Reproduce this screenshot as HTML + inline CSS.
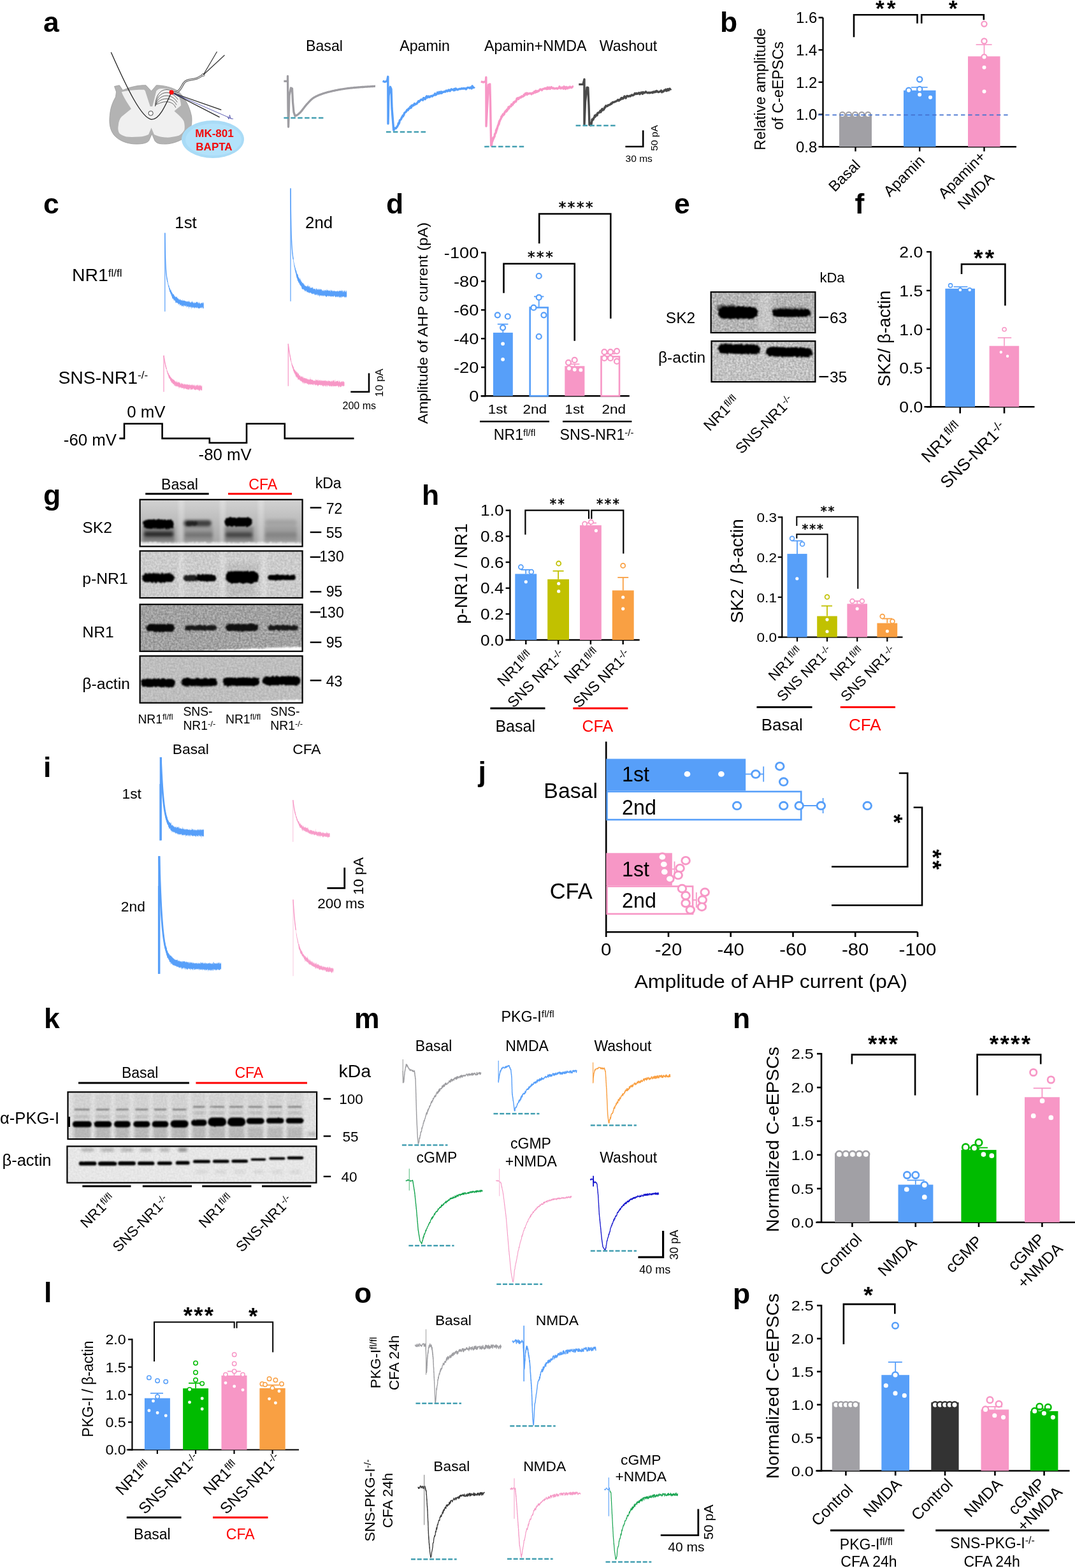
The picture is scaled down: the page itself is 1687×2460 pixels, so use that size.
<!DOCTYPE html>
<html><head><meta charset="utf-8"><title>Figure</title>
<style>html,body{margin:0;padding:0;background:#fff;}svg{display:block;}
text{font-family:"Liberation Sans", Arial, Helvetica, sans-serif;}</style></head>
<body><svg width="1687" height="2460" viewBox="0 0 1687 2460">
<rect width="1687" height="2460" fill="#fff"/>
<text x="68.0" y="50.0" font-size="44.5" font-weight="bold">a</text>
<path d="M179.5,135.5 L187.4,133.8 L192.7,141.5 C205,136 218,133.5 229,133.8 L237.5,143 L245.4,133.8 C258,134 270,137 279,142.6 C290,152 298,168 300.7,183 C302,195 299,205 293,213 C285,221 270,226 259.4,226 C250,226 246,225 243,221 L238.4,210 L233.5,221 C230,225 222,226 213.8,226 C200,226 187,221 179,212 C172,203 171,192 172.5,180 C173.5,168 177,160 181.5,152 L182.5,144 Z" fill="#b3b3b3" stroke="#9a9a9a" stroke-width="0.8"/>
<path d="M190.9,144.3 C205,141 216,140.5 226.1,140.8 L227.8,142.6 L235.7,167.1 L239.2,167.1 L245.4,142.6 C248,140 250,139 252.4,139 C258,139 262,139 266.5,139.9 C272,142 276,144 278.8,147.8 C282,154 284,160 284,165.4 L273.5,174.2 C280,180 286,185 288.4,190 C290,195 290,200 289.3,204 C287,208 284,211 280.5,212.8 C272,215 265,216 259.4,215.5 C252,215 246,213 241.9,211 L237.5,200.5 L233.1,211 C228,213 224,214.6 219,214.6 C210,215 203,215 198,214.6 C193,213 189,211 187.4,209.3 C185,205 185,201 185.7,197 C186,191 188,186 190.9,183 L205.9,170.7 L198,158.4 C195,153 192,148 190.9,144.3 Z" fill="#f0f0f0" stroke="none" stroke-width="0"/>
<path d="M243.5,167.0 C244.0,152.0 250.0,140.5 262.0,140.5 C270.0,141.0 276.0,146.0 280.5,152.0" fill="none" stroke="#555" stroke-width="0.9"/>
<path d="M244.1,166.0 C244.5,155.2 251.0,145.1 262.0,145.3 C270.0,145.8 275.5,150.6 279.3,156.2" fill="none" stroke="#555" stroke-width="0.9"/>
<path d="M244.7,165.0 C245.0,158.4 252.0,149.7 262.0,150.1 C270.0,150.6 275.0,155.2 278.1,160.4" fill="none" stroke="#555" stroke-width="0.9"/>
<path d="M245.3,164.0 C245.5,161.6 253.0,154.3 262.0,154.9 C270.0,155.4 274.5,159.8 276.9,164.6" fill="none" stroke="#555" stroke-width="0.9"/>
<path d="M245.9,163.0 C246.0,164.8 254.0,158.9 262.0,159.7 C270.0,160.2 274.0,164.4 275.7,168.8" fill="none" stroke="#555" stroke-width="0.9"/>
<circle cx="236.6" cy="177.7" r="3.6" fill="#fff" stroke="#444" stroke-width="1"/>
<path d="M174.3,82 C200,140 222,185 237.5,187.3 C250,188 260,165 269,145" fill="none" stroke="#222" stroke-width="1.3"/>
<path d="M269,145 C281,147 283,139 288,131 C292,124 300,126 309,123 C314,121 316,119 319,117" fill="none" stroke="#555" stroke-width="3.4"/>
<path d="M269,145 C281,147 283,139 288,131 C292,124 300,126 309,123 C314,121 316,119 319,117" fill="none" stroke="#e8e8e8" stroke-width="1.3"/>
<circle cx="319.0" cy="117.5" r="2.2" fill="#fff" stroke="#555" stroke-width="0.8"/>
<line x1="319.0" y1="117.5" x2="340.5" y2="81.0" stroke="#333" stroke-width="1.2"/>
<line x1="319.0" y1="117.5" x2="352.5" y2="86.5" stroke="#333" stroke-width="1.2"/>
<line x1="269.0" y1="145.0" x2="347.3" y2="172.4" stroke="#222" stroke-width="1.3"/>
<line x1="269.0" y1="145.0" x2="344.6" y2="183.8" stroke="#222" stroke-width="1.3"/>
<line x1="269.0" y1="145.0" x2="363.0" y2="186.0" stroke="#3a3aa0" stroke-width="0.8"/>
<path d="M357,183 L359,187 L360.5,180.5 L362,186 L366,186.5" fill="none" stroke="#3a3aa0" stroke-width="0.8"/>
<circle cx="269.1" cy="144.8" r="3.6" fill="#ff1010"/>
<ellipse cx="334" cy="218.5" rx="49" ry="29.5" fill="#a9dbf6"/>
<ellipse cx="335" cy="219" rx="44" ry="25" fill="#b3e2fb"/>
<text x="336.5" y="214.5" font-size="17" text-anchor="middle" font-weight="bold" fill="#f20a0a">MK-801</text>
<text x="336.0" y="235.5" font-size="17" text-anchor="middle" font-weight="bold" fill="#f20a0a">BAPTA</text>
<text x="509.0" y="80.0" font-size="23.2" text-anchor="middle">Basal</text>
<text x="666.5" y="80.0" font-size="23.2" text-anchor="middle">Apamin</text>
<text x="840.2" y="80.0" font-size="23.2" text-anchor="middle">Apamin+NMDA</text>
<text x="986.0" y="80.0" font-size="23.2" text-anchor="middle">Washout</text>
<polyline points="445.4,127.3 451.5,127.3 451.5,119.5 452.0,170.0 452.6,199.0 454.0,150.0 456.5,138.0 458.5,139.0 459.5,160.0 461.0,176.0 463.0,182.0 463.0,182.0 463.7,181.7 464.6,181.3 465.8,180.8 467.0,180.0 467.7,179.5 468.4,178.9 469.1,178.3 469.9,177.6 470.8,176.8 471.7,175.8 472.7,174.7 473.2,174.1 473.8,173.4 474.4,172.6 475.0,171.8 475.6,171.0 476.3,170.1 477.0,169.2 477.6,168.3 478.3,167.4 479.0,166.5 479.8,165.6 480.5,164.7 481.2,163.8 482.0,163.0 482.7,162.3 483.3,161.6 484.0,160.9 484.6,160.2 485.2,159.5 485.9,158.8 486.6,158.1 487.2,157.4 488.0,156.7 488.7,156.1 489.5,155.4 490.3,154.8 491.1,154.1 492.0,153.5 493.0,152.9 494.0,152.3 494.8,151.9 495.5,151.5 496.3,151.1 497.2,150.7 498.0,150.3 498.8,149.9 499.7,149.5 500.6,149.1 501.5,148.8 502.5,148.4 503.4,148.1 504.4,147.7 505.4,147.4 506.4,147.0 507.4,146.7 508.5,146.3 509.5,146.0 510.7,145.7 511.8,145.4 512.9,145.0 514.1,144.7 515.3,144.4 516.1,144.2 517.0,144.0 517.8,143.8 518.7,143.5 519.6,143.3 520.5,143.1 521.4,142.9 522.3,142.7 523.2,142.5 524.2,142.3 525.1,142.1 526.1,141.9 527.1,141.7 528.0,141.5 529.0,141.3 530.0,141.1 531.0,140.9 532.1,140.7 533.1,140.5 534.1,140.4 535.2,140.2 536.2,140.0 537.3,139.8 538.4,139.7 539.5,139.5 540.5,139.3 541.7,139.2 542.8,139.0 543.9,138.8 545.0,138.7 546.2,138.5 547.3,138.4 548.2,138.3 549.2,138.2 550.1,138.1 551.2,138.0 552.2,137.9 553.3,137.8 554.4,137.7 555.5,137.5 556.6,137.5 557.7,137.4 558.9,137.3 560.1,137.2 561.2,137.1 562.4,137.0 563.6,136.9 564.8,136.8 566.0,136.7 567.2,136.6 568.4,136.5 569.6,136.5 570.7,136.4 571.9,136.3 573.0,136.2 574.2,136.2 575.3,136.1 576.4,136.0 577.5,135.9 578.5,135.9 579.6,135.8 580.6,135.8 581.5,135.7 582.5,135.6 583.4,135.6 584.2,135.5 585.0,135.5 585.8,135.4 586.5,135.4 587.2,135.3 587.9,135.3 588.5,135.2 589.0,135.2" fill="none" stroke="#9e9da2" stroke-width="3.3" stroke-linejoin="round"/>
<line x1="445.4" y1="184.9" x2="510.6" y2="184.9" stroke="#45a0b2" stroke-width="2.5" stroke-dasharray="7.5 3.4"/>
<polyline points="600.6,127.2 604.0,128.5 607.5,127.0 608.8,120.3 609.0,170.0 609.0,194.0 610.0,150.0 612.5,136.3 614.0,140.0 615.0,170.0 617.7,204.0 617.7,203.8 618.1,204.0 618.6,202.9 619.2,202.2 619.9,201.0 620.7,200.9 621.5,201.3 622.3,199.7 623.2,199.1 624.0,197.2 624.4,196.7 624.8,195.8 625.3,193.3 625.7,194.7 626.2,193.5 626.6,192.6 627.1,189.7 627.5,188.7 628.0,188.5 628.5,187.9 629.0,187.6 629.5,186.3 630.0,185.9 630.5,183.9 631.0,183.8 631.5,183.0 632.1,181.2 632.6,182.5 633.2,180.6 633.8,180.3 634.4,177.9 635.0,177.0 635.6,176.5 636.2,176.0 636.8,175.9 637.5,174.9 638.2,173.5 638.9,172.3 639.6,172.0 640.4,172.8 641.3,170.2 642.3,170.4 643.3,169.7 643.9,167.4 644.6,168.3 645.3,168.9 646.0,165.4 646.7,166.4 647.4,166.0 648.2,164.8 649.0,165.4 649.7,164.3 650.5,162.5 651.4,164.0 652.2,163.3 653.0,163.0 653.9,162.8 654.8,161.3 655.7,160.5 656.6,158.7 657.6,159.8 658.5,158.2 659.5,157.8 660.5,156.5 661.5,156.2 662.5,156.1 663.5,157.2 664.6,153.7 665.4,153.8 666.2,155.0 667.1,155.7 667.9,154.5 668.8,151.9 669.7,150.9 670.6,153.1 671.6,151.8 672.5,151.0 673.5,152.5 674.5,152.3 675.5,151.0 676.4,150.7 677.4,150.5 678.4,151.2 679.5,149.9 680.5,149.5 681.5,149.1 682.5,146.9 683.5,149.1 684.5,148.4 685.5,147.7 686.5,145.1 687.5,146.0 688.5,147.0 689.4,144.3 690.4,145.4 691.3,146.2 692.3,143.8 693.2,146.2 694.1,145.0 694.9,144.1 695.8,144.2 696.6,144.3 697.8,143.5 698.9,144.1 700.1,142.2 701.2,142.1 702.2,143.2 703.3,142.0 704.3,141.0 705.3,142.5 706.3,142.8 707.3,140.9 708.3,139.9 709.2,140.8 710.2,140.7 711.2,140.4 712.1,141.8 713.1,139.5 714.0,141.4 715.0,139.0 716.0,139.3 717.0,140.5 718.0,140.8 719.0,140.4 720.0,139.8 721.0,139.5 722.1,139.4 723.2,139.6 724.3,138.8 725.5,139.0 726.6,139.2 727.8,138.5 729.0,139.1 730.2,138.8 731.4,139.9 732.6,138.3 733.8,137.5 734.9,137.4 736.0,137.6 737.1,138.4 738.2,137.1 739.2,137.7 740.2,138.9 741.1,134.9 741.9,136.1 742.7,137.2 743.4,137.3 744.0,137.1 744.6,136.4" fill="none" stroke="#579ff9" stroke-width="3.4" stroke-linejoin="round"/>
<line x1="606.0" y1="207.1" x2="671.0" y2="207.1" stroke="#45a0b2" stroke-width="2.5" stroke-dasharray="7.5 3.4"/>
<polyline points="754.7,128.2 759.0,129.0 762.3,127.5 762.8,121.3 763.0,170.0 763.0,198.0 764.5,170.0 766.5,133.0 768.8,132.0 769.5,160.0 770.7,228.0 770.7,228.6 770.9,227.7 771.1,226.2 771.4,227.9 771.8,225.0 772.1,223.1 772.5,222.3 772.9,221.1 773.3,220.1 773.6,216.6 774.0,217.6 774.4,217.9 774.7,215.1 775.0,215.3 775.3,215.5 775.7,214.6 776.1,214.2 776.5,210.3 777.1,210.1 777.7,208.5 777.9,208.7 778.2,208.4 778.5,204.2 778.7,206.8 779.0,203.7 779.2,204.7 779.5,201.9 779.8,202.4 780.1,202.4 780.4,200.2 780.7,199.5 781.0,199.0 781.3,197.4 781.7,196.2 782.0,196.6 782.4,195.1 782.8,192.9 783.1,194.6 783.5,190.1 784.0,190.9 784.4,188.9 784.8,188.2 785.3,187.8 785.8,186.4 786.3,185.9 786.8,183.1 787.3,182.3 787.8,183.3 788.4,181.1 788.9,180.2 789.5,179.0 790.1,180.6 790.7,179.3 791.3,179.1 792.0,176.1 792.6,176.1 793.3,174.3 793.9,175.1 794.6,175.1 795.3,172.0 796.0,173.4 796.6,172.1 797.3,170.3 798.0,167.9 798.7,170.2 799.4,168.1 800.0,166.9 800.7,167.1 801.4,166.4 802.0,166.7 802.7,163.7 803.3,165.0 804.1,164.5 804.9,163.7 805.6,161.5 806.4,160.2 807.2,161.1 808.0,159.5 808.8,158.8 809.6,159.3 810.4,157.1 811.2,154.6 812.0,155.6 812.8,153.7 813.6,155.5 814.3,154.4 815.1,153.0 815.9,153.0 816.7,153.2 817.4,152.0 818.2,152.6 818.9,150.9 819.7,151.5 820.4,151.4 821.4,151.0 822.4,148.5 823.4,149.5 824.4,146.7 825.3,147.1 826.2,146.1 827.1,148.6 828.0,146.3 829.0,147.3 829.9,146.9 830.9,146.9 831.9,146.2 833.0,146.7 834.1,147.8 835.3,145.9 836.1,146.1 836.9,146.3 837.7,144.9 838.5,143.7 839.3,144.0 840.1,145.2 840.9,142.4 841.7,143.0 842.5,144.2 843.4,143.7 844.3,142.6 845.2,143.0 846.1,142.1 847.1,140.6 848.1,139.9 849.2,140.5 850.3,141.6 851.4,140.0 852.7,139.4 853.9,139.3 855.3,138.3 856.7,139.4 857.5,138.3 858.3,139.6 859.2,137.1 860.1,139.4 861.1,138.4 862.0,137.1 863.1,139.4 864.1,138.5 865.2,136.6 866.3,137.7 867.4,138.7 868.6,137.9 869.7,139.0 870.9,138.9 872.1,138.7 873.3,138.3 874.5,139.2 875.7,138.5 876.9,138.2 878.1,135.9 879.3,138.5 880.5,138.8 881.7,137.3 882.9,137.1 884.1,139.2 885.2,135.8 886.4,137.8 887.5,139.5 888.6,136.4 889.6,137.8 890.6,138.8 891.6,137.0 892.6,137.6 893.5,137.8 894.4,136.1 895.3,136.8 896.1,137.1 896.8,137.6 897.5,136.8 898.2,136.6 898.8,135.8 899.3,136.4" fill="none" stroke="#f797c6" stroke-width="3.4" stroke-linejoin="round"/>
<line x1="760.2" y1="230.1" x2="825.0" y2="230.1" stroke="#45a0b2" stroke-width="2.5" stroke-dasharray="7.5 3.4"/>
<polyline points="908.3,132.4 915.0,132.4 917.0,124.5 917.0,170.0 917.0,196.0 918.5,160.0 921.0,137.3 922.8,137.5 924.0,165.0 925.0,196.0 927.0,196.0 927.0,196.8 927.2,195.5 927.4,193.9 927.7,193.0 928.0,195.2 928.3,192.7 928.7,191.1 929.2,187.1 929.7,188.8 930.3,187.5 931.0,187.5 931.5,185.7 932.1,184.5 932.7,184.3 933.4,181.3 934.1,183.2 934.8,181.8 935.6,180.1 936.3,181.1 937.1,180.8 937.9,177.1 938.7,177.0 939.6,177.1 940.4,176.3 941.2,175.1 942.0,173.8 942.8,176.0 943.5,174.3 944.3,171.7 945.1,170.9 945.9,173.0 946.7,171.7 947.5,171.9 948.3,170.3 949.1,168.2 949.9,168.6 950.7,165.9 951.6,166.6 952.4,166.6 953.3,166.6 954.1,164.9 955.0,164.9 955.8,164.9 956.6,164.3 957.4,164.1 958.1,163.3 958.9,162.4 959.6,163.0 960.4,161.9 961.2,160.7 962.0,160.4 962.8,160.6 963.8,160.1 964.8,159.8 965.8,159.2 967.0,158.9 968.3,158.1 969.7,156.5 970.4,157.7 971.1,158.0 971.9,157.1 972.7,156.2 973.5,156.4 974.4,154.8 975.3,153.6 976.2,155.0 977.1,153.7 978.0,154.8 979.0,152.8 980.0,151.0 981.0,152.0 982.0,154.0 983.0,151.8 984.0,150.5 985.0,150.7 986.0,151.4 987.1,151.0 988.1,150.3 989.2,151.1 990.2,150.1 991.2,149.0 992.2,149.2 993.2,149.8 994.2,148.9 995.2,148.6 996.2,146.4 997.2,147.0 998.1,147.5 999.0,146.3 1000.0,147.3 1000.8,146.6 1001.7,146.7 1002.8,145.5 1004.0,147.8 1005.1,146.4 1006.2,145.0 1007.2,145.1 1008.3,147.3 1009.3,144.6 1010.4,145.7 1011.4,145.7 1012.4,144.9 1013.4,143.8 1014.4,145.0 1015.4,145.2 1016.4,145.9 1017.4,145.7 1018.3,145.0 1019.3,145.8 1020.3,145.5 1021.3,145.2 1022.3,145.1 1023.3,144.8 1024.3,145.6 1025.3,144.0 1026.3,144.3 1027.3,144.8 1028.3,143.4 1029.4,144.2 1030.5,142.6 1031.7,143.6 1032.8,144.6 1034.0,144.4 1035.2,143.7 1036.4,143.3 1037.6,142.0 1038.8,144.7 1040.0,143.4 1041.1,143.7 1042.3,141.7 1043.4,142.1 1044.5,140.4 1045.6,142.6 1046.6,142.5 1047.6,139.8 1048.5,141.3 1049.4,141.7 1050.2,139.4 1051.0,139.2 1051.7,139.7 1052.3,140.0 1052.9,139.2" fill="none" stroke="#4a4a4a" stroke-width="3.4" stroke-linejoin="round"/>
<line x1="903.6" y1="197.0" x2="968.6" y2="197.0" stroke="#45a0b2" stroke-width="2.5" stroke-dasharray="7.5 3.4"/>
<path d="M981.4,230 L1009.2,230 L1009.2,204.5" fill="none" stroke="#000" stroke-width="2.6"/>
<text x="1031.5" y="216.5" font-size="15.5" text-anchor="middle" transform="rotate(-90 1031.5 216.5)">50 pA</text>
<text x="1002.7" y="253.6" font-size="15.5" text-anchor="middle">30 ms</text>
<text x="1130.0" y="50.0" font-size="44.5" font-weight="bold">b</text>
<line x1="1291.5" y1="27.6" x2="1291.5" y2="231.4" stroke="#000" stroke-width="2.4"/>
<line x1="1284.5" y1="27.6" x2="1291.5" y2="27.6" stroke="#000" stroke-width="2.4"/>
<text x="1282.3" y="36.2" font-size="24" text-anchor="end">1.6</text>
<line x1="1284.5" y1="78.3" x2="1291.5" y2="78.3" stroke="#000" stroke-width="2.4"/>
<text x="1282.3" y="86.9" font-size="24" text-anchor="end">1.4</text>
<line x1="1284.5" y1="128.9" x2="1291.5" y2="128.9" stroke="#000" stroke-width="2.4"/>
<text x="1282.3" y="137.5" font-size="24" text-anchor="end">1.2</text>
<line x1="1284.5" y1="179.6" x2="1291.5" y2="179.6" stroke="#000" stroke-width="2.4"/>
<text x="1282.3" y="188.2" font-size="24" text-anchor="end">1.0</text>
<line x1="1284.5" y1="230.2" x2="1291.5" y2="230.2" stroke="#000" stroke-width="2.4"/>
<text x="1282.3" y="238.8" font-size="24" text-anchor="end">0.8</text>
<line x1="1290.3" y1="230.2" x2="1595.0" y2="230.2" stroke="#000" stroke-width="2.4"/>
<line x1="1342.5" y1="230.2" x2="1342.5" y2="237.5" stroke="#000" stroke-width="2.4"/>
<line x1="1443.2" y1="230.2" x2="1443.2" y2="237.5" stroke="#000" stroke-width="2.4"/>
<line x1="1544.5" y1="230.2" x2="1544.5" y2="237.5" stroke="#000" stroke-width="2.4"/>
<rect x="1317.0" y="179.6" width="51.0" height="50.6" fill="#a1a0a5"/>
<rect x="1418.0" y="141.8" width="50.5" height="88.4" fill="#579ff9"/>
<rect x="1519.0" y="88.4" width="50.5" height="141.8" fill="#f797c6"/>
<line x1="1443.2" y1="141.8" x2="1443.2" y2="137.0" stroke="#579ff9" stroke-width="1.6"/>
<line x1="1430.0" y1="137.0" x2="1455.7" y2="137.0" stroke="#579ff9" stroke-width="1.6"/>
<line x1="1544.5" y1="88.4" x2="1544.5" y2="70.0" stroke="#f797c6" stroke-width="1.6"/>
<line x1="1531.6" y1="70.0" x2="1556.6" y2="70.0" stroke="#f797c6" stroke-width="1.6"/>
<circle cx="1322.0" cy="180.0" r="4.1" fill="#fff" stroke="#a1a0a5" stroke-width="2.1"/>
<circle cx="1332.0" cy="180.0" r="4.1" fill="#fff" stroke="#a1a0a5" stroke-width="2.1"/>
<circle cx="1342.0" cy="180.0" r="4.1" fill="#fff" stroke="#a1a0a5" stroke-width="2.1"/>
<circle cx="1352.3" cy="180.0" r="4.1" fill="#fff" stroke="#a1a0a5" stroke-width="2.1"/>
<circle cx="1362.2" cy="180.0" r="4.1" fill="#fff" stroke="#a1a0a5" stroke-width="2.1"/>
<circle cx="1443.2" cy="124.5" r="4.1" fill="#fff" stroke="#579ff9" stroke-width="2.2"/>
<circle cx="1426.0" cy="141.8" r="4.1" fill="#fff" stroke="#579ff9" stroke-width="2.2"/>
<circle cx="1443.2" cy="139.9" r="4.1" fill="#fff" stroke="#579ff9" stroke-width="2.2"/>
<circle cx="1443.2" cy="148.4" r="4.1" fill="#fff" stroke="#579ff9" stroke-width="2.2"/>
<circle cx="1460.0" cy="152.8" r="4.1" fill="#fff" stroke="#579ff9" stroke-width="2.2"/>
<circle cx="1544.5" cy="37.6" r="4.1" fill="#fff" stroke="#f797c6" stroke-width="2.2"/>
<circle cx="1544.5" cy="64.4" r="4.1" fill="#fff" stroke="#f797c6" stroke-width="2.2"/>
<circle cx="1544.5" cy="89.5" r="4.1" fill="#fff" stroke="#f797c6" stroke-width="2.2"/>
<circle cx="1544.5" cy="105.7" r="4.1" fill="#fff" stroke="#f797c6" stroke-width="2.2"/>
<circle cx="1544.5" cy="143.6" r="4.1" fill="#fff" stroke="#f797c6" stroke-width="2.2"/>
<line x1="1284.0" y1="180.4" x2="1582.0" y2="180.4" stroke="#4472d0" stroke-width="1.7" stroke-dasharray="6.4 4.8"/>
<path d="M1340.0,58.2 L1340.0,23.2 L1439.5,23.2 L1439.5,36.8" fill="none" stroke="#000" stroke-width="2.6"/>
<path d="M1446.2,36.8 L1446.2,23.2 L1543.8,23.2 L1543.8,31.3" fill="none" stroke="#000" stroke-width="2.6"/>
<text x="1373.9" y="25.4" font-size="35.6" font-weight="bold" style="font-family:'Liberation Sans', Arial, sans-serif" letter-spacing="4.06">**</text>
<text x="1488.7" y="25.4" font-size="35.6" font-weight="bold" style="font-family:'Liberation Sans', Arial, sans-serif">*</text>
<text x="1201.0" y="140.0" font-size="23.3" text-anchor="middle" transform="rotate(-90 1201.0 140.0)">Relative amplitude</text>
<text x="1229.0" y="134.4" font-size="23.3" text-anchor="middle" transform="rotate(-90 1229.0 134.4)">of C-eEPSCs</text>
<text x="1351.5" y="260.5" font-size="23.5" text-anchor="end" transform="rotate(-45 1351.5 260.5)">Basal</text>
<text x="1452.5" y="253.5" font-size="23.5" text-anchor="end" transform="rotate(-45 1452.5 253.5)">Apamin</text>
<text x="1548.0" y="247.0" font-size="23.5" text-anchor="end" transform="rotate(-45 1548.0 247.0)">Apamin+</text>
<text x="1561.5" y="281.0" font-size="23.5" text-anchor="end" transform="rotate(-45 1561.5 281.0)">NMDA</text>
<defs><filter id="bl2" x="-20%" y="-50%" width="140%" height="200%"><feGaussianBlur stdDeviation="2.2"/></filter><filter id="bl4" x="-20%" y="-50%" width="140%" height="200%"><feGaussianBlur stdDeviation="4"/></filter><filter id="bl1" x="-20%" y="-80%" width="140%" height="260%"><feTurbulence type="fractalNoise" baseFrequency="0.3" numOctaves="2" seed="5" result="t"/><feDisplacementMap in="SourceGraphic" in2="t" scale="4.5" xChannelSelector="R" yChannelSelector="G" result="d"/><feGaussianBlur in="d" stdDeviation="0.9"/></filter><filter id="bs" x="-20%" y="-80%" width="140%" height="260%"><feTurbulence type="fractalNoise" baseFrequency="0.2" numOctaves="1" seed="11" result="t"/><feDisplacementMap in="SourceGraphic" in2="t" scale="2" xChannelSelector="R" yChannelSelector="G" result="d"/><feGaussianBlur in="d" stdDeviation="0.8"/></filter><filter id="bl3" x="-20%" y="-80%" width="140%" height="260%"><feTurbulence type="fractalNoise" baseFrequency="0.25" numOctaves="2" seed="9" result="t"/><feDisplacementMap in="SourceGraphic" in2="t" scale="5" xChannelSelector="R" yChannelSelector="G" result="d"/><feGaussianBlur in="d" stdDeviation="1.8"/></filter><linearGradient id="gsk2" x1="0" y1="0" x2="0" y2="1"><stop offset="0" stop-color="#d2d2d2"/><stop offset="0.45" stop-color="#bcbcbc"/><stop offset="0.85" stop-color="#a9a9a9"/><stop offset="1" stop-color="#c4c4c4"/></linearGradient><filter id="noise" x="0" y="0" width="100%" height="100%" color-interpolation-filters="sRGB"><feTurbulence type="fractalNoise" baseFrequency="0.32" numOctaves="2" seed="3"/><feColorMatrix type="matrix" values="1.8 0 0 0 -0.4  1.8 0 0 0 -0.4  1.8 0 0 0 -0.4  0 0 0 0 1"/></filter></defs>
<text x="68.0" y="334.5" font-size="44.5" font-weight="bold">c</text>
<text transform="translate(291.5 357.6)" font-size="25.8" text-anchor="middle">1st</text>
<text transform="translate(500.6 357.6)" font-size="25.8" text-anchor="middle">2nd</text>
<text transform="translate(113.0 441.0)" font-size="28.4">NR1<tspan font-size="17" dy="-7.3">fl/fl</tspan></text>
<text transform="translate(91.4 601.6)" font-size="28.4">SNS-NR1<tspan font-size="17" dy="-7.3">-/-</tspan></text>
<polygon points="258.8,365.0 259.2,386.6 259.5,400.6 259.9,410.9 260.2,418.5 260.6,423.4 260.9,427.8 261.3,430.4 261.6,433.5 262.0,435.1 262.3,437.2 262.7,438.7 263.0,441.1 263.4,442.9 263.7,443.2 264.1,445.1 264.4,446.5 264.8,448.0 265.1,447.2 265.5,449.3 265.8,450.4 266.2,452.5 266.5,452.0 266.9,452.4 267.2,454.1 267.6,455.1 267.9,455.5 268.3,456.4 268.6,453.2 269.0,457.2 269.3,458.5 269.7,458.1 270.0,458.5 270.4,459.7 270.7,460.2 271.1,460.7 271.4,461.4 271.8,462.5 272.1,461.0 272.5,461.9 272.8,461.5 273.2,463.2 273.5,463.6 273.9,464.8 274.2,465.8 274.6,464.7 274.9,464.1 275.3,465.5 275.6,465.9 276.0,466.5 276.3,466.5 276.7,466.1 277.0,464.6 277.4,466.4 277.7,465.1 278.1,467.0 278.4,467.9 278.8,467.8 279.1,467.7 279.5,468.8 279.8,468.1 280.2,469.0 280.5,469.6 280.9,469.4 281.2,470.9 281.6,470.3 281.9,469.8 282.3,469.3 282.6,468.7 283.0,470.4 283.3,470.1 283.7,471.0 284.0,471.5 284.4,471.0 284.7,470.8 285.1,470.7 285.4,471.0 285.8,472.3 286.1,469.1 286.5,471.5 286.8,472.2 287.2,471.8 287.5,470.8 287.9,471.9 288.2,470.8 288.6,472.0 288.9,471.9 289.3,471.3 289.6,472.1 290.0,471.6 290.3,472.5 290.7,471.9 291.0,472.0 291.4,473.1 291.7,472.3 292.1,473.7 292.4,471.7 292.8,473.4 293.1,472.6 293.5,473.3 293.8,473.2 294.2,473.5 294.5,473.0 294.9,472.1 295.2,473.1 295.6,474.2 295.9,472.0 296.3,474.1 296.6,472.2 297.0,471.1 297.3,474.1 297.7,473.3 298.0,474.2 298.4,474.5 298.7,475.0 299.1,472.5 299.4,474.9 299.8,475.0 300.1,473.2 300.5,474.2 300.8,474.2 301.2,473.3 301.5,473.2 301.9,471.2 302.2,474.5 302.6,474.8 302.9,474.1 303.3,475.7 303.6,474.7 304.0,473.0 304.3,476.0 304.7,475.7 305.0,475.5 305.4,473.8 305.7,474.5 306.1,475.3 306.4,474.7 306.8,476.1 307.1,474.9 307.5,473.7 307.8,475.2 308.2,473.7 308.5,474.2 308.9,473.0 309.2,473.4 309.6,473.7 309.9,474.1 310.3,474.3 310.6,475.8 311.0,474.6 311.3,476.6 311.7,476.3 312.0,472.4 312.4,474.5 312.7,475.2 313.1,474.7 313.4,476.5 313.8,475.7 314.1,475.6 314.5,477.2 314.8,477.2 315.2,475.4 315.5,475.5 315.9,474.9 316.2,474.6 316.6,475.4 316.9,475.7 317.3,475.5 317.6,476.2 318.0,474.7 318.3,473.9 318.7,474.3 319.0,476.0 319.4,475.8 319.7,474.3 319.7,483.8 319.4,483.5 319.0,484.6 318.7,483.9 318.3,483.7 318.0,482.3 317.6,482.7 317.3,481.1 316.9,483.1 316.6,484.5 316.2,482.9 315.9,481.5 315.5,483.4 315.2,482.2 314.8,483.2 314.5,483.7 314.1,482.6 313.8,484.2 313.4,483.1 313.1,483.4 312.7,484.4 312.4,484.0 312.0,483.3 311.7,483.6 311.3,484.5 311.0,482.5 310.6,483.3 310.3,484.1 309.9,483.2 309.6,482.8 309.2,480.7 308.9,484.0 308.5,482.3 308.2,483.6 307.8,482.3 307.5,484.0 307.1,482.1 306.8,482.0 306.4,482.7 306.1,482.1 305.7,484.0 305.4,483.6 305.0,483.7 304.7,482.2 304.3,482.2 304.0,483.8 303.6,481.1 303.3,482.5 302.9,482.3 302.6,483.0 302.2,483.6 301.9,482.3 301.5,482.5 301.2,481.3 300.8,481.6 300.5,485.4 300.1,482.5 299.8,480.4 299.4,483.1 299.1,482.9 298.7,481.5 298.4,481.5 298.0,481.3 297.7,481.5 297.3,481.2 297.0,481.5 296.6,482.1 296.3,485.5 295.9,482.1 295.6,480.9 295.2,480.2 294.9,480.7 294.5,480.9 294.2,481.7 293.8,481.0 293.5,481.5 293.1,480.3 292.8,478.5 292.4,481.9 292.1,482.8 291.7,478.8 291.4,480.4 291.0,480.3 290.7,479.9 290.3,480.9 290.0,479.7 289.6,479.6 289.3,479.0 288.9,478.9 288.6,480.1 288.2,481.9 287.9,481.0 287.5,480.7 287.2,478.2 286.8,480.8 286.5,480.1 286.1,479.4 285.8,479.8 285.4,480.6 285.1,481.0 284.7,480.1 284.4,478.5 284.0,478.5 283.7,477.9 283.3,478.2 283.0,478.7 282.6,479.6 282.3,479.8 281.9,477.2 281.6,477.0 281.2,476.0 280.9,477.2 280.5,477.5 280.2,477.5 279.8,478.5 279.5,475.6 279.1,476.0 278.8,475.2 278.4,475.8 278.1,475.6 277.7,474.3 277.4,474.9 277.0,475.1 276.7,476.3 276.3,474.2 276.0,474.2 275.6,475.4 275.3,474.6 274.9,470.8 274.6,472.8 274.2,471.3 273.9,472.8 273.5,469.8 273.2,471.8 272.8,469.1 272.5,472.3 272.1,469.4 271.8,468.1 271.4,468.9 271.1,468.5 270.7,469.4 270.4,467.3 270.0,467.2 269.7,462.9 269.3,465.4 269.0,465.0 268.6,462.6 268.3,461.1 267.9,462.1 267.6,460.2 267.2,459.6 266.9,458.1 266.5,458.2 266.2,457.6 265.8,455.3 265.5,454.5 265.1,453.0 264.8,451.1 264.4,450.3 264.1,449.7 263.7,447.6 263.4,446.0 263.0,444.1 262.7,442.5 262.3,440.0 262.0,438.9 261.6,436.1 261.3,432.6 260.9,429.7 260.6,426.0 260.2,420.2 259.9,412.4 259.5,402.3 259.2,387.9 258.8,366.2" fill="#579ff9"/>
<line x1="258.8" y1="488.8" x2="258.8" y2="365.6" stroke="#579ff9" stroke-width="1.2"/>
<polyline points="258.8,365.6 259.0,378.8 259.2,389.4 259.4,398.0 259.6,404.9 259.8,410.5 260.0,415.2 260.2,419.1 260.4,422.3 260.6,425.1 260.8,427.5 261.0,429.6 261.2,431.5 261.4,433.1 261.6,434.6 261.8,436.0 262.0,437.3 262.2,438.5 262.4,439.6 262.6,440.6 262.8,441.6 263.0,442.6" fill="none" stroke="#579ff9" stroke-width="1.3" stroke-linejoin="round"/>
<polygon points="456.0,294.7 456.4,325.6 456.7,346.8 457.1,361.5 457.4,372.4 457.8,379.8 458.1,385.9 458.5,390.0 458.8,393.9 459.2,396.4 459.5,399.4 459.9,402.3 460.2,404.6 460.6,407.2 460.9,409.2 461.3,411.2 461.6,413.0 462.0,414.3 462.3,416.2 462.7,416.4 463.0,419.4 463.4,419.6 463.7,420.7 464.1,422.4 464.4,424.7 464.8,423.8 465.1,424.5 465.5,426.8 465.8,428.6 466.2,429.5 466.5,429.9 466.9,428.9 467.2,431.0 467.6,430.8 467.9,432.7 468.3,434.6 468.6,435.4 469.0,434.7 469.3,436.2 469.7,436.0 470.0,438.1 470.4,437.4 470.7,437.8 471.1,439.6 471.4,435.1 471.8,440.5 472.1,439.6 472.5,440.0 472.8,442.1 473.2,442.0 473.5,443.1 473.9,441.6 474.2,443.5 474.6,443.9 474.9,445.0 475.3,443.2 475.6,443.9 476.0,444.3 476.3,445.7 476.7,445.1 477.0,447.3 477.4,445.9 477.7,446.0 478.1,448.3 478.4,448.0 478.8,448.5 479.1,447.9 479.5,448.8 479.8,448.9 480.2,449.4 480.5,447.9 480.9,449.4 481.2,449.4 481.6,449.6 481.9,449.2 482.3,448.0 482.6,447.4 483.0,449.5 483.3,450.5 483.7,445.6 484.0,449.1 484.4,448.7 484.7,449.4 485.1,450.9 485.4,448.2 485.8,450.4 486.1,447.4 486.5,450.8 486.8,452.2 487.2,452.3 487.5,451.0 487.9,451.0 488.2,451.7 488.6,451.2 488.9,451.2 489.3,451.5 489.6,451.9 490.0,450.3 490.3,450.4 490.7,452.0 491.0,450.1 491.4,452.9 491.7,454.0 492.1,452.8 492.4,453.6 492.8,452.6 493.1,453.3 493.5,453.1 493.8,454.0 494.2,452.3 494.5,454.2 494.9,452.6 495.2,454.8 495.6,455.7 495.9,452.9 496.3,452.9 496.6,452.6 497.0,452.4 497.3,452.3 497.7,454.5 498.0,454.8 498.4,453.7 498.7,454.5 499.1,453.0 499.4,454.1 499.8,455.6 500.1,452.5 500.5,453.1 500.8,454.9 501.2,453.5 501.5,454.1 501.9,455.1 502.2,454.8 502.6,453.4 502.9,452.7 503.3,453.9 503.6,455.0 504.0,452.7 504.3,454.1 504.7,454.8 505.0,454.5 505.4,457.7 505.7,453.8 506.1,456.5 506.4,455.4 506.8,456.4 507.1,455.2 507.5,455.9 507.8,453.6 508.2,457.3 508.5,456.6 508.9,457.0 509.2,454.6 509.6,455.1 509.9,455.2 510.3,455.4 510.6,455.9 511.0,454.7 511.3,457.4 511.7,454.9 512.0,453.8 512.4,456.3 512.7,455.6 513.1,452.8 513.4,456.1 513.8,455.4 514.1,455.7 514.5,455.0 514.8,454.8 515.2,456.0 515.5,455.9 515.9,457.0 516.2,454.2 516.6,456.4 516.9,456.0 517.3,455.6 517.6,456.6 518.0,456.1 518.3,455.1 518.7,458.5 519.0,456.8 519.4,453.8 519.7,454.9 520.1,456.2 520.4,455.6 520.8,457.1 521.1,455.0 521.5,457.2 521.8,455.5 522.2,456.1 522.5,458.1 522.9,456.6 523.2,457.1 523.6,455.8 523.9,456.3 524.3,456.9 524.6,455.7 525.0,456.3 525.3,456.1 525.7,457.3 526.0,457.5 526.4,456.5 526.7,457.0 527.1,456.5 527.4,457.4 527.8,457.2 528.1,456.0 528.5,457.0 528.8,457.6 529.2,455.8 529.5,456.4 529.9,457.5 530.2,455.5 530.6,458.3 530.9,456.1 531.3,457.4 531.6,457.0 532.0,457.3 532.3,456.0 532.7,455.6 533.0,456.3 533.4,456.8 533.7,456.3 534.1,456.5 534.4,456.0 534.8,456.3 535.1,457.3 535.5,456.1 535.8,454.0 536.2,456.7 536.5,455.8 536.9,457.8 537.2,455.5 537.6,456.0 537.9,455.5 538.3,458.8 538.6,458.3 539.0,457.9 539.3,456.1 539.7,456.4 540.0,457.1 540.4,455.2 540.7,456.1 541.1,456.6 541.4,458.5 541.8,458.1 542.1,457.8 542.5,454.9 542.8,457.1 543.2,458.9 543.5,456.5 543.9,455.4 544.2,457.4 544.2,466.3 543.9,464.9 543.5,466.3 543.2,467.2 542.8,465.2 542.5,465.7 542.1,467.0 541.8,467.3 541.4,466.0 541.1,465.7 540.7,465.3 540.4,467.2 540.0,465.7 539.7,465.0 539.3,465.8 539.0,465.3 538.6,465.0 538.3,465.6 537.9,465.6 537.6,466.3 537.2,465.0 536.9,466.3 536.5,467.6 536.2,465.0 535.8,465.0 535.5,465.4 535.1,467.8 534.8,467.3 534.4,465.2 534.1,465.9 533.7,467.1 533.4,466.6 533.0,466.4 532.7,466.4 532.3,465.1 532.0,467.9 531.6,464.6 531.3,464.6 530.9,466.7 530.6,465.2 530.2,466.1 529.9,464.8 529.5,467.0 529.2,465.1 528.8,465.5 528.5,466.5 528.1,464.8 527.8,466.8 527.4,464.4 527.1,466.0 526.7,465.7 526.4,466.4 526.0,466.2 525.7,465.1 525.3,464.8 525.0,464.6 524.6,464.0 524.3,463.2 523.9,465.2 523.6,466.0 523.2,464.9 522.9,464.9 522.5,464.9 522.2,465.7 521.8,464.9 521.5,464.7 521.1,464.4 520.8,465.9 520.4,465.0 520.1,464.7 519.7,464.8 519.4,464.4 519.0,466.5 518.7,465.2 518.3,464.9 518.0,464.5 517.6,464.2 517.3,464.7 516.9,464.7 516.6,464.0 516.2,465.0 515.9,466.0 515.5,464.3 515.2,464.9 514.8,463.7 514.5,463.9 514.1,463.9 513.8,464.3 513.4,465.4 513.1,464.9 512.7,466.3 512.4,464.8 512.0,466.4 511.7,464.4 511.3,464.9 511.0,466.0 510.6,463.5 510.3,465.1 509.9,463.0 509.6,463.7 509.2,464.3 508.9,465.2 508.5,462.6 508.2,464.4 507.8,465.0 507.5,464.6 507.1,463.4 506.8,463.3 506.4,463.7 506.1,464.2 505.7,465.2 505.4,464.6 505.0,462.8 504.7,464.7 504.3,463.0 504.0,464.0 503.6,463.6 503.3,463.2 502.9,464.3 502.6,463.4 502.2,463.3 501.9,464.2 501.5,463.4 501.2,466.7 500.8,464.3 500.5,463.1 500.1,462.0 499.8,463.7 499.4,464.3 499.1,461.9 498.7,464.1 498.4,462.9 498.0,461.3 497.7,460.8 497.3,464.3 497.0,461.7 496.6,463.3 496.3,461.8 495.9,463.3 495.6,463.0 495.2,461.5 494.9,461.3 494.5,463.2 494.2,462.7 493.8,463.3 493.5,461.4 493.1,461.3 492.8,460.6 492.4,460.3 492.1,461.6 491.7,461.4 491.4,461.1 491.0,461.2 490.7,461.2 490.3,459.8 490.0,461.7 489.6,461.1 489.3,461.5 488.9,460.3 488.6,459.7 488.2,460.5 487.9,459.3 487.5,458.9 487.2,459.3 486.8,459.3 486.5,461.0 486.1,458.4 485.8,460.2 485.4,459.2 485.1,458.4 484.7,459.6 484.4,458.7 484.0,460.3 483.7,458.8 483.3,458.1 483.0,458.1 482.6,459.3 482.3,457.5 481.9,457.7 481.6,458.4 481.2,458.2 480.9,456.5 480.5,456.0 480.2,455.8 479.8,455.8 479.5,458.0 479.1,456.7 478.8,455.5 478.4,458.0 478.1,456.0 477.7,454.4 477.4,455.9 477.0,454.6 476.7,454.8 476.3,453.3 476.0,453.8 475.6,454.4 475.3,453.2 474.9,453.8 474.6,453.9 474.2,453.4 473.9,452.2 473.5,453.2 473.2,450.2 472.8,450.1 472.5,448.5 472.1,448.8 471.8,446.7 471.4,448.5 471.1,449.0 470.7,446.6 470.4,446.1 470.0,446.5 469.7,444.6 469.3,443.3 469.0,444.3 468.6,442.7 468.3,443.5 467.9,440.7 467.6,441.6 467.2,440.0 466.9,440.5 466.5,437.3 466.2,437.3 465.8,436.1 465.5,435.6 465.1,433.5 464.8,432.4 464.4,429.5 464.1,428.5 463.7,427.9 463.4,426.1 463.0,424.6 462.7,423.8 462.3,420.3 462.0,419.2 461.6,418.4 461.3,415.1 460.9,413.0 460.6,411.2 460.2,408.5 459.9,406.2 459.5,403.8 459.2,400.8 458.8,396.5 458.5,392.9 458.1,388.3 457.8,381.5 457.4,374.0 457.1,363.2 456.7,348.3 456.4,327.1 456.0,295.9" fill="#579ff9"/>
<line x1="456.0" y1="472.8" x2="456.0" y2="295.5" stroke="#579ff9" stroke-width="1.2"/>
<polyline points="456.0,295.5 456.2,314.6 456.4,330.0 456.6,342.3 456.8,352.3 457.0,360.5 457.2,367.3 457.4,372.9 457.6,377.6 457.8,381.6 458.0,385.1 458.2,388.2 458.4,390.8 458.6,393.2 458.8,395.4 459.0,397.4 459.2,399.2 459.4,401.0 459.6,402.6 459.8,404.1 460.0,405.5 460.2,406.9" fill="none" stroke="#579ff9" stroke-width="1.3" stroke-linejoin="round"/>
<polygon points="257.0,557.0 257.4,559.0 257.7,561.6 258.1,563.4 258.4,565.5 258.8,567.6 259.1,568.7 259.5,571.1 259.8,572.3 260.2,573.5 260.5,574.9 260.9,576.7 261.2,577.4 261.6,579.2 261.9,580.3 262.3,580.3 262.6,582.0 263.0,582.2 263.3,583.1 263.7,584.8 264.0,585.0 264.4,585.3 264.7,586.7 265.1,585.9 265.4,588.2 265.8,588.1 266.1,588.9 266.5,589.3 266.8,589.1 267.2,590.9 267.5,590.7 267.9,591.4 268.2,591.9 268.6,592.3 268.9,593.3 269.3,593.6 269.6,593.2 270.0,593.8 270.3,595.5 270.7,594.0 271.0,594.0 271.4,595.3 271.7,595.6 272.1,595.3 272.4,595.7 272.8,596.1 273.1,595.8 273.5,596.5 273.8,596.4 274.2,598.2 274.5,597.9 274.9,597.6 275.2,598.6 275.6,597.9 275.9,598.7 276.3,600.0 276.6,599.8 277.0,599.0 277.3,597.8 277.7,596.9 278.0,599.5 278.4,600.3 278.7,599.9 279.1,599.7 279.4,598.4 279.8,600.9 280.1,599.4 280.5,600.3 280.8,598.5 281.2,598.7 281.5,601.2 281.9,600.1 282.2,600.3 282.6,601.0 282.9,601.5 283.3,603.4 283.6,602.8 284.0,601.1 284.3,602.7 284.7,599.4 285.0,601.6 285.4,601.2 285.7,601.7 286.1,601.7 286.4,603.2 286.8,601.7 287.1,601.2 287.5,603.3 287.8,602.2 288.2,602.5 288.5,603.8 288.9,603.7 289.2,602.7 289.6,602.4 289.9,601.6 290.3,603.3 290.6,603.1 291.0,602.1 291.3,604.3 291.7,603.3 292.0,603.2 292.4,601.7 292.7,603.8 293.1,603.0 293.4,602.8 293.8,604.1 294.1,604.1 294.5,602.8 294.8,602.2 295.2,603.4 295.5,604.2 295.9,603.0 296.2,603.7 296.6,604.3 296.9,603.7 297.3,601.7 297.6,604.2 298.0,603.4 298.3,605.5 298.7,604.2 299.0,603.4 299.4,603.7 299.7,603.7 300.1,604.3 300.4,603.1 300.8,604.9 301.1,602.3 301.5,604.0 301.8,605.2 302.2,604.6 302.5,603.0 302.9,604.2 303.2,603.0 303.6,604.2 303.9,605.2 304.3,605.0 304.6,605.1 305.0,604.0 305.3,603.2 305.7,603.4 306.0,606.7 306.4,605.8 306.7,605.1 307.1,606.1 307.4,603.8 307.8,604.0 308.1,604.9 308.5,605.8 308.8,603.3 309.2,605.0 309.5,603.6 309.9,603.7 310.2,604.6 310.6,602.8 310.9,606.0 311.3,605.3 311.6,606.1 312.0,603.5 312.3,603.3 312.7,605.1 313.0,605.1 313.4,604.2 313.7,606.1 314.1,605.1 314.4,603.2 314.8,604.3 315.1,605.6 315.5,605.5 315.8,605.1 316.2,607.2 316.5,605.6 316.9,604.1 317.2,605.4 317.2,611.9 316.9,613.6 316.5,612.2 316.2,612.0 315.8,612.0 315.5,611.4 315.1,613.6 314.8,611.2 314.4,612.0 314.1,610.1 313.7,613.3 313.4,614.5 313.0,612.3 312.7,612.4 312.3,612.8 312.0,612.7 311.6,612.6 311.3,610.7 310.9,611.5 310.6,611.4 310.2,612.0 309.9,611.6 309.5,611.2 309.2,610.7 308.8,611.3 308.5,611.4 308.1,609.9 307.8,612.8 307.4,610.8 307.1,612.3 306.7,611.7 306.4,611.8 306.0,611.5 305.7,611.4 305.3,611.6 305.0,610.5 304.6,611.0 304.3,612.3 303.9,609.5 303.6,608.9 303.2,610.1 302.9,610.5 302.5,611.8 302.2,610.8 301.8,611.0 301.5,610.8 301.1,610.3 300.8,611.3 300.4,611.3 300.1,611.0 299.7,611.4 299.4,611.5 299.0,611.7 298.7,609.3 298.3,609.2 298.0,610.0 297.6,608.8 297.3,612.3 296.9,611.6 296.6,610.7 296.2,610.7 295.9,612.2 295.5,610.6 295.2,610.9 294.8,611.5 294.5,610.9 294.1,610.4 293.8,611.1 293.4,610.3 293.1,610.4 292.7,611.1 292.4,609.8 292.0,610.5 291.7,609.5 291.3,610.2 291.0,610.8 290.6,608.4 290.3,609.3 289.9,608.4 289.6,610.9 289.2,609.6 288.9,610.6 288.5,611.4 288.2,608.9 287.8,607.8 287.5,609.6 287.1,609.0 286.8,608.8 286.4,609.6 286.1,608.7 285.7,609.1 285.4,608.3 285.0,608.7 284.7,610.1 284.3,608.1 284.0,607.3 283.6,608.0 283.3,607.8 282.9,608.4 282.6,608.9 282.2,606.4 281.9,607.7 281.5,606.7 281.2,608.9 280.8,610.1 280.5,607.1 280.1,607.2 279.8,605.8 279.4,606.3 279.1,607.5 278.7,605.8 278.4,606.2 278.0,606.9 277.7,606.7 277.3,604.5 277.0,605.8 276.6,606.3 276.3,606.2 275.9,605.3 275.6,606.0 275.2,606.2 274.9,605.1 274.5,602.8 274.2,605.4 273.8,605.4 273.5,605.5 273.1,603.4 272.8,601.9 272.4,603.2 272.1,602.5 271.7,603.5 271.4,601.7 271.0,602.2 270.7,600.6 270.3,600.4 270.0,601.0 269.6,599.4 269.3,601.7 268.9,599.6 268.6,599.1 268.2,598.3 267.9,597.0 267.5,596.7 267.2,598.6 266.8,594.4 266.5,594.8 266.1,593.9 265.8,593.1 265.4,594.3 265.1,593.2 264.7,591.8 264.4,590.5 264.0,589.3 263.7,588.9 263.3,586.9 263.0,586.5 262.6,586.7 262.3,584.1 261.9,583.8 261.6,581.7 261.2,580.1 260.9,578.5 260.5,578.6 260.2,576.4 259.8,575.5 259.5,573.4 259.1,571.1 258.8,569.3 258.4,567.5 258.1,565.8 257.7,563.3 257.4,560.5 257.0,558.8" fill="#f797c6"/>
<line x1="257.0" y1="614.7" x2="257.0" y2="557.8" stroke="#f797c6" stroke-width="1.2"/>
<polyline points="257.0,557.8 257.2,559.1 257.4,560.5 257.6,561.7 257.8,562.9 258.0,564.1 258.2,565.3 258.4,566.4 258.6,567.5 258.8,568.6 259.0,569.6 259.2,570.6 259.4,571.5 259.6,572.5 259.8,573.4 260.0,574.3 260.2,575.1 260.4,576.0 260.6,576.8 260.8,577.5 261.0,578.3 261.2,579.0" fill="none" stroke="#f797c6" stroke-width="1.3" stroke-linejoin="round"/>
<polygon points="452.3,538.9 452.7,541.5 453.0,544.3 453.4,546.6 453.7,549.0 454.1,550.6 454.4,554.0 454.8,555.5 455.1,556.8 455.5,558.7 455.8,561.5 456.2,562.0 456.5,563.4 456.9,565.9 457.2,566.1 457.6,568.6 457.9,569.9 458.3,569.6 458.6,571.7 459.0,572.3 459.3,573.0 459.7,573.8 460.0,575.2 460.4,574.6 460.7,576.7 461.1,576.3 461.4,578.8 461.8,579.6 462.1,580.1 462.5,579.9 462.8,579.5 463.2,582.4 463.5,582.0 463.9,581.3 464.2,580.6 464.6,583.5 464.9,583.1 465.3,582.8 465.6,584.7 466.0,583.9 466.3,584.3 466.7,583.8 467.0,585.8 467.4,587.8 467.7,584.8 468.1,586.1 468.4,585.6 468.8,586.1 469.1,587.8 469.5,588.5 469.8,590.1 470.2,588.9 470.5,588.9 470.9,588.4 471.2,590.0 471.6,592.6 471.9,589.8 472.3,589.4 472.6,591.6 473.0,590.8 473.3,589.9 473.7,591.3 474.0,592.0 474.4,590.7 474.7,591.3 475.1,589.8 475.4,592.8 475.8,593.2 476.1,590.7 476.5,592.0 476.8,593.8 477.2,594.0 477.5,592.4 477.9,593.1 478.2,592.9 478.6,592.7 478.9,593.6 479.3,593.2 479.6,593.7 480.0,593.5 480.3,593.9 480.7,594.8 481.0,593.9 481.4,592.2 481.7,594.5 482.1,594.6 482.4,595.1 482.8,595.2 483.1,594.4 483.5,595.6 483.8,594.9 484.2,595.8 484.5,594.3 484.9,595.9 485.2,595.7 485.6,595.3 485.9,595.8 486.3,594.3 486.6,595.4 487.0,590.5 487.3,595.6 487.7,595.4 488.0,594.7 488.4,594.9 488.7,595.5 489.1,595.9 489.4,596.0 489.8,595.9 490.1,595.5 490.5,595.6 490.8,596.1 491.2,597.6 491.5,596.4 491.9,596.5 492.2,597.3 492.6,597.5 492.9,597.2 493.3,597.0 493.6,597.0 494.0,597.4 494.3,597.9 494.7,596.5 495.0,594.5 495.4,595.3 495.7,598.1 496.1,595.6 496.4,595.5 496.8,597.0 497.1,596.4 497.5,596.2 497.8,596.5 498.2,595.1 498.5,596.5 498.9,597.8 499.2,594.6 499.6,597.5 499.9,597.5 500.3,597.2 500.6,595.3 501.0,598.7 501.3,596.4 501.7,596.4 502.0,596.2 502.4,597.4 502.7,596.3 503.1,595.3 503.4,599.0 503.8,597.0 504.1,596.8 504.5,596.4 504.8,597.8 505.2,597.0 505.5,595.9 505.9,598.1 506.2,597.4 506.6,597.2 506.9,597.8 507.3,597.1 507.6,596.8 508.0,598.1 508.3,596.5 508.7,597.6 509.0,597.6 509.4,596.9 509.7,597.6 510.1,596.3 510.4,598.7 510.8,596.3 511.1,596.2 511.5,597.8 511.8,597.2 512.2,598.4 512.5,596.8 512.9,598.6 513.2,597.2 513.6,597.5 513.9,598.6 514.3,599.4 514.6,596.7 515.0,597.5 515.3,596.5 515.7,597.9 516.0,598.2 516.4,596.1 516.7,597.9 517.1,598.0 517.4,598.1 517.8,597.4 518.1,598.8 518.5,599.0 518.8,597.0 519.2,596.8 519.5,599.6 519.9,598.4 520.2,596.7 520.6,597.7 520.9,598.6 521.3,598.5 521.6,596.8 522.0,600.0 522.3,595.9 522.7,597.6 523.0,596.2 523.4,596.9 523.7,598.5 524.1,595.4 524.4,596.5 524.8,597.2 525.1,600.1 525.5,599.1 525.8,598.8 526.2,594.8 526.5,597.9 526.9,598.9 527.2,596.9 527.6,599.0 527.9,598.7 528.3,597.3 528.6,598.2 529.0,597.6 529.3,597.9 529.7,598.0 530.0,598.4 530.4,596.1 530.7,596.9 531.1,598.5 531.4,598.9 531.8,600.2 532.1,598.5 532.5,598.8 532.8,596.8 533.2,597.0 533.5,597.6 533.9,600.0 534.2,599.3 534.6,600.2 534.9,599.6 535.3,599.1 535.6,599.1 536.0,598.7 536.3,597.5 536.7,597.4 537.0,599.0 537.4,599.7 537.7,598.8 538.1,598.2 538.4,598.2 538.8,597.2 539.1,599.9 539.5,598.3 539.8,599.1 540.2,599.7 540.5,598.8 540.5,605.4 540.2,605.1 539.8,605.7 539.5,606.2 539.1,606.1 538.8,604.4 538.4,606.5 538.1,605.4 537.7,605.7 537.4,606.4 537.0,604.2 536.7,605.2 536.3,605.4 536.0,606.1 535.6,607.1 535.3,606.6 534.9,606.9 534.6,607.6 534.2,607.0 533.9,606.3 533.5,608.3 533.2,605.1 532.8,605.4 532.5,606.9 532.1,605.5 531.8,607.5 531.4,608.2 531.1,607.3 530.7,605.8 530.4,604.9 530.0,606.9 529.7,605.8 529.3,605.0 529.0,604.7 528.6,605.7 528.3,604.9 527.9,606.4 527.6,605.4 527.2,606.0 526.9,606.3 526.5,606.0 526.2,605.4 525.8,605.7 525.5,605.8 525.1,606.1 524.8,605.4 524.4,606.1 524.1,606.3 523.7,606.1 523.4,607.3 523.0,605.1 522.7,605.3 522.3,606.0 522.0,605.1 521.6,605.3 521.3,607.1 520.9,607.1 520.6,606.2 520.2,606.1 519.9,605.7 519.5,605.7 519.2,605.6 518.8,604.6 518.5,605.9 518.1,606.8 517.8,605.4 517.4,606.9 517.1,605.4 516.7,605.9 516.4,604.9 516.0,604.8 515.7,606.0 515.3,604.6 515.0,604.4 514.6,604.1 514.3,604.4 513.9,606.6 513.6,607.2 513.2,604.5 512.9,605.8 512.5,603.8 512.2,607.1 511.8,606.2 511.5,604.5 511.1,603.5 510.8,606.2 510.4,605.8 510.1,607.0 509.7,605.1 509.4,605.2 509.0,604.6 508.7,604.2 508.3,604.0 508.0,607.1 507.6,605.7 507.3,606.0 506.9,605.9 506.6,606.0 506.2,604.6 505.9,605.9 505.5,604.3 505.2,603.7 504.8,603.7 504.5,604.7 504.1,604.4 503.8,604.8 503.4,604.4 503.1,603.4 502.7,604.5 502.4,604.8 502.0,603.1 501.7,603.7 501.3,604.1 501.0,603.9 500.6,604.1 500.3,604.0 499.9,604.6 499.6,606.2 499.2,604.6 498.9,603.8 498.5,606.8 498.2,605.4 497.8,603.5 497.5,603.9 497.1,604.9 496.8,603.5 496.4,604.2 496.1,602.9 495.7,603.6 495.4,605.2 495.0,604.2 494.7,604.7 494.3,603.8 494.0,603.8 493.6,602.6 493.3,602.5 492.9,602.0 492.6,603.6 492.2,604.6 491.9,605.0 491.5,601.8 491.2,603.6 490.8,604.2 490.5,603.1 490.1,603.7 489.8,603.4 489.4,602.6 489.1,603.3 488.7,603.0 488.4,602.9 488.0,603.1 487.7,604.4 487.3,601.9 487.0,603.0 486.6,603.4 486.3,602.8 485.9,603.5 485.6,602.4 485.2,601.9 484.9,604.4 484.5,603.2 484.2,603.2 483.8,603.2 483.5,602.7 483.1,601.6 482.8,602.3 482.4,601.8 482.1,603.6 481.7,602.1 481.4,601.9 481.0,600.6 480.7,601.1 480.3,601.0 480.0,600.4 479.6,602.3 479.3,601.2 478.9,600.6 478.6,600.7 478.2,601.4 477.9,603.6 477.5,599.9 477.2,601.3 476.8,601.8 476.5,599.4 476.1,599.3 475.8,600.3 475.4,602.7 475.1,600.1 474.7,600.7 474.4,598.8 474.0,599.2 473.7,598.2 473.3,598.8 473.0,598.7 472.6,597.0 472.3,597.9 471.9,598.4 471.6,597.7 471.2,597.0 470.9,597.7 470.5,595.8 470.2,595.4 469.8,597.1 469.5,594.5 469.1,595.9 468.8,595.3 468.4,595.4 468.1,595.0 467.7,596.7 467.4,594.8 467.0,592.9 466.7,592.4 466.3,591.6 466.0,593.6 465.6,592.8 465.3,590.3 464.9,591.7 464.6,590.8 464.2,590.8 463.9,590.3 463.5,587.3 463.2,588.1 462.8,587.2 462.5,587.0 462.1,584.4 461.8,584.7 461.4,585.6 461.1,583.1 460.7,582.8 460.4,581.6 460.0,581.4 459.7,578.7 459.3,577.5 459.0,578.0 458.6,575.2 458.3,575.6 457.9,573.5 457.6,572.6 457.2,570.0 456.9,568.8 456.5,567.6 456.2,566.0 455.8,563.7 455.5,561.5 455.1,560.8 454.8,558.5 454.4,555.6 454.1,553.4 453.7,550.7 453.4,548.6 453.0,545.8 452.7,543.1 452.3,540.1" fill="#f797c6"/>
<line x1="452.3" y1="605.7" x2="452.3" y2="539.5" stroke="#f797c6" stroke-width="1.2"/>
<polyline points="452.3,539.5 452.5,541.1 452.7,542.7 452.9,544.3 453.1,545.8 453.3,547.3 453.5,548.7 453.7,550.0 453.9,551.4 454.1,552.7 454.3,553.9 454.5,555.1 454.7,556.3 454.9,557.5 455.1,558.6 455.3,559.6 455.5,560.7 455.7,561.7 455.9,562.7 456.1,563.6 456.3,564.6 456.5,565.5" fill="none" stroke="#f797c6" stroke-width="1.3" stroke-linejoin="round"/>
<path d="M550.3,614.7 L579,614.7 L579,585.4" fill="none" stroke="#000" stroke-width="2.6"/>
<text transform="translate(601.0 600.5) rotate(-90)" font-size="17" text-anchor="middle">10 pA</text>
<text transform="translate(563.8 641.6)" font-size="16" text-anchor="middle">200 ms</text>
<path d="M187.3,687.9 L195,687.9 L195,664.7 L254.6,664.7 L254.6,687.9 L328.8,687.9 L328.8,694.8 L387,694.8 L387,664.7 L446.8,664.7 L446.8,687.9 L555.5,687.9" fill="none" stroke="#000" stroke-width="2.6"/>
<text transform="translate(229.3 655.4)" font-size="25.8" text-anchor="middle">0 mV</text>
<text transform="translate(183.0 699.0)" font-size="25.8" text-anchor="end">-60 mV</text>
<text transform="translate(353.2 722.4)" font-size="25.8" text-anchor="middle">-80 mV</text>
<text x="606.0" y="334.5" font-size="44.5" font-weight="bold">d</text>
<line x1="761.5" y1="395.3" x2="761.5" y2="622.4" stroke="#000" stroke-width="2.4"/>
<line x1="755.0" y1="396.3" x2="761.5" y2="396.3" stroke="#000" stroke-width="2.4"/>
<text transform="translate(751.3 405.0) scale(1.120 1)" font-size="24.3" text-anchor="end">-100</text>
<line x1="755.0" y1="441.3" x2="761.5" y2="441.3" stroke="#000" stroke-width="2.4"/>
<text transform="translate(751.3 450.0) scale(1.120 1)" font-size="24.3" text-anchor="end">-80</text>
<line x1="755.0" y1="486.3" x2="761.5" y2="486.3" stroke="#000" stroke-width="2.4"/>
<text transform="translate(751.3 495.0) scale(1.120 1)" font-size="24.3" text-anchor="end">-60</text>
<line x1="755.0" y1="531.2" x2="761.5" y2="531.2" stroke="#000" stroke-width="2.4"/>
<text transform="translate(751.3 539.9) scale(1.120 1)" font-size="24.3" text-anchor="end">-40</text>
<line x1="755.0" y1="576.2" x2="761.5" y2="576.2" stroke="#000" stroke-width="2.4"/>
<text transform="translate(751.3 584.9) scale(1.120 1)" font-size="24.3" text-anchor="end">-20</text>
<line x1="755.0" y1="621.2" x2="761.5" y2="621.2" stroke="#000" stroke-width="2.4"/>
<text transform="translate(751.3 629.9) scale(1.120 1)" font-size="24.3" text-anchor="end">0</text>
<line x1="754.6" y1="621.2" x2="987.8" y2="621.2" stroke="#000" stroke-width="2.4"/>
<rect x="773.9" y="521.9" width="30.9" height="99.3" fill="#579ff9"/>
<rect x="831.7" y="482.5" width="28.0" height="138.7" fill="none" stroke="#579ff9" stroke-width="2.6"/>
<rect x="886.3" y="574.3" width="31.1" height="46.9" fill="#f797c6"/>
<rect x="943.5" y="559.5" width="28.5" height="61.7" fill="none" stroke="#f797c6" stroke-width="2.6"/>
<line x1="789.3" y1="521.9" x2="789.3" y2="508.6" stroke="#579ff9" stroke-width="1.8"/>
<line x1="780.8" y1="508.6" x2="797.4" y2="508.6" stroke="#579ff9" stroke-width="1.8"/>
<line x1="845.7" y1="481.3" x2="845.7" y2="465.3" stroke="#579ff9" stroke-width="1.8"/>
<line x1="838.0" y1="465.3" x2="853.4" y2="465.3" stroke="#579ff9" stroke-width="1.8"/>
<line x1="901.8" y1="574.3" x2="901.8" y2="571.3" stroke="#f797c6" stroke-width="1.8"/>
<line x1="894.0" y1="571.3" x2="909.5" y2="571.3" stroke="#f797c6" stroke-width="1.8"/>
<line x1="957.7" y1="558.3" x2="957.7" y2="555.0" stroke="#f797c6" stroke-width="1.8"/>
<line x1="950.0" y1="555.0" x2="965.5" y2="555.0" stroke="#f797c6" stroke-width="1.8"/>
<circle cx="780.8" cy="494.3" r="4" fill="#fff" stroke="#579ff9" stroke-width="2.2"/>
<circle cx="796.8" cy="496.5" r="4" fill="#fff" stroke="#579ff9" stroke-width="2.2"/>
<circle cx="789.1" cy="514.1" r="4" fill="#fff" stroke="#579ff9" stroke-width="2.2"/>
<circle cx="789.1" cy="539.3" r="4" fill="#fff" stroke="#579ff9" stroke-width="2.2"/>
<circle cx="789.1" cy="563.8" r="4" fill="#fff" stroke="#579ff9" stroke-width="2.2"/>
<circle cx="845.7" cy="433.0" r="4" fill="#fff" stroke="#579ff9" stroke-width="2.2"/>
<circle cx="845.7" cy="466.7" r="4" fill="#fff" stroke="#579ff9" stroke-width="2.2"/>
<circle cx="837.4" cy="482.7" r="4" fill="#fff" stroke="#579ff9" stroke-width="2.2"/>
<circle cx="853.4" cy="494.3" r="4" fill="#fff" stroke="#579ff9" stroke-width="2.2"/>
<circle cx="845.7" cy="528.0" r="4" fill="#fff" stroke="#579ff9" stroke-width="2.2"/>
<circle cx="892.0" cy="568.8" r="4" fill="#fff" stroke="#f797c6" stroke-width="2.2"/>
<circle cx="901.7" cy="564.9" r="4" fill="#fff" stroke="#f797c6" stroke-width="2.2"/>
<circle cx="901.7" cy="579.8" r="4" fill="#fff" stroke="#f797c6" stroke-width="2.2"/>
<circle cx="911.4" cy="580.4" r="4" fill="#fff" stroke="#f797c6" stroke-width="2.2"/>
<circle cx="893.0" cy="578.0" r="4" fill="#fff" stroke="#f797c6" stroke-width="2.2"/>
<circle cx="948.4" cy="552.2" r="4" fill="#fff" stroke="#f797c6" stroke-width="2.2"/>
<circle cx="958.0" cy="552.2" r="4" fill="#fff" stroke="#f797c6" stroke-width="2.2"/>
<circle cx="968.0" cy="550.9" r="4" fill="#fff" stroke="#f797c6" stroke-width="2.2"/>
<circle cx="948.4" cy="561.9" r="4" fill="#fff" stroke="#f797c6" stroke-width="2.2"/>
<circle cx="958.0" cy="561.9" r="4" fill="#fff" stroke="#f797c6" stroke-width="2.2"/>
<circle cx="968.0" cy="566.9" r="4" fill="#fff" stroke="#f797c6" stroke-width="2.2"/>
<path d="M790.5,459.8 L790.5,413.7 L901.7,413.7 L901.7,534.8" fill="none" stroke="#000" stroke-width="2.6"/>
<path d="M846.2,382.0 L846.2,335.5 L958.3,335.5 L958.3,499.8" fill="none" stroke="#000" stroke-width="2.6"/>
<text x="828.0" y="410.9" font-size="23.1" font-weight="normal" style="font-family:'DejaVu Sans', sans-serif" letter-spacing="2.56" stroke="#000" stroke-width="0.55">***</text>
<text x="876.7" y="332.5" font-size="23.1" font-weight="normal" style="font-family:'DejaVu Sans', sans-serif" letter-spacing="2.56" stroke="#000" stroke-width="0.55">****</text>
<text transform="translate(780.8 648.9) scale(1.100 1)" font-size="20.5" text-anchor="middle">1st</text>
<text transform="translate(839.3 648.9) scale(1.100 1)" font-size="20.5" text-anchor="middle">2nd</text>
<text transform="translate(901.4 648.9) scale(1.100 1)" font-size="20.5" text-anchor="middle">1st</text>
<text transform="translate(963.3 648.9) scale(1.100 1)" font-size="20.5" text-anchor="middle">2nd</text>
<line x1="753.0" y1="661.3" x2="862.0" y2="661.3" stroke="#000" stroke-width="2.6"/>
<line x1="883.0" y1="661.3" x2="991.4" y2="661.3" stroke="#000" stroke-width="2.6"/>
<text transform="translate(807.5 690.3)" font-size="23.2" text-anchor="middle">NR1<tspan font-size="15" dy="-6.5">fl/fl</tspan></text>
<text transform="translate(936.5 690.3)" font-size="23.2" text-anchor="middle">SNS-NR1<tspan font-size="15" dy="-6.5">-/-</tspan></text>
<text transform="translate(671.0 507.0) rotate(-90) scale(1.110 1)" font-size="21.3" text-anchor="middle">Amplitude of AHP current (pA)</text>
<text x="1058.0" y="334.5" font-size="44.5" font-weight="bold">e</text>
<clipPath id="clip1115_458"><rect x="1115.7" y="458.2" width="163.7" height="63.8"/></clipPath>
<g clip-path="url(#clip1115_458)">
<rect x="1115.7" y="458.2" width="163.7" height="63.8" fill="#c4c4c4"/>
<rect x="1115.7" y="458.2" width="163.7" height="63.8" filter="url(#noise)" opacity="0.22"/>
<rect x="1190.0" y="458.0" width="22.0" height="64.0" fill="#fff" opacity="0.25" filter="url(#bl4)"/>
<rect x="1127.0" y="481.0" width="62.0" height="19.0" rx="9.5" fill="#000" fill-opacity="1.0" filter="url(#bl1)"/>
<rect x="1125.0" y="478.0" width="30.0" height="10.0" rx="5.0" fill="#000" fill-opacity="0.5" filter="url(#bl3)"/>
<rect x="1212.0" y="485.0" width="60.0" height="12.0" rx="6.0" fill="#000" fill-opacity="1.0" filter="url(#bl1)"/>
<rect x="1212.0" y="482.0" width="55.0" height="14.0" rx="7.0" fill="#000" fill-opacity="0.35" filter="url(#bl3)"/>
</g>
<rect x="1115.7" y="458.2" width="163.7" height="63.8" fill="none" stroke="#000" stroke-width="2.2"/>
<clipPath id="clip1116_535"><rect x="1116.5" y="535.2" width="162.9" height="63.9"/></clipPath>
<g clip-path="url(#clip1116_535)">
<rect x="1116.5" y="535.2" width="162.9" height="63.9" fill="#d6d6d6"/>
<rect x="1116.5" y="535.2" width="162.9" height="63.9" filter="url(#noise)" opacity="0.22"/>
<g transform="rotate(1.2 1200 550)">
<rect x="1127.0" y="541.0" width="66.0" height="15.0" rx="7.5" fill="#000" fill-opacity="1.0" filter="url(#bl1)"/>
<rect x="1202.0" y="544.0" width="73.0" height="15.0" rx="7.5" fill="#000" fill-opacity="1.0" filter="url(#bl1)"/>
</g>
</g>
<rect x="1116.5" y="535.2" width="162.9" height="63.9" fill="none" stroke="#000" stroke-width="2.2"/>
<text transform="translate(1068.0 507.0)" font-size="24.5" text-anchor="middle">SK2</text>
<text transform="translate(1070.0 569.4)" font-size="24.5" text-anchor="middle">β-actin</text>
<text transform="translate(1306.0 443.3)" font-size="22" text-anchor="middle">kDa</text>
<line x1="1285.5" y1="497.8" x2="1300.0" y2="497.8" stroke="#000" stroke-width="2.2"/>
<text transform="translate(1302.0 507.0)" font-size="24.5">63</text>
<line x1="1285.5" y1="591.0" x2="1300.0" y2="591.0" stroke="#000" stroke-width="2.2"/>
<text transform="translate(1302.0 600.0)" font-size="24.5">35</text>
<text transform="translate(1161.0 630.0) rotate(-45)" font-size="23.5" text-anchor="end">NR1<tspan font-size="15.5" dy="-6.7">fl/fl</tspan></text>
<text transform="translate(1247.0 630.0) rotate(-45)" font-size="23.5" text-anchor="end">SNS-NR1<tspan font-size="15.5" dy="-6.7">-/-</tspan></text>
<text x="1341.5" y="334.5" font-size="44.5" font-weight="bold">f</text>
<line x1="1460.7" y1="394.0" x2="1460.7" y2="639.5" stroke="#000" stroke-width="2.4"/>
<line x1="1454.0" y1="395.1" x2="1460.7" y2="395.1" stroke="#000" stroke-width="2.4"/>
<text transform="translate(1448.3 403.9) scale(1.080 1)" font-size="24.7" text-anchor="end">2.0</text>
<line x1="1454.0" y1="455.9" x2="1460.7" y2="455.9" stroke="#000" stroke-width="2.4"/>
<text transform="translate(1448.3 464.7) scale(1.080 1)" font-size="24.7" text-anchor="end">1.5</text>
<line x1="1454.0" y1="516.7" x2="1460.7" y2="516.7" stroke="#000" stroke-width="2.4"/>
<text transform="translate(1448.3 525.5) scale(1.080 1)" font-size="24.7" text-anchor="end">1.0</text>
<line x1="1454.0" y1="577.5" x2="1460.7" y2="577.5" stroke="#000" stroke-width="2.4"/>
<text transform="translate(1448.3 586.3) scale(1.080 1)" font-size="24.7" text-anchor="end">0.5</text>
<line x1="1454.0" y1="638.3" x2="1460.7" y2="638.3" stroke="#000" stroke-width="2.4"/>
<text transform="translate(1448.3 647.1) scale(1.080 1)" font-size="24.7" text-anchor="end">0.0</text>
<line x1="1450.4" y1="638.3" x2="1623.5" y2="638.3" stroke="#000" stroke-width="2.4"/>
<line x1="1506.7" y1="638.3" x2="1506.7" y2="648.5" stroke="#000" stroke-width="2.6"/>
<line x1="1576.0" y1="638.3" x2="1576.0" y2="648.5" stroke="#000" stroke-width="2.6"/>
<rect x="1483.4" y="452.8" width="46.6" height="185.5" fill="#579ff9"/>
<rect x="1552.6" y="542.7" width="46.6" height="95.6" fill="#f797c6"/>
<line x1="1506.7" y1="452.8" x2="1506.7" y2="449.9" stroke="#579ff9" stroke-width="1.6"/>
<line x1="1496.6" y1="449.9" x2="1518.4" y2="449.9" stroke="#579ff9" stroke-width="1.6"/>
<line x1="1576.0" y1="542.7" x2="1576.0" y2="529.9" stroke="#f797c6" stroke-width="1.6"/>
<line x1="1565.8" y1="529.9" x2="1587.2" y2="529.9" stroke="#f797c6" stroke-width="1.6"/>
<circle cx="1491.6" cy="447.9" r="3" fill="#fff" stroke="#579ff9" stroke-width="1.6"/>
<circle cx="1506.9" cy="454.9" r="3" fill="#fff" stroke="#579ff9" stroke-width="1.6"/>
<circle cx="1521.7" cy="454.9" r="3" fill="#fff" stroke="#579ff9" stroke-width="1.6"/>
<circle cx="1576.1" cy="516.7" r="3" fill="#fff" stroke="#f797c6" stroke-width="1.6"/>
<circle cx="1570.8" cy="552.5" r="3" fill="#fff" stroke="#f797c6" stroke-width="1.6"/>
<circle cx="1581.1" cy="558.7" r="3" fill="#fff" stroke="#f797c6" stroke-width="1.6"/>
<path d="M1509.0,430.0 L1509.0,414.5 L1577.4,414.5 L1577.4,479.6" fill="none" stroke="#000" stroke-width="2.6"/>
<text x="1528.0" y="417.6" font-size="37.2" font-weight="bold" style="font-family:'Liberation Sans', Arial, sans-serif" letter-spacing="3.33">**</text>
<text transform="translate(1397.0 531.0) rotate(-90)" font-size="27.6" text-anchor="middle">SK2/ β-actin</text>
<text transform="translate(1511.0 673.0) rotate(-45)" font-size="26.5" text-anchor="end">NR1<tspan font-size="18.5" dy="-8.0">fl/fl</tspan></text>
<text transform="translate(1581.0 673.0) rotate(-45)" font-size="26.5" text-anchor="end">SNS-NR1<tspan font-size="18.5" dy="-8.0">-/-</tspan></text>
<text x="68.0" y="792.4" font-size="44.5" font-weight="bold">g</text>
<text transform="translate(282.0 768.4)" font-size="23.1" text-anchor="middle">Basal</text>
<line x1="228.2" y1="774.8" x2="327.7" y2="774.8" stroke="#000" stroke-width="3"/>
<text transform="translate(412.7 768.4)" font-size="23.1" text-anchor="middle" fill="#fe0000">CFA</text>
<line x1="358.0" y1="774.8" x2="458.0" y2="774.8" stroke="#fe0000" stroke-width="3"/>
<text transform="translate(515.2 765.8)" font-size="23" text-anchor="middle">kDa</text>
<text transform="translate(129.3 835.6)" font-size="24.7">SK2</text>
<text transform="translate(129.3 915.6)" font-size="24.7">p-NR1</text>
<text transform="translate(129.3 1000.4)" font-size="24.7">NR1</text>
<text transform="translate(129.3 1081.3)" font-size="24.7">β-actin</text>
<line x1="486.7" y1="796.5" x2="504.3" y2="796.5" stroke="#000" stroke-width="2.4"/>
<text transform="translate(524.5 806.0)" font-size="23" text-anchor="middle">72</text>
<line x1="486.7" y1="835.0" x2="504.3" y2="835.0" stroke="#000" stroke-width="2.4"/>
<text transform="translate(524.5 843.6)" font-size="23" text-anchor="middle">55</text>
<line x1="486.7" y1="874.0" x2="503.0" y2="874.0" stroke="#000" stroke-width="2.4"/>
<text transform="translate(520.5 881.3)" font-size="23" text-anchor="middle">130</text>
<line x1="486.7" y1="928.4" x2="504.3" y2="928.4" stroke="#000" stroke-width="2.4"/>
<text transform="translate(524.5 936.4)" font-size="23" text-anchor="middle">95</text>
<line x1="486.7" y1="960.4" x2="503.0" y2="960.4" stroke="#000" stroke-width="2.4"/>
<text transform="translate(520.5 969.3)" font-size="23" text-anchor="middle">130</text>
<line x1="486.7" y1="1007.7" x2="504.3" y2="1007.7" stroke="#000" stroke-width="2.4"/>
<text transform="translate(524.5 1015.7)" font-size="23" text-anchor="middle">95</text>
<line x1="486.7" y1="1067.5" x2="504.3" y2="1067.5" stroke="#000" stroke-width="2.4"/>
<text transform="translate(524.5 1076.5)" font-size="23" text-anchor="middle">43</text>
<clipPath id="clip219_783"><rect x="219.6" y="783.8" width="255" height="73.5"/></clipPath>
<g clip-path="url(#clip219_783)">
<rect x="219.6" y="783.8" width="255.0" height="73.5" fill="#d2d2d2"/>
<rect x="219.6" y="783.8" width="255" height="73.5" filter="url(#noise)" opacity="0.18"/>
<rect x="219.6" y="783.8" width="255" height="73.5" fill="url(#gsk2)"/>
<rect x="280.0" y="783.8" width="9.0" height="70.0" fill="#fff" opacity="0.25" filter="url(#bl2)"/>
<rect x="345.0" y="783.8" width="9.0" height="70.0" fill="#fff" opacity="0.25" filter="url(#bl2)"/>
<rect x="405.0" y="783.8" width="9.0" height="70.0" fill="#fff" opacity="0.25" filter="url(#bl2)"/>
<rect x="224.0" y="826.0" width="50.0" height="24.0" fill="#000" opacity="0.28" filter="url(#bl2)"/>
<rect x="288.0" y="826.0" width="46.0" height="24.0" fill="#000" opacity="0.15" filter="url(#bl2)"/>
<rect x="352.0" y="826.0" width="46.0" height="24.0" fill="#000" opacity="0.25" filter="url(#bl2)"/>
<rect x="416.0" y="826.0" width="50.0" height="24.0" fill="#000" opacity="0.12" filter="url(#bl2)"/>
<rect x="224.4" y="815.0" width="48.3" height="14.5" rx="7.2" fill="#000" fill-opacity="1.0" filter="url(#bl1)"/>
<rect x="226.0" y="834.0" width="46.0" height="8.0" rx="4.0" fill="#000" fill-opacity="0.65" filter="url(#bl2)"/>
<rect x="288.0" y="816.0" width="44.0" height="10.0" rx="5.0" fill="#000" fill-opacity="0.65" filter="url(#bl2)"/>
<rect x="292.0" y="817.5" width="18.0" height="7.0" rx="3.5" fill="#000" fill-opacity="0.5" filter="url(#bl1)"/>
<rect x="352.3" y="812.0" width="44.0" height="14.0" rx="7.0" fill="#000" fill-opacity="1.0" filter="url(#bl1)"/>
<rect x="290.0" y="835.0" width="44.0" height="8.0" rx="4.0" fill="#000" fill-opacity="0.2" filter="url(#bl2)"/>
<rect x="354.0" y="835.0" width="42.0" height="8.0" rx="4.0" fill="#000" fill-opacity="0.45" filter="url(#bl2)"/>
<rect x="416.0" y="815.0" width="50.0" height="10.0" rx="5.0" fill="#000" fill-opacity="0.12" filter="url(#bl2)"/>
<rect x="416.0" y="835.0" width="50.0" height="8.0" rx="4.0" fill="#000" fill-opacity="0.12" filter="url(#bl2)"/>
<rect x="219.6" y="851.0" width="255.0" height="7.0" fill="#fff" opacity="0.7" filter="url(#bl1)"/>
</g>
<rect x="219.6" y="783.8" width="255.0" height="73.5" fill="none" stroke="#000" stroke-width="2.2"/>
<clipPath id="clip219_864"><rect x="219.6" y="864.4" width="255" height="73.6"/></clipPath>
<g clip-path="url(#clip219_864)">
<rect x="219.6" y="864.4" width="255.0" height="73.6" fill="#d6d6d6"/>
<rect x="219.6" y="864.4" width="255" height="73.6" filter="url(#noise)" opacity="0.12"/>
<rect x="280.0" y="864.4" width="9.0" height="74.0" fill="#fff" opacity="0.25" filter="url(#bl2)"/>
<rect x="345.0" y="864.4" width="9.0" height="74.0" fill="#fff" opacity="0.25" filter="url(#bl2)"/>
<rect x="410.0" y="864.4" width="9.0" height="74.0" fill="#fff" opacity="0.25" filter="url(#bl2)"/>
<rect x="223.5" y="899.4" width="50.0" height="14.4" rx="7.2" fill="#000" fill-opacity="1.0" filter="url(#bl1)"/>
<rect x="288.0" y="902.0" width="22.0" height="10.0" rx="5.0" fill="#000" fill-opacity="0.85" filter="url(#bl1)"/>
<rect x="307.0" y="901.0" width="32.0" height="11.0" rx="5.5" fill="#000" fill-opacity="1.0" filter="url(#bl1)"/>
<rect x="354.0" y="896.0" width="52.0" height="19.0" rx="9.5" fill="#000" fill-opacity="1.0" filter="url(#bl1)"/>
<rect x="356.0" y="885.0" width="48.0" height="12.0" fill="#000" opacity="0.08" filter="url(#bl4)"/>
<rect x="420.0" y="902.0" width="44.0" height="8.0" rx="4.0" fill="#000" fill-opacity="1.0" filter="url(#bl1)"/>
<rect x="356.0" y="915.0" width="44.0" height="20.0" fill="#000" opacity="0.08" filter="url(#bl4)"/>
</g>
<rect x="219.6" y="864.4" width="255.0" height="73.6" fill="none" stroke="#000" stroke-width="2.2"/>
<clipPath id="clip219_948"><rect x="219.6" y="948.2" width="255" height="73.6"/></clipPath>
<g clip-path="url(#clip219_948)">
<rect x="219.6" y="948.2" width="255.0" height="73.6" fill="#ababab"/>
<rect x="219.6" y="948.2" width="255" height="73.6" filter="url(#noise)" opacity="0.2"/>
<rect x="229.0" y="979.0" width="45.0" height="12.0" rx="6.0" fill="#000" fill-opacity="0.95" filter="url(#bl1)"/>
<rect x="290.0" y="981.0" width="50.0" height="8.0" rx="4.0" fill="#000" fill-opacity="0.85" filter="url(#bl1)"/>
<rect x="354.0" y="979.0" width="51.0" height="11.0" rx="5.5" fill="#000" fill-opacity="0.9" filter="url(#bl1)"/>
<rect x="420.0" y="981.0" width="48.0" height="8.0" rx="4.0" fill="#000" fill-opacity="0.85" filter="url(#bl1)"/>
<polygon points="285,1022.5 330,1020.5 380,1018.5 420,1016.5 475,1014.5 475,1023 285,1023" fill="#fff" filter="url(#bl1)"/>
</g>
<rect x="219.6" y="948.2" width="255.0" height="73.6" fill="none" stroke="#000" stroke-width="2.2"/>
<clipPath id="clip219_1029"><rect x="219.6" y="1029.2" width="255" height="73.5"/></clipPath>
<g clip-path="url(#clip219_1029)">
<rect x="219.6" y="1029.2" width="255.0" height="73.5" fill="#c6c6c6"/>
<rect x="219.6" y="1029.2" width="255" height="73.5" filter="url(#noise)" opacity="0.1"/>
<rect x="221.0" y="1065.0" width="54.0" height="13.0" rx="6.5" fill="#000" fill-opacity="1.0" filter="url(#bl1)"/>
<rect x="284.5" y="1064.0" width="56.5" height="12.5" rx="6.2" fill="#000" fill-opacity="1.0" filter="url(#bl1)"/>
<rect x="349.7" y="1063.0" width="57.6" height="13.0" rx="6.5" fill="#000" fill-opacity="1.0" filter="url(#bl1)"/>
<rect x="411.5" y="1061.0" width="60.0" height="14.0" rx="7.0" fill="#000" fill-opacity="1.0" filter="url(#bl1)"/>
<polygon points="285,1103.5 330,1102.5 380,1101 420,1099.5 475,1097.5 475,1104 285,1104" fill="#fff" filter="url(#bl1)"/>
</g>
<rect x="219.6" y="1029.2" width="255.0" height="73.5" fill="none" stroke="#000" stroke-width="2.2"/>
<text transform="translate(216.4 1134.7)" font-size="19.3">NR1<tspan font-size="13" dy="-5.6">fl/fl</tspan></text>
<text transform="translate(354.0 1134.7)" font-size="19.3">NR1<tspan font-size="13" dy="-5.6">fl/fl</tspan></text>
<text transform="translate(287.4 1123.0)" font-size="19.3">SNS-</text>
<text transform="translate(287.4 1145.3)" font-size="19.3">NR1<tspan font-size="13" dy="-5.6">-/-</tspan></text>
<text transform="translate(424.3 1123.0)" font-size="19.3">SNS-</text>
<text transform="translate(424.3 1145.3)" font-size="19.3">NR1<tspan font-size="13" dy="-5.6">-/-</tspan></text>
<text x="662.0" y="792.2" font-size="44.5" font-weight="bold">h</text>
<line x1="800.4" y1="799.5" x2="800.4" y2="1005.2" stroke="#000" stroke-width="2.4"/>
<line x1="793.6" y1="800.7" x2="800.4" y2="800.7" stroke="#000" stroke-width="2.4"/>
<text transform="translate(790.6 809.4) scale(1.080 1)" font-size="24.4" text-anchor="end">1.0</text>
<line x1="793.6" y1="841.4" x2="800.4" y2="841.4" stroke="#000" stroke-width="2.4"/>
<text transform="translate(790.6 850.1) scale(1.080 1)" font-size="24.4" text-anchor="end">0.8</text>
<line x1="793.6" y1="882.0" x2="800.4" y2="882.0" stroke="#000" stroke-width="2.4"/>
<text transform="translate(790.6 890.7) scale(1.080 1)" font-size="24.4" text-anchor="end">0.6</text>
<line x1="793.6" y1="922.7" x2="800.4" y2="922.7" stroke="#000" stroke-width="2.4"/>
<text transform="translate(790.6 931.4) scale(1.080 1)" font-size="24.4" text-anchor="end">0.4</text>
<line x1="793.6" y1="963.3" x2="800.4" y2="963.3" stroke="#000" stroke-width="2.4"/>
<text transform="translate(790.6 972.0) scale(1.080 1)" font-size="24.4" text-anchor="end">0.2</text>
<line x1="793.6" y1="1004.0" x2="800.4" y2="1004.0" stroke="#000" stroke-width="2.4"/>
<text transform="translate(790.6 1012.7) scale(1.080 1)" font-size="24.4" text-anchor="end">0.0</text>
<line x1="793.4" y1="1004.0" x2="1003.7" y2="1004.0" stroke="#000" stroke-width="2.4"/>
<line x1="825.3" y1="1004.0" x2="825.3" y2="1011.0" stroke="#000" stroke-width="2.4"/>
<line x1="876.1" y1="1004.0" x2="876.1" y2="1011.0" stroke="#000" stroke-width="2.4"/>
<line x1="926.9" y1="1004.0" x2="926.9" y2="1011.0" stroke="#000" stroke-width="2.4"/>
<line x1="977.7" y1="1004.0" x2="977.7" y2="1011.0" stroke="#000" stroke-width="2.4"/>
<rect x="808.3" y="900.4" width="33.9" height="103.6" fill="#579ff9"/>
<line x1="825.2" y1="900.4" x2="825.2" y2="893.9" stroke="#579ff9" stroke-width="1.8"/>
<line x1="817.4" y1="893.9" x2="835.7" y2="893.9" stroke="#579ff9" stroke-width="1.8"/>
<rect x="859.2" y="908.8" width="33.8" height="95.2" fill="#c1c100"/>
<line x1="876.1" y1="908.8" x2="876.1" y2="895.8" stroke="#c1c100" stroke-width="1.8"/>
<line x1="867.6" y1="895.8" x2="884.6" y2="895.8" stroke="#c1c100" stroke-width="1.8"/>
<rect x="910.0" y="824.1" width="33.8" height="179.9" fill="#f797c6"/>
<line x1="926.9" y1="824.1" x2="926.9" y2="820.5" stroke="#f797c6" stroke-width="1.8"/>
<line x1="918.0" y1="820.5" x2="936.0" y2="820.5" stroke="#f797c6" stroke-width="1.8"/>
<rect x="960.8" y="926.3" width="33.9" height="77.7" fill="#f9a043"/>
<line x1="977.8" y1="926.3" x2="977.8" y2="906.0" stroke="#f9a043" stroke-width="1.8"/>
<line x1="969.3" y1="906.0" x2="986.2" y2="906.0" stroke="#f9a043" stroke-width="1.8"/>
<circle cx="817.4" cy="889.6" r="3.5" fill="#fff" stroke="#579ff9" stroke-width="1.8"/>
<circle cx="833.8" cy="897.2" r="3.5" fill="#fff" stroke="#579ff9" stroke-width="1.8"/>
<circle cx="825.3" cy="912.8" r="3.5" fill="#fff" stroke="#579ff9" stroke-width="1.8"/>
<circle cx="876.7" cy="884.0" r="3.5" fill="#fff" stroke="#c1c100" stroke-width="1.8"/>
<circle cx="876.7" cy="915.6" r="3.5" fill="#fff" stroke="#c1c100" stroke-width="1.8"/>
<circle cx="876.7" cy="927.7" r="3.5" fill="#fff" stroke="#c1c100" stroke-width="1.8"/>
<circle cx="917.6" cy="821.9" r="3.5" fill="#fff" stroke="#f797c6" stroke-width="1.8"/>
<circle cx="927.5" cy="819.0" r="3.5" fill="#fff" stroke="#f797c6" stroke-width="1.8"/>
<circle cx="935.4" cy="832.6" r="3.5" fill="#fff" stroke="#f797c6" stroke-width="1.8"/>
<circle cx="977.7" cy="887.4" r="3.5" fill="#fff" stroke="#f9a043" stroke-width="1.8"/>
<circle cx="977.7" cy="937.0" r="3.5" fill="#fff" stroke="#f9a043" stroke-width="1.8"/>
<circle cx="977.7" cy="955.1" r="3.5" fill="#fff" stroke="#f9a043" stroke-width="1.8"/>
<path d="M824.4,838.8 L824.4,800.7 L924.0,800.7 L924.0,814.0" fill="none" stroke="#000" stroke-width="2.2"/>
<path d="M928.3,814.0 L928.3,800.7 L978.3,800.7 L978.3,868.5" fill="none" stroke="#000" stroke-width="2.2"/>
<text x="862.7" y="798.3" font-size="20.7" font-weight="normal" style="font-family:'DejaVu Sans', sans-serif" letter-spacing="2.37" stroke="#000" stroke-width="0.55">**</text>
<text x="936.1" y="798.3" font-size="20.7" font-weight="normal" style="font-family:'DejaVu Sans', sans-serif" letter-spacing="2.37" stroke="#000" stroke-width="0.55">***</text>
<text transform="translate(732.5 900.0) rotate(-90)" font-size="27.5" text-anchor="middle">p-NR1 / NR1</text>
<text transform="translate(837.5 1030.5) rotate(-45)" font-size="23.4" text-anchor="end">NR1<tspan font-size="16" dy="-6.9">fl/fl</tspan></text>
<text transform="translate(888.3 1029.0) rotate(-45)" font-size="23.4" text-anchor="end">SNS NR1<tspan font-size="16" dy="-6.9">-/-</tspan></text>
<text transform="translate(942.0 1026.3) rotate(-45)" font-size="23.4" text-anchor="end">NR1<tspan font-size="16" dy="-6.9">fl/fl</tspan></text>
<text transform="translate(991.4 1029.0) rotate(-45)" font-size="23.4" text-anchor="end">SNS NR1<tspan font-size="16" dy="-6.9">-/-</tspan></text>
<line x1="769.4" y1="1111.2" x2="855.5" y2="1111.2" stroke="#000" stroke-width="3"/>
<line x1="899.3" y1="1111.2" x2="985.4" y2="1111.2" stroke="#fe0000" stroke-width="3"/>
<text transform="translate(808.7 1148.0)" font-size="25" text-anchor="middle">Basal</text>
<text transform="translate(937.8 1148.0)" font-size="25" text-anchor="middle" fill="#fe0000">CFA</text>
<line x1="1227.3" y1="810.3" x2="1227.3" y2="1000.8" stroke="#000" stroke-width="2.2"/>
<line x1="1220.8" y1="811.4" x2="1227.3" y2="811.4" stroke="#000" stroke-width="2.2"/>
<text transform="translate(1219.0 819.0) scale(1.080 1)" font-size="21" text-anchor="end">0.3</text>
<line x1="1220.8" y1="874.1" x2="1227.3" y2="874.1" stroke="#000" stroke-width="2.2"/>
<text transform="translate(1219.0 881.7) scale(1.080 1)" font-size="21" text-anchor="end">0.2</text>
<line x1="1220.8" y1="936.9" x2="1227.3" y2="936.9" stroke="#000" stroke-width="2.2"/>
<text transform="translate(1219.0 944.5) scale(1.080 1)" font-size="21" text-anchor="end">0.1</text>
<line x1="1220.8" y1="999.6" x2="1227.3" y2="999.6" stroke="#000" stroke-width="2.2"/>
<text transform="translate(1219.0 1007.2) scale(1.080 1)" font-size="21" text-anchor="end">0.0</text>
<line x1="1222.2" y1="999.6" x2="1416.5" y2="999.6" stroke="#000" stroke-width="2.2"/>
<line x1="1251.0" y1="999.6" x2="1251.0" y2="1006.5" stroke="#000" stroke-width="2.2"/>
<line x1="1298.0" y1="999.6" x2="1298.0" y2="1006.5" stroke="#000" stroke-width="2.2"/>
<line x1="1345.2" y1="999.6" x2="1345.2" y2="1006.5" stroke="#000" stroke-width="2.2"/>
<line x1="1392.3" y1="999.6" x2="1392.3" y2="1006.5" stroke="#000" stroke-width="2.2"/>
<rect x="1235.4" y="868.9" width="31.2" height="130.7" fill="#579ff9"/>
<line x1="1251.0" y1="868.9" x2="1251.0" y2="848.5" stroke="#579ff9" stroke-width="1.8"/>
<line x1="1242.0" y1="848.5" x2="1259.5" y2="848.5" stroke="#579ff9" stroke-width="1.8"/>
<rect x="1282.2" y="966.6" width="31.6" height="33.0" fill="#c1c100"/>
<line x1="1298.0" y1="966.6" x2="1298.0" y2="950.6" stroke="#c1c100" stroke-width="1.8"/>
<line x1="1289.0" y1="950.6" x2="1306.0" y2="950.6" stroke="#c1c100" stroke-width="1.8"/>
<rect x="1329.4" y="947.3" width="31.6" height="52.3" fill="#f797c6"/>
<line x1="1345.2" y1="947.3" x2="1345.2" y2="943.0" stroke="#f797c6" stroke-width="1.8"/>
<line x1="1337.0" y1="943.0" x2="1353.0" y2="943.0" stroke="#f797c6" stroke-width="1.8"/>
<rect x="1376.4" y="977.6" width="31.8" height="22.0" fill="#f9a043"/>
<line x1="1392.3" y1="977.6" x2="1392.3" y2="970.6" stroke="#f9a043" stroke-width="1.8"/>
<line x1="1384.0" y1="970.6" x2="1400.0" y2="970.6" stroke="#f9a043" stroke-width="1.8"/>
<circle cx="1243.1" cy="844.8" r="3.4" fill="#fff" stroke="#579ff9" stroke-width="1.7"/>
<circle cx="1259.1" cy="853.6" r="3.4" fill="#fff" stroke="#579ff9" stroke-width="1.7"/>
<circle cx="1250.8" cy="907.8" r="3.4" fill="#fff" stroke="#579ff9" stroke-width="1.7"/>
<circle cx="1298.0" cy="936.6" r="3.4" fill="#fff" stroke="#c1c100" stroke-width="1.7"/>
<circle cx="1298.0" cy="972.1" r="3.4" fill="#fff" stroke="#c1c100" stroke-width="1.7"/>
<circle cx="1298.0" cy="990.8" r="3.4" fill="#fff" stroke="#c1c100" stroke-width="1.7"/>
<circle cx="1337.5" cy="943.0" r="3.4" fill="#fff" stroke="#f797c6" stroke-width="1.7"/>
<circle cx="1352.9" cy="943.0" r="3.4" fill="#fff" stroke="#f797c6" stroke-width="1.7"/>
<circle cx="1345.2" cy="955.0" r="3.4" fill="#fff" stroke="#f797c6" stroke-width="1.7"/>
<circle cx="1384.7" cy="967.1" r="3.4" fill="#fff" stroke="#f9a043" stroke-width="1.7"/>
<circle cx="1400.5" cy="974.8" r="3.4" fill="#fff" stroke="#f9a043" stroke-width="1.7"/>
<circle cx="1392.4" cy="990.3" r="3.4" fill="#fff" stroke="#f9a043" stroke-width="1.7"/>
<path d="M1250.3,825.0 L1250.3,810.7 L1346.3,810.7 L1346.3,923.8" fill="none" stroke="#000" stroke-width="2"/>
<path d="M1250.3,844.8 L1250.3,838.2 L1298.6,838.2 L1298.6,906.3" fill="none" stroke="#000" stroke-width="2"/>
<text x="1287.7" y="808.3" font-size="19.8" font-weight="normal" style="font-family:'DejaVu Sans', sans-serif" letter-spacing="1.91" stroke="#000" stroke-width="0.55">**</text>
<text x="1258.4" y="835.8" font-size="19.8" font-weight="normal" style="font-family:'DejaVu Sans', sans-serif" letter-spacing="1.91" stroke="#000" stroke-width="0.55">***</text>
<text transform="translate(1166.0 896.0) rotate(-90)" font-size="28.5" text-anchor="middle">SK2 / β-actin</text>
<text transform="translate(1260.3 1023.8) rotate(-45)" font-size="22.5" text-anchor="end">NR1<tspan font-size="15" dy="-6.5">fl/fl</tspan></text>
<text transform="translate(1307.5 1022.7) rotate(-45)" font-size="22.5" text-anchor="end">SNS NR1<tspan font-size="15" dy="-6.5">-/-</tspan></text>
<text transform="translate(1356.9 1023.8) rotate(-45)" font-size="22.5" text-anchor="end">NR1<tspan font-size="15" dy="-6.5">fl/fl</tspan></text>
<text transform="translate(1407.4 1022.7) rotate(-45)" font-size="22.5" text-anchor="end">SNS NR1<tspan font-size="15" dy="-6.5">-/-</tspan></text>
<line x1="1187.5" y1="1109.4" x2="1274.5" y2="1109.4" stroke="#000" stroke-width="3"/>
<line x1="1318.8" y1="1109.4" x2="1405.0" y2="1109.4" stroke="#fe0000" stroke-width="3"/>
<text transform="translate(1227.2 1145.6)" font-size="26" text-anchor="middle">Basal</text>
<text transform="translate(1357.3 1145.6)" font-size="26" text-anchor="middle" fill="#fe0000">CFA</text>
<text x="68.0" y="1219.0" font-size="44.5" font-weight="bold">i</text>
<text transform="translate(299.3 1182.8)" font-size="22.8" text-anchor="middle">Basal</text>
<text transform="translate(481.4 1182.8)" font-size="22.8" text-anchor="middle">CFA</text>
<text transform="translate(191.5 1252.8)" font-size="22.8">1st</text>
<text transform="translate(189.8 1429.5)" font-size="22.8">2nd</text>
<polygon points="252.3,1186.9 252.7,1195.5 253.0,1203.7 253.3,1210.4 253.7,1216.5 254.0,1222.4 254.4,1227.4 254.7,1233.0 255.1,1237.3 255.4,1241.3 255.8,1246.3 256.1,1249.2 256.5,1252.4 256.9,1255.6 257.2,1258.5 257.6,1261.9 257.9,1263.8 258.3,1264.8 258.6,1267.6 259.0,1268.5 259.3,1272.6 259.7,1271.7 260.0,1274.2 260.4,1275.8 260.7,1277.2 261.1,1277.8 261.4,1279.9 261.8,1280.8 262.1,1280.5 262.5,1282.3 262.8,1284.0 263.2,1285.7 263.5,1285.4 263.9,1286.5 264.2,1287.0 264.6,1288.2 264.9,1288.2 265.3,1289.2 265.6,1290.4 266.0,1289.7 266.3,1289.7 266.7,1290.6 267.0,1291.2 267.4,1292.0 267.7,1290.8 268.1,1293.0 268.4,1288.8 268.8,1292.1 269.1,1294.7 269.5,1294.9 269.8,1294.9 270.2,1294.3 270.5,1294.6 270.9,1293.8 271.2,1295.1 271.6,1296.1 271.9,1296.2 272.3,1294.9 272.6,1297.4 273.0,1295.9 273.3,1297.1 273.7,1297.2 274.0,1297.2 274.4,1296.9 274.7,1298.9 275.1,1298.1 275.4,1297.3 275.8,1297.3 276.1,1296.3 276.5,1297.1 276.8,1299.4 277.2,1298.6 277.5,1298.7 277.9,1297.5 278.2,1297.2 278.6,1298.2 278.9,1297.8 279.3,1296.8 279.6,1297.2 280.0,1298.1 280.3,1299.5 280.7,1299.6 281.0,1296.6 281.4,1297.8 281.7,1300.0 282.1,1299.6 282.4,1300.0 282.8,1299.2 283.1,1300.0 283.5,1298.7 283.8,1299.7 284.2,1300.9 284.5,1299.6 284.9,1300.4 285.2,1300.5 285.6,1300.1 285.9,1300.5 286.3,1299.8 286.6,1296.4 287.0,1300.0 287.3,1300.9 287.7,1300.4 288.0,1301.1 288.4,1300.2 288.7,1298.3 289.1,1302.3 289.4,1301.5 289.8,1300.5 290.1,1301.6 290.5,1300.5 290.8,1300.5 291.2,1302.8 291.5,1299.7 291.9,1301.4 292.2,1300.9 292.6,1300.7 292.9,1301.4 293.3,1301.4 293.6,1299.5 294.0,1301.3 294.3,1301.3 294.7,1301.1 295.0,1302.4 295.4,1301.0 295.7,1301.7 296.1,1301.4 296.4,1302.4 296.8,1301.4 297.1,1302.2 297.5,1299.9 297.8,1302.4 298.2,1300.9 298.5,1301.8 298.9,1302.7 299.2,1302.5 299.6,1301.9 299.9,1301.9 300.3,1302.0 300.6,1302.0 301.0,1298.4 301.3,1300.9 301.7,1302.1 302.0,1299.8 302.4,1302.1 302.7,1300.9 303.1,1301.3 303.4,1303.0 303.8,1301.4 304.1,1300.8 304.5,1301.5 304.8,1303.2 305.2,1303.0 305.5,1301.5 305.9,1302.1 306.2,1302.1 306.6,1301.1 306.9,1302.2 307.3,1302.4 307.6,1303.4 308.0,1302.1 308.3,1302.1 308.7,1302.1 309.0,1303.8 309.4,1301.6 309.7,1301.0 310.1,1301.1 310.4,1302.9 310.8,1302.1 311.1,1300.5 311.5,1301.8 311.8,1301.9 312.2,1303.0 312.5,1302.5 312.9,1300.1 313.2,1302.1 313.6,1301.6 313.9,1302.6 314.3,1302.6 314.6,1300.0 315.0,1301.7 315.3,1301.5 315.7,1301.4 316.0,1303.2 316.4,1302.1 316.7,1301.4 317.1,1301.4 317.4,1301.0 317.8,1301.9 318.1,1301.8 318.5,1302.3 318.8,1301.4 319.2,1300.2 319.5,1301.8 319.9,1302.2 319.9,1312.8 319.5,1312.7 319.2,1311.5 318.8,1312.0 318.5,1311.7 318.1,1312.3 317.8,1311.2 317.4,1313.2 317.1,1310.7 316.7,1312.5 316.4,1311.1 316.0,1316.1 315.7,1312.3 315.3,1309.6 315.0,1311.6 314.6,1312.0 314.3,1312.8 313.9,1312.1 313.6,1311.3 313.2,1312.4 312.9,1309.4 312.5,1310.5 312.2,1311.5 311.8,1313.5 311.5,1310.3 311.1,1310.6 310.8,1312.5 310.4,1311.8 310.1,1312.3 309.7,1312.3 309.4,1311.5 309.0,1310.4 308.7,1311.9 308.3,1309.9 308.0,1311.1 307.6,1313.4 307.3,1312.7 306.9,1312.4 306.6,1312.0 306.2,1311.0 305.9,1310.8 305.5,1311.8 305.2,1311.8 304.8,1311.2 304.5,1311.0 304.1,1311.4 303.8,1311.3 303.4,1310.6 303.1,1312.7 302.7,1311.7 302.4,1311.6 302.0,1311.9 301.7,1311.0 301.3,1311.6 301.0,1310.2 300.6,1311.0 300.3,1310.6 299.9,1310.9 299.6,1310.7 299.2,1308.7 298.9,1310.3 298.5,1313.2 298.2,1311.8 297.8,1309.8 297.5,1310.0 297.1,1312.0 296.8,1310.3 296.4,1312.5 296.1,1311.7 295.7,1310.9 295.4,1309.6 295.0,1310.6 294.7,1309.0 294.3,1313.3 294.0,1309.9 293.6,1310.5 293.3,1311.1 292.9,1310.7 292.6,1310.9 292.2,1311.0 291.9,1310.4 291.5,1313.9 291.2,1309.7 290.8,1309.0 290.5,1309.9 290.1,1310.8 289.8,1309.3 289.4,1311.1 289.1,1309.6 288.7,1310.0 288.4,1311.0 288.0,1308.9 287.7,1310.7 287.3,1309.7 287.0,1311.3 286.6,1309.7 286.3,1309.4 285.9,1310.3 285.6,1310.2 285.2,1311.1 284.9,1308.1 284.5,1308.8 284.2,1309.0 283.8,1308.7 283.5,1308.4 283.1,1309.5 282.8,1310.1 282.4,1309.1 282.1,1309.1 281.7,1309.0 281.4,1309.3 281.0,1308.5 280.7,1307.7 280.3,1310.1 280.0,1307.6 279.6,1310.2 279.3,1309.3 278.9,1307.9 278.6,1308.3 278.2,1308.8 277.9,1306.6 277.5,1307.5 277.2,1307.6 276.8,1307.2 276.5,1306.2 276.1,1309.5 275.8,1306.9 275.4,1307.7 275.1,1306.2 274.7,1305.4 274.4,1307.9 274.0,1305.2 273.7,1305.6 273.3,1306.1 273.0,1306.0 272.6,1303.9 272.3,1305.8 271.9,1305.5 271.6,1305.9 271.2,1305.3 270.9,1304.9 270.5,1304.3 270.2,1303.9 269.8,1303.6 269.5,1306.9 269.1,1303.1 268.8,1303.0 268.4,1303.3 268.1,1303.6 267.7,1302.1 267.4,1302.0 267.0,1299.2 266.7,1300.1 266.3,1299.9 266.0,1299.6 265.6,1301.3 265.3,1299.8 264.9,1297.6 264.6,1297.7 264.2,1297.2 263.9,1295.6 263.5,1294.0 263.2,1293.9 262.8,1293.7 262.5,1292.6 262.1,1291.9 261.8,1290.7 261.4,1289.2 261.1,1288.7 260.7,1286.2 260.4,1287.1 260.0,1284.8 259.7,1283.4 259.3,1280.7 259.0,1277.5 258.6,1276.6 258.3,1272.8 257.9,1271.3 257.6,1267.3 257.2,1265.4 256.9,1262.0 256.5,1259.6 256.1,1256.4 255.8,1251.7 255.4,1247.0 255.1,1241.7 254.7,1238.6 254.4,1232.2 254.0,1225.4 253.7,1218.6 253.3,1213.3 253.0,1205.2 252.7,1197.1 252.3,1188.5" fill="#579ff9"/>
<line x1="252.3" y1="1318.5" x2="252.3" y2="1188.0" stroke="#579ff9" stroke-width="3.2"/>
<polyline points="252.3,1188.0 252.5,1193.0 252.7,1197.7 252.9,1202.2 253.1,1206.5 253.3,1210.6 253.5,1214.5 253.7,1218.2 253.9,1221.8 254.1,1225.2 254.3,1228.4 254.5,1231.5 254.7,1234.5 254.9,1237.3 255.1,1240.0 255.3,1242.6 255.5,1245.0 255.7,1247.4 255.9,1249.6 256.1,1251.8 256.3,1253.8 256.5,1255.8 256.7,1257.6 256.9,1259.4 257.1,1261.1 257.3,1262.8 257.5,1264.3 257.7,1265.8 257.9,1267.3 258.1,1268.6 258.3,1270.0 258.5,1271.2 258.7,1272.4 258.9,1273.6 259.1,1274.7 259.3,1275.7 259.5,1276.7 259.7,1277.7 259.9,1278.6 260.1,1279.5 260.3,1280.4 260.5,1281.2 260.7,1282.0 260.9,1282.8 261.1,1283.5 261.3,1284.2 261.5,1284.9 261.7,1285.5 261.9,1286.1 262.1,1286.7 262.3,1287.3 262.5,1287.9 262.7,1288.4 262.9,1288.9 263.1,1289.4 263.3,1289.9 263.5,1290.3 263.7,1290.8 263.9,1291.2 264.1,1291.6 264.3,1292.0 264.5,1292.4" fill="none" stroke="#579ff9" stroke-width="2.8" stroke-linejoin="round"/>
<line x1="251.2" y1="1230.0" x2="251.2" y2="1318.5" stroke="#579ff9" stroke-width="1.6"/>
<polygon points="459.8,1254.8 460.2,1257.4 460.5,1260.3 460.9,1262.5 461.2,1265.1 461.6,1267.2 461.9,1268.5 462.3,1270.7 462.6,1272.1 463.0,1273.4 463.3,1274.4 463.7,1276.9 464.0,1277.8 464.4,1279.0 464.7,1279.9 465.1,1281.7 465.4,1280.6 465.8,1281.5 466.1,1283.4 466.5,1284.5 466.8,1285.3 467.2,1285.5 467.5,1288.8 467.9,1287.0 468.2,1288.4 468.6,1288.2 468.9,1288.6 469.3,1289.2 469.6,1290.0 470.0,1291.5 470.3,1292.3 470.7,1292.8 471.0,1291.9 471.4,1290.9 471.7,1292.6 472.1,1294.1 472.4,1293.6 472.8,1294.9 473.1,1295.1 473.5,1293.2 473.8,1294.4 474.2,1296.7 474.5,1294.1 474.9,1296.4 475.2,1296.5 475.6,1297.5 475.9,1296.6 476.3,1295.1 476.6,1295.4 477.0,1298.8 477.3,1297.7 477.7,1298.3 478.0,1297.6 478.4,1297.6 478.7,1298.6 479.1,1297.1 479.4,1296.8 479.8,1299.0 480.1,1299.0 480.5,1299.1 480.8,1297.9 481.2,1299.2 481.5,1298.2 481.9,1299.7 482.2,1299.4 482.6,1298.6 482.9,1298.3 483.3,1297.9 483.6,1301.1 484.0,1301.8 484.3,1300.0 484.7,1301.7 485.0,1301.9 485.4,1304.4 485.7,1302.5 486.1,1302.4 486.4,1302.7 486.8,1300.9 487.1,1302.0 487.5,1302.4 487.8,1302.4 488.2,1301.8 488.5,1303.1 488.9,1302.3 489.2,1302.7 489.6,1302.6 489.9,1303.5 490.3,1302.9 490.6,1304.0 491.0,1304.4 491.3,1303.4 491.7,1303.1 492.0,1303.7 492.4,1303.9 492.7,1303.5 493.1,1302.8 493.4,1305.0 493.8,1305.0 494.1,1303.7 494.5,1305.8 494.8,1303.9 495.2,1299.8 495.5,1305.1 495.9,1304.4 496.2,1304.5 496.6,1305.1 496.9,1304.5 497.3,1305.5 497.6,1303.8 498.0,1306.3 498.3,1306.4 498.7,1305.5 499.0,1304.5 499.4,1305.1 499.7,1305.1 500.1,1305.6 500.4,1305.5 500.8,1305.3 501.1,1304.1 501.5,1305.2 501.8,1305.7 502.2,1305.0 502.5,1305.8 502.9,1304.6 503.2,1306.0 503.6,1305.9 503.9,1304.6 504.3,1306.8 504.6,1306.7 505.0,1307.8 505.3,1307.0 505.7,1306.0 506.0,1305.4 506.4,1306.3 506.7,1305.8 507.1,1307.8 507.4,1307.1 507.8,1305.6 508.1,1305.9 508.5,1306.8 508.8,1307.1 509.2,1307.2 509.5,1308.3 509.9,1307.0 510.2,1306.4 510.6,1307.5 510.9,1307.5 511.3,1307.4 511.6,1307.4 512.0,1306.1 512.3,1304.6 512.7,1306.3 513.0,1307.8 513.4,1306.5 513.7,1306.9 514.1,1306.9 514.4,1305.3 514.8,1308.0 515.1,1306.8 515.5,1307.8 515.8,1308.7 516.2,1306.9 516.5,1307.2 516.9,1307.1 517.2,1307.1 517.6,1308.1 517.6,1313.9 517.2,1313.1 516.9,1312.9 516.5,1312.5 516.2,1313.3 515.8,1312.8 515.5,1313.8 515.1,1313.4 514.8,1314.2 514.4,1314.1 514.1,1313.7 513.7,1313.3 513.4,1312.6 513.0,1312.3 512.7,1312.9 512.3,1312.5 512.0,1313.2 511.6,1312.7 511.3,1312.7 510.9,1313.1 510.6,1311.7 510.2,1313.0 509.9,1311.5 509.5,1312.9 509.2,1311.9 508.8,1312.1 508.5,1313.1 508.1,1311.4 507.8,1313.3 507.4,1313.9 507.1,1312.4 506.7,1313.3 506.4,1312.2 506.0,1314.6 505.7,1312.3 505.3,1311.3 505.0,1311.1 504.6,1311.8 504.3,1311.1 503.9,1311.9 503.6,1310.7 503.2,1312.4 502.9,1311.4 502.5,1314.8 502.2,1310.4 501.8,1310.8 501.5,1312.0 501.1,1311.5 500.8,1312.1 500.4,1313.2 500.1,1309.7 499.7,1310.6 499.4,1312.0 499.0,1311.7 498.7,1311.9 498.3,1310.5 498.0,1309.9 497.6,1312.1 497.3,1312.2 496.9,1310.1 496.6,1310.4 496.2,1309.6 495.9,1309.5 495.5,1310.7 495.2,1309.0 494.8,1310.1 494.5,1309.3 494.1,1309.0 493.8,1310.4 493.4,1310.2 493.1,1310.4 492.7,1310.1 492.4,1309.8 492.0,1309.3 491.7,1308.4 491.3,1307.7 491.0,1309.5 490.6,1307.9 490.3,1309.2 489.9,1309.4 489.6,1309.7 489.2,1308.9 488.9,1308.1 488.5,1307.5 488.2,1309.6 487.8,1308.5 487.5,1309.5 487.1,1307.8 486.8,1307.7 486.4,1308.6 486.1,1307.1 485.7,1308.6 485.4,1307.2 485.0,1307.8 484.7,1306.9 484.3,1307.6 484.0,1306.0 483.6,1306.2 483.3,1305.5 482.9,1307.4 482.6,1306.1 482.2,1304.1 481.9,1305.8 481.5,1305.6 481.2,1305.0 480.8,1304.8 480.5,1304.3 480.1,1306.2 479.8,1305.0 479.4,1303.4 479.1,1306.1 478.7,1303.0 478.4,1304.0 478.0,1304.1 477.7,1303.3 477.3,1304.3 477.0,1302.3 476.6,1302.5 476.3,1301.0 475.9,1304.3 475.6,1303.9 475.2,1302.2 474.9,1301.3 474.5,1301.5 474.2,1303.8 473.8,1303.1 473.5,1299.9 473.1,1301.0 472.8,1299.3 472.4,1298.3 472.1,1298.9 471.7,1299.3 471.4,1298.1 471.0,1299.1 470.7,1298.4 470.3,1297.5 470.0,1295.5 469.6,1295.1 469.3,1297.0 468.9,1294.0 468.6,1292.9 468.2,1291.4 467.9,1293.0 467.5,1290.8 467.2,1289.6 466.8,1289.7 466.5,1288.7 466.1,1287.6 465.8,1287.8 465.4,1286.1 465.1,1284.7 464.7,1283.1 464.4,1282.4 464.0,1282.2 463.7,1279.2 463.3,1277.3 463.0,1276.0 462.6,1275.1 462.3,1272.1 461.9,1269.9 461.6,1268.9 461.2,1265.9 460.9,1264.0 460.5,1261.6 460.2,1258.6 459.8,1255.7" fill="#f797c6" fill-opacity="0.95"/>
<line x1="459.8" y1="1320.8" x2="459.8" y2="1255.2" stroke="#f8bfdb" stroke-width="1.0"/>
<polyline points="459.8,1255.2 460.0,1256.8 460.2,1258.4 460.4,1259.9 460.6,1261.4 460.8,1262.8 461.0,1264.1 461.2,1265.4 461.4,1266.6 461.6,1267.8 461.8,1269.0 462.0,1270.1 462.2,1271.2 462.4,1272.2 462.6,1273.2 462.8,1274.1 463.0,1275.1 463.2,1275.9 463.4,1276.8 463.6,1277.6 463.8,1278.4 464.0,1279.2" fill="none" stroke="#f797c6" stroke-width="1.3" stroke-linejoin="round"/>
<polygon points="249.8,1342.4 250.2,1354.3 250.5,1365.7 250.8,1376.1 251.2,1386.2 251.5,1394.6 251.9,1401.5 252.2,1409.8 252.6,1416.8 252.9,1422.3 253.3,1428.0 253.6,1434.2 254.0,1439.5 254.3,1444.2 254.7,1447.2 255.0,1450.9 255.4,1453.9 255.7,1457.0 256.1,1461.1 256.4,1464.5 256.8,1465.2 257.1,1467.6 257.5,1471.3 257.9,1473.1 258.2,1475.3 258.6,1475.7 258.9,1479.9 259.3,1478.8 259.6,1481.6 260.0,1482.2 260.3,1484.8 260.7,1485.0 261.0,1486.3 261.4,1488.2 261.7,1484.3 262.1,1491.3 262.4,1491.1 262.8,1491.8 263.1,1492.1 263.5,1493.8 263.8,1494.8 264.2,1495.1 264.5,1495.2 264.9,1496.1 265.2,1497.2 265.6,1497.5 265.9,1495.7 266.3,1499.9 266.6,1497.0 267.0,1499.2 267.3,1498.6 267.7,1499.7 268.0,1498.8 268.4,1499.2 268.7,1500.3 269.1,1500.3 269.4,1500.9 269.8,1501.4 270.1,1500.4 270.5,1501.8 270.8,1502.9 271.2,1503.6 271.5,1502.4 271.9,1502.7 272.2,1503.6 272.6,1504.2 272.9,1503.9 273.3,1506.0 273.6,1504.2 274.0,1504.2 274.3,1505.2 274.7,1505.8 275.0,1505.6 275.4,1505.8 275.7,1505.9 276.1,1505.8 276.4,1506.6 276.8,1506.2 277.1,1505.9 277.5,1505.5 277.8,1506.1 278.2,1505.8 278.5,1505.2 278.9,1507.3 279.2,1509.0 279.6,1506.5 279.9,1507.5 280.3,1507.5 280.6,1505.9 281.0,1508.2 281.3,1508.1 281.7,1506.8 282.0,1507.2 282.4,1508.6 282.7,1508.9 283.1,1507.9 283.4,1508.6 283.8,1507.8 284.1,1509.0 284.5,1507.7 284.8,1509.2 285.2,1507.6 285.5,1508.4 285.9,1510.4 286.2,1507.6 286.6,1507.8 286.9,1509.7 287.3,1507.7 287.6,1508.6 288.0,1508.3 288.3,1508.8 288.7,1507.5 289.0,1508.2 289.4,1508.5 289.7,1508.2 290.1,1507.9 290.4,1508.2 290.8,1509.8 291.1,1508.4 291.5,1509.9 291.8,1509.7 292.2,1507.7 292.5,1509.9 292.9,1508.8 293.2,1509.2 293.6,1509.7 293.9,1508.3 294.3,1510.5 294.6,1509.8 295.0,1509.2 295.3,1509.8 295.7,1508.5 296.0,1511.8 296.4,1511.6 296.7,1509.3 297.1,1509.6 297.4,1508.4 297.8,1511.2 298.1,1511.5 298.5,1508.9 298.8,1510.5 299.2,1510.5 299.5,1510.0 299.9,1508.5 300.2,1510.4 300.6,1510.6 300.9,1510.6 301.3,1511.0 301.6,1508.5 302.0,1510.8 302.3,1510.1 302.7,1511.6 303.0,1512.1 303.4,1510.8 303.7,1509.5 304.1,1511.7 304.4,1510.0 304.8,1510.7 305.1,1511.2 305.5,1511.8 305.8,1511.3 306.2,1511.0 306.5,1511.2 306.9,1511.9 307.2,1509.9 307.6,1511.6 307.9,1510.5 308.3,1511.5 308.6,1510.8 309.0,1511.7 309.3,1512.8 309.7,1511.3 310.0,1509.4 310.4,1511.9 310.7,1511.6 311.1,1510.8 311.4,1510.2 311.8,1512.6 312.1,1511.5 312.5,1511.6 312.8,1511.4 313.2,1511.0 313.5,1511.5 313.9,1511.2 314.2,1512.7 314.6,1511.3 314.9,1508.6 315.3,1510.6 315.6,1510.2 316.0,1510.1 316.3,1511.2 316.7,1511.5 317.0,1510.1 317.4,1510.4 317.7,1511.4 318.1,1508.8 318.4,1510.6 318.8,1511.4 319.1,1511.0 319.5,1510.6 319.8,1512.5 320.2,1511.8 320.5,1512.1 320.9,1511.0 321.2,1510.7 321.6,1509.7 321.9,1511.3 322.3,1510.0 322.6,1511.4 323.0,1512.7 323.3,1511.9 323.7,1510.6 324.0,1511.5 324.4,1511.5 324.7,1510.4 325.1,1511.2 325.4,1511.8 325.8,1512.8 326.1,1510.9 326.5,1511.4 326.8,1511.6 327.2,1511.2 327.5,1511.4 327.9,1511.6 328.2,1510.9 328.6,1510.2 328.9,1510.5 329.3,1511.0 329.6,1512.6 330.0,1511.7 330.3,1511.7 330.7,1510.3 331.0,1511.9 331.4,1512.3 331.7,1511.6 332.1,1510.8 332.4,1513.2 332.8,1511.7 333.1,1511.3 333.5,1512.6 333.8,1510.9 334.2,1510.1 334.5,1509.0 334.9,1512.2 335.2,1513.4 335.6,1508.3 335.9,1510.0 336.3,1511.3 336.6,1511.3 337.0,1510.7 337.3,1511.4 337.7,1511.8 338.0,1511.3 338.4,1510.8 338.7,1512.6 339.1,1511.4 339.4,1512.2 339.8,1511.4 340.1,1509.2 340.5,1512.4 340.8,1510.9 341.2,1510.1 341.5,1512.1 341.9,1511.5 342.2,1510.4 342.6,1512.5 342.9,1509.8 343.3,1510.5 343.6,1510.8 344.0,1509.3 344.3,1510.2 344.7,1513.2 345.0,1510.6 345.4,1511.7 345.7,1511.7 346.1,1511.9 346.4,1509.2 346.8,1511.6 347.1,1511.8 347.1,1520.3 346.8,1521.8 346.4,1520.1 346.1,1519.8 345.7,1520.6 345.4,1521.0 345.0,1521.7 344.7,1521.7 344.3,1521.9 344.0,1521.5 343.6,1522.2 343.3,1522.0 342.9,1521.6 342.6,1520.9 342.2,1520.3 341.9,1522.0 341.5,1520.1 341.2,1520.7 340.8,1522.9 340.5,1520.6 340.1,1522.2 339.8,1521.7 339.4,1520.9 339.1,1522.5 338.7,1522.9 338.4,1521.6 338.0,1521.3 337.7,1521.5 337.3,1521.5 337.0,1520.5 336.6,1520.9 336.3,1521.8 335.9,1523.4 335.6,1520.3 335.2,1520.8 334.9,1520.5 334.5,1522.6 334.2,1522.6 333.8,1523.5 333.5,1522.5 333.1,1520.3 332.8,1521.3 332.4,1521.1 332.1,1522.3 331.7,1523.0 331.4,1522.2 331.0,1522.4 330.7,1522.8 330.3,1522.7 330.0,1520.8 329.6,1521.8 329.3,1521.2 328.9,1521.6 328.6,1523.1 328.2,1522.5 327.9,1522.1 327.5,1521.9 327.2,1521.6 326.8,1525.0 326.5,1521.4 326.1,1520.4 325.8,1520.0 325.4,1521.8 325.1,1521.0 324.7,1522.6 324.4,1522.2 324.0,1522.5 323.7,1520.7 323.3,1521.4 323.0,1521.8 322.6,1520.3 322.3,1522.4 321.9,1523.5 321.6,1520.7 321.2,1522.8 320.9,1520.6 320.5,1521.4 320.2,1521.8 319.8,1521.1 319.5,1520.6 319.1,1520.5 318.8,1521.9 318.4,1520.8 318.1,1523.3 317.7,1520.6 317.4,1520.1 317.0,1522.8 316.7,1519.4 316.3,1521.6 316.0,1521.3 315.6,1521.0 315.3,1521.5 314.9,1522.1 314.6,1521.5 314.2,1519.9 313.9,1522.1 313.5,1519.8 313.2,1520.2 312.8,1520.4 312.5,1523.2 312.1,1521.1 311.8,1520.1 311.4,1521.1 311.1,1519.1 310.7,1520.6 310.4,1521.1 310.0,1521.1 309.7,1520.6 309.3,1520.1 309.0,1520.1 308.6,1520.4 308.3,1521.7 307.9,1519.5 307.6,1521.2 307.2,1519.4 306.9,1521.7 306.5,1520.6 306.2,1520.5 305.8,1521.4 305.5,1522.0 305.1,1520.5 304.8,1522.0 304.4,1519.3 304.1,1519.1 303.7,1519.6 303.4,1520.4 303.0,1522.9 302.7,1522.1 302.3,1520.5 302.0,1521.1 301.6,1520.1 301.3,1520.5 300.9,1520.6 300.6,1520.1 300.2,1521.7 299.9,1519.4 299.5,1519.5 299.2,1519.9 298.8,1522.6 298.5,1521.8 298.1,1520.2 297.8,1520.6 297.4,1519.6 297.1,1519.8 296.7,1519.9 296.4,1519.5 296.0,1520.8 295.7,1519.2 295.3,1518.6 295.0,1520.9 294.6,1521.4 294.3,1520.8 293.9,1520.8 293.6,1520.1 293.2,1521.1 292.9,1520.0 292.5,1518.7 292.2,1521.0 291.8,1522.1 291.5,1518.5 291.1,1521.6 290.8,1519.3 290.4,1518.5 290.1,1519.9 289.7,1517.7 289.4,1520.7 289.0,1521.2 288.7,1518.1 288.3,1518.1 288.0,1519.0 287.6,1518.1 287.3,1520.3 286.9,1518.9 286.6,1518.4 286.2,1519.6 285.9,1521.9 285.5,1518.8 285.2,1520.2 284.8,1519.8 284.5,1518.3 284.1,1517.3 283.8,1519.1 283.4,1517.8 283.1,1516.8 282.7,1518.0 282.4,1520.0 282.0,1517.2 281.7,1518.2 281.3,1517.9 281.0,1518.2 280.6,1517.8 280.3,1518.0 279.9,1516.2 279.6,1516.8 279.2,1516.9 278.9,1516.5 278.5,1516.8 278.2,1516.7 277.8,1517.8 277.5,1516.7 277.1,1515.6 276.8,1516.3 276.4,1515.7 276.1,1515.6 275.7,1514.8 275.4,1515.8 275.0,1515.4 274.7,1515.3 274.3,1514.8 274.0,1515.9 273.6,1514.7 273.3,1513.7 272.9,1514.7 272.6,1513.5 272.2,1514.9 271.9,1514.7 271.5,1513.9 271.2,1513.8 270.8,1513.6 270.5,1513.4 270.1,1511.7 269.8,1511.3 269.4,1512.7 269.1,1512.1 268.7,1512.3 268.4,1509.3 268.0,1513.9 267.7,1511.0 267.3,1508.5 267.0,1509.9 266.6,1509.2 266.3,1509.1 265.9,1508.7 265.6,1506.7 265.2,1506.6 264.9,1504.6 264.5,1506.2 264.2,1505.1 263.8,1502.5 263.5,1504.3 263.1,1502.6 262.8,1503.0 262.4,1502.5 262.1,1500.4 261.7,1499.0 261.4,1499.0 261.0,1497.3 260.7,1495.7 260.3,1494.3 260.0,1491.7 259.6,1491.0 259.3,1489.8 258.9,1488.5 258.6,1487.6 258.2,1485.3 257.9,1484.2 257.5,1480.1 257.1,1477.5 256.8,1476.2 256.4,1473.0 256.1,1469.4 255.7,1465.3 255.4,1464.0 255.0,1457.7 254.7,1454.0 254.3,1450.8 254.0,1444.3 253.6,1439.6 253.3,1435.3 252.9,1427.6 252.6,1421.2 252.2,1413.7 251.9,1406.5 251.5,1399.1 251.2,1388.5 250.8,1379.0 250.5,1368.2 250.2,1356.5 249.8,1343.6" fill="#579ff9"/>
<line x1="249.8" y1="1527.9" x2="249.8" y2="1343.2" stroke="#579ff9" stroke-width="3.2"/>
<polyline points="249.8,1343.2 250.0,1350.4 250.2,1357.3 250.4,1363.8 250.6,1370.0 250.8,1376.0 251.0,1381.7 251.2,1387.1 251.4,1392.3 251.6,1397.2 251.8,1401.9 252.0,1406.4 252.2,1410.7 252.4,1414.8 252.6,1418.7 252.8,1422.5 253.0,1426.0 253.2,1429.4 253.4,1432.7 253.6,1435.8 253.8,1438.8 254.0,1441.6 254.2,1444.3 254.4,1446.9 254.6,1449.4 254.8,1451.8 255.0,1454.1 255.2,1456.3 255.4,1458.3 255.6,1460.3 255.8,1462.2 256.0,1464.1 256.2,1465.8 256.4,1467.5 256.6,1469.1 256.8,1470.6 257.0,1472.1 257.2,1473.5 257.4,1474.9 257.6,1476.2 257.8,1477.4 258.0,1478.6 258.2,1479.8 258.4,1480.9 258.6,1481.9 258.8,1482.9 259.0,1483.9 259.2,1484.8 259.4,1485.7 259.6,1486.6 259.8,1487.4 260.0,1488.2 260.2,1489.0 260.4,1489.8 260.6,1490.5 260.8,1491.2 261.0,1491.8 261.2,1492.5 261.4,1493.1 261.6,1493.7 261.8,1494.2 262.0,1494.8" fill="none" stroke="#579ff9" stroke-width="2.8" stroke-linejoin="round"/>
<line x1="248.7" y1="1390.0" x2="248.7" y2="1527.9" stroke="#579ff9" stroke-width="1.6"/>
<polygon points="460.0,1411.0 460.4,1416.2 460.7,1421.6 461.1,1426.2 461.4,1430.7 461.8,1434.7 462.1,1438.5 462.5,1442.3 462.8,1446.4 463.2,1449.0 463.5,1451.1 463.9,1455.2 464.2,1457.6 464.6,1460.2 464.9,1462.3 465.3,1464.1 465.6,1465.8 466.0,1468.5 466.3,1470.1 466.7,1472.4 467.0,1472.8 467.4,1474.8 467.7,1475.8 468.1,1478.2 468.4,1479.5 468.8,1481.6 469.1,1481.2 469.5,1481.1 469.8,1483.8 470.2,1484.0 470.5,1485.6 470.9,1486.6 471.2,1487.8 471.6,1488.8 471.9,1488.9 472.3,1489.4 472.6,1491.2 473.0,1491.2 473.3,1491.7 473.7,1492.1 474.0,1493.5 474.4,1492.9 474.7,1494.5 475.1,1496.3 475.4,1495.8 475.8,1497.6 476.1,1496.2 476.5,1497.6 476.8,1497.7 477.2,1499.0 477.5,1498.1 477.9,1499.6 478.2,1500.4 478.6,1499.6 478.9,1500.8 479.3,1499.5 479.6,1500.7 480.0,1502.3 480.3,1501.0 480.7,1502.2 481.0,1503.1 481.4,1502.0 481.7,1503.4 482.1,1501.9 482.4,1503.4 482.8,1499.1 483.1,1502.7 483.5,1504.3 483.8,1504.9 484.2,1504.6 484.5,1507.3 484.9,1505.1 485.2,1508.3 485.6,1506.8 485.9,1504.3 486.3,1505.5 486.6,1506.4 487.0,1506.8 487.3,1507.4 487.7,1508.8 488.0,1509.3 488.4,1507.8 488.7,1507.3 489.1,1508.4 489.4,1509.6 489.8,1510.4 490.1,1508.0 490.5,1510.3 490.8,1507.6 491.2,1509.2 491.5,1511.9 491.9,1511.3 492.2,1509.7 492.6,1510.5 492.9,1510.6 493.3,1512.7 493.6,1513.3 494.0,1508.9 494.3,1512.1 494.7,1510.2 495.0,1513.2 495.4,1511.1 495.7,1512.1 496.1,1513.6 496.4,1510.0 496.8,1510.5 497.1,1512.7 497.5,1513.8 497.8,1513.6 498.2,1513.4 498.5,1511.5 498.9,1513.1 499.2,1513.7 499.6,1513.1 499.9,1512.1 500.3,1513.7 500.6,1514.2 501.0,1515.2 501.3,1514.7 501.7,1514.2 502.0,1514.7 502.4,1515.9 502.7,1515.5 503.1,1514.2 503.4,1515.8 503.8,1515.0 504.1,1515.5 504.5,1514.5 504.8,1517.3 505.2,1515.8 505.5,1515.2 505.9,1515.6 506.2,1518.2 506.6,1516.9 506.9,1516.7 507.3,1516.6 507.6,1515.6 508.0,1516.3 508.3,1516.7 508.7,1516.9 509.0,1516.6 509.4,1517.0 509.7,1517.9 510.1,1517.0 510.4,1516.4 510.8,1516.9 511.1,1517.5 511.5,1518.6 511.8,1517.7 512.2,1517.5 512.5,1518.5 512.9,1517.8 513.2,1517.2 513.6,1516.5 513.9,1517.7 514.3,1518.1 514.6,1517.9 515.0,1515.9 515.3,1517.5 515.7,1519.7 516.0,1518.7 516.4,1518.6 516.7,1517.0 517.1,1517.3 517.4,1515.4 517.8,1518.7 518.1,1518.1 518.5,1518.9 518.8,1517.3 519.2,1519.9 519.5,1518.4 519.9,1519.6 520.2,1519.1 520.6,1517.7 520.9,1519.1 521.3,1517.8 521.6,1519.0 522.0,1519.8 522.3,1520.4 522.7,1518.8 523.0,1519.2 523.4,1519.3 523.4,1526.9 523.0,1524.7 522.7,1524.0 522.3,1523.0 522.0,1524.9 521.6,1526.3 521.3,1524.6 520.9,1527.4 520.6,1526.5 520.2,1525.5 519.9,1523.7 519.5,1526.1 519.2,1525.7 518.8,1524.1 518.5,1523.9 518.1,1525.1 517.8,1524.4 517.4,1524.7 517.1,1523.5 516.7,1524.4 516.4,1525.9 516.0,1524.3 515.7,1524.4 515.3,1525.0 515.0,1524.5 514.6,1525.7 514.3,1524.3 513.9,1523.9 513.6,1523.2 513.2,1524.8 512.9,1524.3 512.5,1525.1 512.2,1524.7 511.8,1524.8 511.5,1523.8 511.1,1523.5 510.8,1522.1 510.4,1521.4 510.1,1522.3 509.7,1523.0 509.4,1522.9 509.0,1522.2 508.7,1520.7 508.3,1521.1 508.0,1522.6 507.6,1522.4 507.3,1522.4 506.9,1520.8 506.6,1522.2 506.2,1523.1 505.9,1522.0 505.5,1521.4 505.2,1522.0 504.8,1520.7 504.5,1521.5 504.1,1521.1 503.8,1521.4 503.4,1521.3 503.1,1520.4 502.7,1520.4 502.4,1521.2 502.0,1522.1 501.7,1521.7 501.3,1521.4 501.0,1520.1 500.6,1521.8 500.3,1520.8 499.9,1519.5 499.6,1519.4 499.2,1518.8 498.9,1519.0 498.5,1520.2 498.2,1518.9 497.8,1520.1 497.5,1519.1 497.1,1518.6 496.8,1517.6 496.4,1518.2 496.1,1519.7 495.7,1518.0 495.4,1520.1 495.0,1519.7 494.7,1519.6 494.3,1517.0 494.0,1517.3 493.6,1517.1 493.3,1517.3 492.9,1516.3 492.6,1516.6 492.2,1517.6 491.9,1516.7 491.5,1515.8 491.2,1515.9 490.8,1515.8 490.5,1516.3 490.1,1515.2 489.8,1515.1 489.4,1514.7 489.1,1514.7 488.7,1514.7 488.4,1514.6 488.0,1512.9 487.7,1514.3 487.3,1512.8 487.0,1513.2 486.6,1513.2 486.3,1513.7 485.9,1514.1 485.6,1512.8 485.2,1512.0 484.9,1512.3 484.5,1512.7 484.2,1511.2 483.8,1511.0 483.5,1509.3 483.1,1510.7 482.8,1509.9 482.4,1509.1 482.1,1509.8 481.7,1508.0 481.4,1509.6 481.0,1509.6 480.7,1507.8 480.3,1507.5 480.0,1508.6 479.6,1507.1 479.3,1506.6 478.9,1509.4 478.6,1507.9 478.2,1504.4 477.9,1504.6 477.5,1505.4 477.2,1505.7 476.8,1502.4 476.5,1501.5 476.1,1502.7 475.8,1503.3 475.4,1500.6 475.1,1499.6 474.7,1500.2 474.4,1500.7 474.0,1499.8 473.7,1499.0 473.3,1497.6 473.0,1496.9 472.6,1496.7 472.3,1496.6 471.9,1496.1 471.6,1495.9 471.2,1494.5 470.9,1493.3 470.5,1491.5 470.2,1489.9 469.8,1491.0 469.5,1489.7 469.1,1488.7 468.8,1488.1 468.4,1483.3 468.1,1483.1 467.7,1479.7 467.4,1480.6 467.0,1477.9 466.7,1476.6 466.3,1474.5 466.0,1473.0 465.6,1471.3 465.3,1468.6 464.9,1467.6 464.6,1462.2 464.2,1460.3 463.9,1458.3 463.5,1455.5 463.2,1452.7 462.8,1448.2 462.5,1444.9 462.1,1441.0 461.8,1437.4 461.4,1432.4 461.1,1428.3 460.7,1423.2 460.4,1417.8 460.0,1411.9" fill="#f797c6" fill-opacity="0.95"/>
<line x1="460.0" y1="1531.3" x2="460.0" y2="1411.4" stroke="#f8c8df" stroke-width="1.0"/>
<polyline points="460.0,1411.4 460.2,1414.7 460.4,1417.8 460.6,1420.8 460.8,1423.7 461.0,1426.5 461.2,1429.1 461.4,1431.7 461.6,1434.2 461.8,1436.6 462.0,1438.9 462.2,1441.1 462.4,1443.2 462.6,1445.3 462.8,1447.2 463.0,1449.1 463.2,1451.0 463.4,1452.7 463.6,1454.4 463.8,1456.1 464.0,1457.7 464.2,1459.2" fill="none" stroke="#f797c6" stroke-width="1.3" stroke-linejoin="round"/>
<path d="M513.4,1393.3 L540.7,1393.3 L540.7,1361.2" fill="none" stroke="#000" stroke-width="2.8"/>
<text transform="translate(570.0 1374.5) rotate(-90)" font-size="22.5" text-anchor="middle">10 pA</text>
<text transform="translate(535.2 1425.4)" font-size="22.5" text-anchor="middle">200 ms</text>
<text x="750.5" y="1226.3" font-size="44.5" font-weight="bold">j</text>
<line x1="951.2" y1="1163.4" x2="951.2" y2="1463.5" stroke="#000" stroke-width="2.6"/>
<line x1="950.0" y1="1462.3" x2="1440.0" y2="1462.3" stroke="#000" stroke-width="2.6"/>
<line x1="951.2" y1="1462.3" x2="951.2" y2="1470.0" stroke="#000" stroke-width="2.6"/>
<text transform="translate(951.2 1499.0) scale(1.050 1)" font-size="28" text-anchor="middle">0</text>
<line x1="1049.0" y1="1462.3" x2="1049.0" y2="1470.0" stroke="#000" stroke-width="2.6"/>
<text transform="translate(1049.0 1499.0) scale(1.050 1)" font-size="28" text-anchor="middle">-20</text>
<line x1="1146.7" y1="1462.3" x2="1146.7" y2="1470.0" stroke="#000" stroke-width="2.6"/>
<text transform="translate(1146.7 1499.0) scale(1.050 1)" font-size="28" text-anchor="middle">-40</text>
<line x1="1244.5" y1="1462.3" x2="1244.5" y2="1470.0" stroke="#000" stroke-width="2.6"/>
<text transform="translate(1244.5 1499.0) scale(1.050 1)" font-size="28" text-anchor="middle">-60</text>
<line x1="1342.2" y1="1462.3" x2="1342.2" y2="1470.0" stroke="#000" stroke-width="2.6"/>
<text transform="translate(1342.2 1499.0) scale(1.050 1)" font-size="28" text-anchor="middle">-80</text>
<line x1="1440.0" y1="1462.3" x2="1440.0" y2="1470.0" stroke="#000" stroke-width="2.6"/>
<text transform="translate(1440.0 1499.0) scale(1.050 1)" font-size="28" text-anchor="middle">-100</text>
<rect x="951.2" y="1190.5" width="219.0" height="50.1" fill="#579ff9"/>
<rect x="952.5" y="1241.9" width="304.7" height="44.1" fill="#fff" stroke="#579ff9" stroke-width="2.6"/>
<rect x="951.2" y="1338.3" width="103.6" height="51.0" fill="#f797c6"/>
<rect x="952.5" y="1390.6" width="134.6" height="43.2" fill="#fff" stroke="#f797c6" stroke-width="2.6"/>
<line x1="1170.0" y1="1214.5" x2="1198.2" y2="1214.5" stroke="#579ff9" stroke-width="1.8"/>
<line x1="1198.2" y1="1202.5" x2="1198.2" y2="1226.5" stroke="#579ff9" stroke-width="1.8"/>
<line x1="1257.0" y1="1264.0" x2="1291.6" y2="1264.0" stroke="#579ff9" stroke-width="1.8"/>
<line x1="1291.6" y1="1252.0" x2="1291.6" y2="1276.0" stroke="#579ff9" stroke-width="1.8"/>
<line x1="1054.7" y1="1363.5" x2="1058.5" y2="1363.5" stroke="#f797c6" stroke-width="1.8"/>
<line x1="1058.5" y1="1351.5" x2="1058.5" y2="1375.5" stroke="#f797c6" stroke-width="1.8"/>
<line x1="1087.0" y1="1412.0" x2="1092.8" y2="1412.0" stroke="#f797c6" stroke-width="1.8"/>
<line x1="1092.8" y1="1400.0" x2="1092.8" y2="1424.0" stroke="#f797c6" stroke-width="1.8"/>
<ellipse cx="1078.5" cy="1214.4" rx="6.3" ry="5.8" fill="#fff" stroke="#579ff9" stroke-width="2.9"/>
<ellipse cx="1131.9" cy="1214.4" rx="6.3" ry="5.8" fill="#fff" stroke="#579ff9" stroke-width="2.9"/>
<ellipse cx="1185.9" cy="1214.6" rx="6.3" ry="5.8" fill="#fff" stroke="#579ff9" stroke-width="2.9"/>
<ellipse cx="1223.8" cy="1202.2" rx="6.3" ry="5.8" fill="#fff" stroke="#579ff9" stroke-width="2.9"/>
<ellipse cx="1229.7" cy="1226.6" rx="6.3" ry="5.8" fill="#fff" stroke="#579ff9" stroke-width="2.9"/>
<ellipse cx="1156.6" cy="1264.1" rx="6.3" ry="5.8" fill="#fff" stroke="#579ff9" stroke-width="2.9"/>
<ellipse cx="1229.7" cy="1264.1" rx="6.3" ry="5.8" fill="#fff" stroke="#579ff9" stroke-width="2.9"/>
<ellipse cx="1254.2" cy="1264.1" rx="6.3" ry="5.8" fill="#fff" stroke="#579ff9" stroke-width="2.9"/>
<ellipse cx="1288.4" cy="1264.1" rx="6.3" ry="5.8" fill="#fff" stroke="#579ff9" stroke-width="2.9"/>
<ellipse cx="1361.2" cy="1264.1" rx="6.3" ry="5.8" fill="#fff" stroke="#579ff9" stroke-width="2.9"/>
<ellipse cx="1039.4" cy="1344.5" rx="6.3" ry="5.8" fill="#fff" stroke="#f797c6" stroke-width="2.9"/>
<ellipse cx="1041.8" cy="1356.0" rx="6.3" ry="5.8" fill="#fff" stroke="#f797c6" stroke-width="2.9"/>
<ellipse cx="1042.8" cy="1367.9" rx="6.3" ry="5.8" fill="#fff" stroke="#f797c6" stroke-width="2.9"/>
<ellipse cx="1050.9" cy="1378.8" rx="6.3" ry="5.8" fill="#fff" stroke="#f797c6" stroke-width="2.9"/>
<ellipse cx="1076.1" cy="1350.2" rx="6.3" ry="5.8" fill="#fff" stroke="#f797c6" stroke-width="2.9"/>
<ellipse cx="1067.1" cy="1362.2" rx="6.3" ry="5.8" fill="#fff" stroke="#f797c6" stroke-width="2.9"/>
<ellipse cx="1064.2" cy="1373.1" rx="6.3" ry="5.8" fill="#fff" stroke="#f797c6" stroke-width="2.9"/>
<ellipse cx="1070.4" cy="1394.1" rx="6.3" ry="5.8" fill="#fff" stroke="#f797c6" stroke-width="2.9"/>
<ellipse cx="1076.1" cy="1405.1" rx="6.3" ry="5.8" fill="#fff" stroke="#f797c6" stroke-width="2.9"/>
<ellipse cx="1076.1" cy="1417.0" rx="6.3" ry="5.8" fill="#fff" stroke="#f797c6" stroke-width="2.9"/>
<ellipse cx="1083.3" cy="1427.5" rx="6.3" ry="5.8" fill="#fff" stroke="#f797c6" stroke-width="2.9"/>
<ellipse cx="1106.2" cy="1399.8" rx="6.3" ry="5.8" fill="#fff" stroke="#f797c6" stroke-width="2.9"/>
<ellipse cx="1102.3" cy="1411.8" rx="6.3" ry="5.8" fill="#fff" stroke="#f797c6" stroke-width="2.9"/>
<ellipse cx="1101.4" cy="1422.7" rx="6.3" ry="5.8" fill="#fff" stroke="#f797c6" stroke-width="2.9"/>
<text transform="translate(976.0 1226.3)" font-size="32.3">1st</text>
<text transform="translate(976.0 1277.8)" font-size="32.3">2nd</text>
<text transform="translate(976.0 1375.0)" font-size="32.3">1st</text>
<text transform="translate(976.0 1424.0)" font-size="32.3">2nd</text>
<text transform="translate(937.9 1251.6)" font-size="33.8" text-anchor="end">Basal</text>
<text transform="translate(929.8 1409.8)" font-size="34.5" text-anchor="end">CFA</text>
<path d="M1410.8,1213 L1424.2,1213 L1424.2,1359.8 L1305,1359.8" fill="none" stroke="#000" stroke-width="2.6"/>
<path d="M1433.7,1266.8 L1447,1266.8 L1447,1420.3 L1305,1420.3" fill="none" stroke="#000" stroke-width="2.6"/>
<text x="1401.1" y="1302.6" font-size="36.4" font-weight="bold" style="font-family:'Liberation Sans', Arial, sans-serif" transform="rotate(90 1408.2 1284.3)">*</text>
<text x="1453.8" y="1366.5" font-size="36.4" font-weight="bold" style="font-family:'Liberation Sans', Arial, sans-serif" letter-spacing="3.35" transform="rotate(90 1469.6 1348.2)">**</text>
<text transform="translate(1209.6 1549.5) scale(1.120 1)" font-size="28.6" text-anchor="middle">Amplitude of AHP current (pA)</text>
<text x="69.0" y="1612.9" font-size="44.5" font-weight="bold">k</text>
<text transform="translate(219.7 1691.2)" font-size="23" text-anchor="middle">Basal</text>
<line x1="123.0" y1="1699.0" x2="296.9" y2="1699.0" stroke="#000" stroke-width="3"/>
<text transform="translate(390.8 1691.2)" font-size="23" text-anchor="middle" fill="#fe0000">CFA</text>
<line x1="307.4" y1="1699.0" x2="482.0" y2="1699.0" stroke="#fe0000" stroke-width="3"/>
<text transform="translate(531.5 1690.0)" font-size="28.5">kDa</text>
<text transform="translate(0.0 1763.2)" font-size="25.6">α-PKG-I</text>
<text transform="translate(3.5 1829.3)" font-size="25.5">β-actin</text>
<line x1="507.7" y1="1723.9" x2="519.2" y2="1723.9" stroke="#000" stroke-width="2.4"/>
<text transform="translate(532.2 1732.3)" font-size="22.5">100</text>
<line x1="507.7" y1="1782.5" x2="519.2" y2="1782.5" stroke="#000" stroke-width="2.4"/>
<text transform="translate(537.5 1790.6)" font-size="22.5">55</text>
<line x1="507.7" y1="1845.8" x2="519.2" y2="1845.8" stroke="#000" stroke-width="2.4"/>
<text transform="translate(535.5 1853.9)" font-size="22.5">40</text>
<clipPath id="clip106_1713"><rect x="106.5" y="1713.3" width="390.6" height="73.8"/></clipPath>
<g clip-path="url(#clip106_1713)">
<rect x="106.5" y="1713.3" width="390.6" height="73.8" fill="#e6e6e6"/>
<rect x="106.5" y="1713.3" width="390.6" height="73.8" filter="url(#noise)" opacity="0.06"/>
<rect x="114.8" y="1715.0" width="28.1" height="72.0" fill="#000" opacity="0.06" filter="url(#bl2)"/>
<rect x="115.8" y="1768.0" width="26.1" height="19.0" fill="#000" opacity="0.12" filter="url(#bl2)"/>
<rect x="148.7" y="1715.0" width="25.6" height="72.0" fill="#000" opacity="0.06" filter="url(#bl2)"/>
<rect x="149.7" y="1768.0" width="23.6" height="19.0" fill="#000" opacity="0.12" filter="url(#bl2)"/>
<rect x="180.0" y="1715.0" width="23.8" height="72.0" fill="#000" opacity="0.06" filter="url(#bl2)"/>
<rect x="181.0" y="1768.0" width="21.8" height="19.0" fill="#000" opacity="0.12" filter="url(#bl2)"/>
<rect x="210.2" y="1715.0" width="24.3" height="72.0" fill="#000" opacity="0.06" filter="url(#bl2)"/>
<rect x="211.2" y="1768.0" width="22.3" height="19.0" fill="#000" opacity="0.12" filter="url(#bl2)"/>
<rect x="239.6" y="1715.0" width="23.8" height="72.0" fill="#000" opacity="0.06" filter="url(#bl2)"/>
<rect x="240.6" y="1768.0" width="21.8" height="19.0" fill="#000" opacity="0.12" filter="url(#bl2)"/>
<rect x="268.5" y="1715.0" width="26.2" height="72.0" fill="#000" opacity="0.06" filter="url(#bl2)"/>
<rect x="269.5" y="1768.0" width="24.2" height="19.0" fill="#000" opacity="0.12" filter="url(#bl2)"/>
<rect x="301.0" y="1715.0" width="22.5" height="72.0" fill="#000" opacity="0.06" filter="url(#bl2)"/>
<rect x="302.0" y="1768.0" width="20.5" height="19.0" fill="#000" opacity="0.12" filter="url(#bl2)"/>
<rect x="327.3" y="1715.0" width="26.9" height="72.0" fill="#000" opacity="0.06" filter="url(#bl2)"/>
<rect x="328.3" y="1768.0" width="24.9" height="19.0" fill="#000" opacity="0.12" filter="url(#bl2)"/>
<rect x="358.1" y="1715.0" width="26.2" height="72.0" fill="#000" opacity="0.06" filter="url(#bl2)"/>
<rect x="359.1" y="1768.0" width="24.2" height="19.0" fill="#000" opacity="0.12" filter="url(#bl2)"/>
<rect x="387.6" y="1715.0" width="26.2" height="72.0" fill="#000" opacity="0.06" filter="url(#bl2)"/>
<rect x="388.6" y="1768.0" width="24.2" height="19.0" fill="#000" opacity="0.12" filter="url(#bl2)"/>
<rect x="418.9" y="1715.0" width="25.6" height="72.0" fill="#000" opacity="0.06" filter="url(#bl2)"/>
<rect x="419.9" y="1768.0" width="23.6" height="19.0" fill="#000" opacity="0.12" filter="url(#bl2)"/>
<rect x="449.7" y="1715.0" width="25.6" height="72.0" fill="#000" opacity="0.06" filter="url(#bl2)"/>
<rect x="450.7" y="1768.0" width="23.6" height="19.0" fill="#000" opacity="0.12" filter="url(#bl2)"/>
<rect x="116.8" y="1739.5" width="24.1" height="2.6" rx="1.3" fill="#000" fill-opacity="0.4" filter="url(#bs)"/>
<rect x="116.8" y="1750.5" width="24.1" height="3.0" rx="1.5" fill="#000" fill-opacity="0.18" filter="url(#bl2)"/>
<rect x="113.8" y="1759.0" width="30.1" height="9.6" rx="4.8" fill="#000" fill-opacity="1.0" filter="url(#bs)"/>
<rect x="150.7" y="1739.5" width="21.6" height="2.6" rx="1.3" fill="#000" fill-opacity="0.4" filter="url(#bs)"/>
<rect x="150.7" y="1750.5" width="21.6" height="3.0" rx="1.5" fill="#000" fill-opacity="0.18" filter="url(#bl2)"/>
<rect x="147.7" y="1759.0" width="27.6" height="9.6" rx="4.8" fill="#000" fill-opacity="1.0" filter="url(#bs)"/>
<rect x="182.0" y="1739.5" width="19.8" height="2.6" rx="1.3" fill="#000" fill-opacity="0.4" filter="url(#bs)"/>
<rect x="182.0" y="1750.5" width="19.8" height="3.0" rx="1.5" fill="#000" fill-opacity="0.18" filter="url(#bl2)"/>
<rect x="179.0" y="1758.8" width="25.8" height="10.0" rx="5.0" fill="#000" fill-opacity="1.0" filter="url(#bs)"/>
<rect x="212.2" y="1739.5" width="20.3" height="2.6" rx="1.3" fill="#000" fill-opacity="0.4" filter="url(#bs)"/>
<rect x="212.2" y="1750.5" width="20.3" height="3.0" rx="1.5" fill="#000" fill-opacity="0.18" filter="url(#bl2)"/>
<rect x="209.2" y="1759.0" width="26.3" height="9.4" rx="4.7" fill="#000" fill-opacity="1.0" filter="url(#bs)"/>
<rect x="241.6" y="1739.5" width="19.8" height="2.6" rx="1.3" fill="#000" fill-opacity="0.4" filter="url(#bs)"/>
<rect x="241.6" y="1750.5" width="19.8" height="3.0" rx="1.5" fill="#000" fill-opacity="0.18" filter="url(#bl2)"/>
<rect x="238.6" y="1758.8" width="25.8" height="9.8" rx="4.9" fill="#000" fill-opacity="1.0" filter="url(#bs)"/>
<rect x="270.5" y="1739.5" width="22.2" height="2.6" rx="1.3" fill="#000" fill-opacity="0.4" filter="url(#bs)"/>
<rect x="270.5" y="1750.5" width="22.2" height="3.0" rx="1.5" fill="#000" fill-opacity="0.18" filter="url(#bl2)"/>
<rect x="267.5" y="1757.5" width="28.2" height="11.5" rx="5.8" fill="#000" fill-opacity="1.0" filter="url(#bs)"/>
<rect x="303.0" y="1735.2" width="18.5" height="2.6" rx="1.3" fill="#000" fill-opacity="0.4" filter="url(#bs)"/>
<rect x="303.0" y="1744.5" width="18.5" height="3.0" rx="1.5" fill="#000" fill-opacity="0.18" filter="url(#bl2)"/>
<rect x="300.0" y="1756.4" width="24.5" height="10.0" rx="5.0" fill="#000" fill-opacity="1.0" filter="url(#bs)"/>
<rect x="329.3" y="1735.2" width="22.9" height="2.6" rx="1.3" fill="#000" fill-opacity="0.4" filter="url(#bs)"/>
<rect x="329.3" y="1744.5" width="22.9" height="3.0" rx="1.5" fill="#000" fill-opacity="0.18" filter="url(#bl2)"/>
<rect x="326.3" y="1753.3" width="28.9" height="13.8" rx="6.9" fill="#000" fill-opacity="1.0" filter="url(#bs)"/>
<rect x="360.1" y="1735.2" width="22.2" height="2.6" rx="1.3" fill="#000" fill-opacity="0.4" filter="url(#bs)"/>
<rect x="360.1" y="1744.5" width="22.2" height="3.0" rx="1.5" fill="#000" fill-opacity="0.18" filter="url(#bl2)"/>
<rect x="357.1" y="1753.3" width="28.2" height="13.8" rx="6.9" fill="#000" fill-opacity="1.0" filter="url(#bs)"/>
<rect x="389.6" y="1735.2" width="22.2" height="2.6" rx="1.3" fill="#000" fill-opacity="0.4" filter="url(#bs)"/>
<rect x="389.6" y="1744.5" width="22.2" height="3.0" rx="1.5" fill="#000" fill-opacity="0.18" filter="url(#bl2)"/>
<rect x="386.6" y="1754.0" width="28.2" height="9.5" rx="4.8" fill="#000" fill-opacity="1.0" filter="url(#bs)"/>
<rect x="420.9" y="1735.2" width="21.6" height="2.6" rx="1.3" fill="#000" fill-opacity="0.4" filter="url(#bs)"/>
<rect x="420.9" y="1744.5" width="21.6" height="3.0" rx="1.5" fill="#000" fill-opacity="0.18" filter="url(#bl2)"/>
<rect x="417.9" y="1754.0" width="27.6" height="8.5" rx="4.2" fill="#000" fill-opacity="1.0" filter="url(#bs)"/>
<rect x="451.7" y="1735.2" width="21.6" height="2.6" rx="1.3" fill="#000" fill-opacity="0.4" filter="url(#bs)"/>
<rect x="451.7" y="1744.5" width="21.6" height="3.0" rx="1.5" fill="#000" fill-opacity="0.18" filter="url(#bl2)"/>
<rect x="448.7" y="1754.0" width="27.6" height="8.5" rx="4.2" fill="#000" fill-opacity="1.0" filter="url(#bs)"/>
<rect x="103.0" y="1752.0" width="7.0" height="16.0" fill="#000"/>
<ellipse cx="490" cy="1779" rx="8" ry="3" fill="#000" opacity="0.2" filter="url(#bl2)"/>
</g>
<rect x="106.5" y="1713.3" width="390.6" height="73.8" fill="none" stroke="#000" stroke-width="2.2"/>
<clipPath id="clip105_1798"><rect x="105.4" y="1798.4" width="391" height="57.2"/></clipPath>
<g clip-path="url(#clip105_1798)">
<rect x="105.4" y="1798.4" width="391.0" height="57.2" fill="#ededed"/>
<rect x="105.4" y="1798.4" width="391" height="57.2" filter="url(#noise)" opacity="0.05"/>
<rect x="123.8" y="1822.3" width="27.6" height="6.3" rx="3.1" fill="#000" fill-opacity="1.0" filter="url(#bs)"/>
<rect x="127.8" y="1801.5" width="19.6" height="5.0" rx="2.5" fill="#000" fill-opacity="0.25" filter="url(#bl2)"/>
<rect x="154.0" y="1822.3" width="29.4" height="6.5" rx="3.2" fill="#000" fill-opacity="1.0" filter="url(#bs)"/>
<rect x="158.0" y="1801.5" width="21.4" height="5.0" rx="2.5" fill="#000" fill-opacity="0.25" filter="url(#bl2)"/>
<rect x="185.3" y="1822.0" width="27.6" height="6.3" rx="3.1" fill="#000" fill-opacity="1.0" filter="url(#bs)"/>
<rect x="189.3" y="1801.5" width="19.6" height="5.0" rx="2.5" fill="#000" fill-opacity="0.25" filter="url(#bl2)"/>
<rect x="216.0" y="1822.3" width="26.4" height="5.8" rx="2.9" fill="#000" fill-opacity="1.0" filter="url(#bs)"/>
<rect x="220.0" y="1801.5" width="18.4" height="5.0" rx="2.5" fill="#000" fill-opacity="0.25" filter="url(#bl2)"/>
<rect x="246.8" y="1822.3" width="23.2" height="5.5" rx="2.8" fill="#000" fill-opacity="1.0" filter="url(#bs)"/>
<rect x="250.8" y="1801.5" width="15.2" height="5.0" rx="2.5" fill="#000" fill-opacity="0.25" filter="url(#bl2)"/>
<rect x="275.7" y="1821.5" width="21.9" height="5.8" rx="2.9" fill="#000" fill-opacity="1.0" filter="url(#bs)"/>
<rect x="279.7" y="1801.5" width="13.9" height="5.0" rx="2.5" fill="#000" fill-opacity="0.45" filter="url(#bl2)"/>
<rect x="303.0" y="1819.8" width="27.0" height="5.0" rx="2.5" fill="#000" fill-opacity="1.0" filter="url(#bs)"/>
<rect x="307.0" y="1836.0" width="19.0" height="5.0" rx="2.5" fill="#000" fill-opacity="0.08" filter="url(#bl2)"/>
<rect x="333.9" y="1819.6" width="25.7" height="5.0" rx="2.5" fill="#000" fill-opacity="1.0" filter="url(#bs)"/>
<rect x="337.9" y="1836.0" width="17.7" height="5.0" rx="2.5" fill="#000" fill-opacity="0.08" filter="url(#bl2)"/>
<rect x="363.4" y="1819.3" width="25.6" height="5.0" rx="2.5" fill="#000" fill-opacity="1.0" filter="url(#bs)"/>
<rect x="367.4" y="1836.0" width="17.6" height="5.0" rx="2.5" fill="#000" fill-opacity="0.08" filter="url(#bl2)"/>
<rect x="393.5" y="1817.3" width="23.8" height="3.6" rx="1.8" fill="#000" fill-opacity="1.0" filter="url(#bs)"/>
<rect x="397.5" y="1836.0" width="15.8" height="5.0" rx="2.5" fill="#000" fill-opacity="0.08" filter="url(#bl2)"/>
<rect x="422.3" y="1815.6" width="25.1" height="4.0" rx="2.0" fill="#000" fill-opacity="1.0" filter="url(#bs)"/>
<rect x="426.3" y="1836.0" width="17.1" height="5.0" rx="2.5" fill="#000" fill-opacity="0.08" filter="url(#bl2)"/>
<rect x="450.6" y="1814.3" width="25.7" height="4.6" rx="2.3" fill="#000" fill-opacity="1.0" filter="url(#bs)"/>
<rect x="454.6" y="1836.0" width="17.7" height="5.0" rx="2.5" fill="#000" fill-opacity="0.08" filter="url(#bl2)"/>
</g>
<rect x="105.4" y="1798.4" width="391.0" height="57.2" fill="none" stroke="#000" stroke-width="2.2"/>
<line x1="129.3" y1="1860.9" x2="205.5" y2="1860.9" stroke="#000" stroke-width="3"/>
<line x1="223.8" y1="1860.9" x2="301.1" y2="1860.9" stroke="#000" stroke-width="3"/>
<line x1="317.2" y1="1860.9" x2="394.5" y2="1860.9" stroke="#000" stroke-width="3"/>
<line x1="411.0" y1="1860.9" x2="488.3" y2="1860.9" stroke="#000" stroke-width="3"/>
<text transform="translate(181.4 1882.0) rotate(-45)" font-size="22.8" text-anchor="end">NR1<tspan font-size="15" dy="-6.5">fl/fl</tspan></text>
<text transform="translate(266.7 1884.7) rotate(-45)" font-size="22.8" text-anchor="end">SNS-NR1<tspan font-size="15" dy="-6.5">-/-</tspan></text>
<text transform="translate(367.0 1882.0) rotate(-45)" font-size="22.8" text-anchor="end">NR1<tspan font-size="15" dy="-6.5">fl/fl</tspan></text>
<text transform="translate(460.4 1884.7) rotate(-45)" font-size="22.8" text-anchor="end">SNS-NR1<tspan font-size="15" dy="-6.5">-/-</tspan></text>
<text x="556.0" y="1613.1" font-size="44.5" font-weight="bold">m</text>
<text transform="translate(786.4 1602.8)" font-size="23.3">PKG-I<tspan font-size="15.5" dy="-6.7">fl/fl</tspan></text>
<text transform="translate(680.6 1648.7)" font-size="23" text-anchor="middle">Basal</text>
<text transform="translate(827.0 1648.7)" font-size="23" text-anchor="middle">NMDA</text>
<text transform="translate(977.4 1648.7)" font-size="23" text-anchor="middle">Washout</text>
<text transform="translate(685.5 1824.3)" font-size="23" text-anchor="middle">cGMP</text>
<text transform="translate(833.0 1802.2)" font-size="23" text-anchor="middle">cGMP</text>
<text transform="translate(833.3 1829.5)" font-size="23" text-anchor="middle">+NMDA</text>
<text transform="translate(986.2 1823.6)" font-size="23" text-anchor="middle">Washout</text>
<polyline points="632.3,1680.0 632.3,1680.5 632.3,1680.8 632.3,1682.0 632.4,1682.6 632.4,1683.8 632.4,1684.3 632.4,1684.3 632.4,1683.4 632.4,1684.9 632.4,1685.0 632.4,1686.6 632.5,1685.9 632.5,1686.1 632.5,1685.8 632.5,1687.4 632.5,1688.1 632.5,1688.0 632.5,1688.0 632.5,1689.5 632.6,1688.9 632.6,1689.6 632.6,1690.9 632.6,1691.1 632.6,1692.0 632.6,1692.6 632.6,1692.7 632.7,1692.5 632.7,1692.7 632.7,1694.7 632.7,1696.2 632.7,1694.9 632.7,1695.6 632.7,1696.0 632.7,1697.6 632.8,1697.5 632.8,1698.8 632.8,1697.2 632.8,1698.0 633.1,1697.7 633.5,1697.7 633.6,1697.2 633.6,1696.7 633.7,1697.7 633.7,1695.8 633.8,1695.7 633.8,1696.2 633.9,1694.8 633.9,1694.2 634.0,1694.3 634.0,1692.5 634.1,1691.2 634.1,1693.1 634.2,1691.5 634.2,1691.1 634.3,1689.2 634.3,1690.5 634.4,1689.0 634.4,1689.2 634.5,1687.8 634.5,1688.9 634.6,1687.0 634.6,1686.2 634.7,1687.3 634.7,1685.1 634.8,1684.7 634.8,1684.7 634.9,1685.5 634.9,1682.7 635.0,1682.5 635.0,1683.5 635.1,1681.1 635.1,1681.5 635.2,1681.9 635.3,1681.3 635.4,1681.0 635.5,1678.7 635.6,1680.2 635.7,1678.3 635.8,1679.0 635.9,1677.7 636.0,1678.3 636.1,1676.7 636.2,1675.6 636.3,1674.8 636.5,1675.2 636.6,1673.6 636.7,1673.4 636.8,1674.7 636.9,1673.5 637.0,1673.7 637.1,1671.4 637.2,1671.7 637.3,1671.2 637.4,1669.8 637.5,1669.7 637.6,1670.9 637.7,1669.9 637.9,1669.8 638.2,1670.5 638.4,1671.6 638.6,1672.4 638.9,1671.9 639.1,1671.0 639.3,1673.6 639.5,1672.2 639.8,1672.9 640.0,1673.1 640.3,1674.5 640.6,1675.1 640.9,1675.2 641.1,1675.6 641.4,1675.2 641.7,1677.1 642.0,1677.1 642.4,1676.8 642.8,1678.5 643.2,1679.0 643.6,1679.3 644.0,1679.8 644.5,1677.6 645.1,1678.7 645.7,1679.1 646.2,1678.9 646.8,1680.3 647.4,1680.8 647.9,1678.9 648.5,1680.0 649.0,1681.4 649.5,1681.4 649.9,1680.5 650.4,1679.8 650.5,1681.2 650.5,1681.9 650.6,1683.1 650.7,1682.0 650.7,1682.7 650.8,1685.1 650.9,1683.1 650.9,1685.1 651.0,1684.3 651.1,1686.5 651.1,1686.1 651.2,1688.0 651.2,1686.6 651.3,1688.8 651.4,1687.6 651.4,1687.7 651.5,1688.3 651.6,1688.8 651.6,1690.1 651.7,1692.1 651.8,1691.0 651.8,1692.4 651.9,1691.2 652.0,1692.9 652.0,1693.5 652.1,1692.9 652.1,1694.6 652.1,1694.8 652.1,1695.0 652.2,1696.8 652.2,1696.9 652.2,1695.9 652.2,1696.4 652.2,1696.8 652.2,1697.8 652.2,1699.3 652.3,1700.6 652.3,1701.1 652.3,1701.4 652.3,1700.0 652.3,1702.2 652.3,1702.6 652.3,1702.4 652.4,1704.2 652.4,1703.7 652.4,1703.0 652.4,1703.7 652.4,1704.0 652.4,1705.7 652.4,1706.3 652.5,1707.4 652.5,1705.7 652.5,1706.2 652.5,1709.2 652.5,1707.9 652.5,1708.4 652.5,1710.4 652.6,1709.0 652.6,1711.2 652.6,1712.0 652.6,1711.7 652.6,1712.3 652.6,1711.2 652.6,1713.3 652.7,1713.8 652.7,1714.7 652.7,1714.5 652.7,1714.0 652.7,1714.8 652.7,1716.4 652.7,1715.4 652.8,1716.0 652.8,1716.9 652.8,1718.8 652.8,1718.6 652.8,1718.7 652.8,1720.7 652.8,1720.2 652.9,1719.9 652.9,1721.2 652.9,1722.5 652.9,1721.7 652.9,1722.4 652.9,1723.2 653.0,1724.8 653.0,1724.4 653.0,1723.7 653.0,1725.3 653.0,1725.1 653.0,1726.0 653.0,1727.1 653.1,1725.8 653.1,1727.6 653.1,1727.6 653.1,1728.8 653.1,1729.9 653.1,1729.5 653.1,1730.4 653.2,1730.0 653.2,1730.5 653.2,1731.6 653.2,1732.2 653.2,1731.9 653.2,1733.8 653.2,1733.6 653.3,1733.7 653.3,1734.0 653.3,1736.0 653.3,1736.7 653.3,1737.3 653.3,1736.0 653.3,1736.0 653.4,1738.0 653.4,1736.9 653.4,1739.6 653.4,1739.6 653.4,1739.2 653.4,1740.0 653.4,1741.1 653.5,1740.3 653.5,1741.3 653.5,1742.9 653.5,1743.1 653.5,1743.4 653.5,1742.6 653.5,1743.4 653.6,1744.0 653.6,1743.9 653.6,1746.0 653.6,1746.4 653.6,1747.8 653.6,1747.3 653.6,1748.8 653.7,1748.1 653.7,1748.7 653.7,1748.6 653.7,1749.6 653.7,1751.3 653.7,1750.7 653.7,1749.9 653.8,1751.3 653.8,1751.4 653.8,1753.0 653.8,1753.2 653.8,1753.6 653.9,1755.3 653.9,1755.4 653.9,1754.2 653.9,1754.5 654.0,1756.8 654.0,1757.0 654.0,1757.6 654.0,1757.8 654.1,1757.1 654.1,1758.6 654.1,1760.1 654.1,1760.0 654.2,1759.1 654.2,1759.8 654.2,1762.3 654.2,1761.9 654.3,1761.4 654.3,1763.4 654.3,1764.4 654.3,1764.8 654.4,1764.7 654.4,1765.6 654.4,1764.3 654.4,1765.8 654.5,1767.2 654.5,1766.4 654.5,1766.4 654.5,1768.8 654.6,1768.9 654.6,1767.6 654.6,1768.3 654.6,1770.0 654.7,1771.6 654.7,1771.2 654.7,1772.4 654.7,1770.9 654.8,1772.6 654.8,1772.1 654.8,1773.0 654.8,1773.0 654.9,1774.4 654.9,1773.8 654.9,1775.9 654.9,1776.3 655.0,1777.5 655.0,1777.7 655.0,1776.4 655.0,1779.0 655.1,1778.6 655.1,1780.1 655.1,1779.5 655.1,1778.9 655.2,1781.1 655.2,1780.2 655.2,1782.8 655.2,1782.1 655.3,1783.6 655.3,1783.0 655.3,1783.1 655.3,1784.5 655.4,1785.1 655.4,1785.0 655.4,1785.0 655.4,1785.9 655.5,1787.2 655.5,1786.4 656.4,1794.7 656.8,1792.8 657.2,1792.7 657.6,1791.0 658.0,1785.6 658.4,1784.7 658.8,1786.0 659.2,1781.3 659.6,1781.8 660.0,1778.2 660.4,1775.7 660.8,1775.8 661.2,1775.8 661.6,1773.9 662.0,1769.3 662.4,1770.6 662.8,1768.8 663.2,1766.8 663.6,1766.2 664.0,1764.2 664.4,1761.4 664.8,1762.2 665.2,1758.5 665.6,1758.0 666.0,1759.0 666.4,1756.6 666.8,1755.1 667.2,1754.7 667.6,1752.6 668.0,1751.0 668.4,1750.6 668.8,1747.2 669.2,1747.5 669.6,1745.1 670.0,1748.0 670.4,1746.6 670.8,1744.5 671.2,1741.4 671.6,1743.3 672.0,1739.9 672.4,1741.1 672.8,1739.5 673.2,1738.4 673.6,1738.1 674.0,1735.2 674.4,1736.6 674.8,1734.5 675.2,1734.6 675.6,1734.1 676.0,1730.8 676.4,1730.6 676.8,1729.6 677.2,1727.6 677.6,1730.2 678.0,1728.6 678.4,1727.0 678.8,1726.5 679.2,1727.2 679.6,1723.1 680.0,1723.6 680.4,1724.2 680.8,1722.9 681.2,1722.1 681.6,1720.4 682.0,1719.6 682.4,1720.9 682.8,1718.8 683.2,1720.7 683.6,1720.0 684.0,1719.7 684.4,1716.2 684.8,1716.6 685.2,1714.3 685.6,1714.8 686.0,1713.0 686.4,1714.3 686.8,1715.7 687.2,1714.3 687.6,1712.1 688.0,1711.3 688.4,1713.5 688.8,1709.3 689.2,1712.2 689.6,1711.8 690.0,1708.0 690.4,1711.2 690.8,1709.5 691.2,1708.0 691.6,1707.7 692.0,1708.0 692.4,1707.3 692.8,1708.3 693.2,1708.0 693.6,1705.2 694.0,1703.5 694.4,1706.3 694.8,1705.4 695.2,1705.0 695.6,1702.2 696.0,1701.9 696.4,1705.0 696.8,1702.4 697.2,1702.5 697.6,1704.2 698.0,1700.6 698.4,1702.2 698.8,1699.4 699.2,1701.2 699.6,1701.6 700.0,1698.9 700.4,1701.1 700.8,1701.7 701.2,1700.8 701.6,1700.4 702.0,1700.7 702.4,1699.5 702.8,1698.5 703.2,1699.4 703.6,1699.1 704.0,1698.1 704.4,1698.0 704.8,1695.6 705.2,1696.1 705.6,1695.8 706.0,1697.8 706.4,1697.2 706.8,1694.9 707.2,1697.6 707.6,1693.5 708.0,1693.3 708.4,1694.2 708.8,1692.9 709.2,1696.4 709.6,1693.7 710.0,1693.6 710.4,1695.4 710.8,1693.8 711.2,1694.0 711.6,1693.0 712.0,1692.9 712.4,1694.8 712.8,1691.8 713.2,1692.7 713.6,1692.3 714.0,1690.7 714.4,1690.6 714.8,1691.9 715.2,1693.0 715.6,1691.3 716.0,1689.6 716.4,1693.1 716.8,1689.6 717.2,1692.6 717.6,1688.9 718.0,1691.3 718.4,1689.0 718.8,1689.4 719.2,1689.9 719.6,1691.2 720.0,1689.7 720.4,1689.5 720.8,1689.3 721.2,1689.7 721.6,1688.5 722.0,1691.2 722.4,1687.9 722.8,1687.5 723.2,1689.2 723.6,1688.2 724.0,1689.7 724.4,1686.7 724.8,1689.3 725.2,1687.8 725.6,1690.1 726.0,1687.4 726.4,1687.8 726.8,1687.2 727.2,1688.0 727.6,1686.9 728.0,1688.4 728.4,1687.2 728.8,1688.4 729.2,1686.6 729.6,1687.2 730.0,1687.5 730.4,1688.1 730.8,1687.7 731.2,1686.7 731.6,1685.2 732.0,1685.2 732.4,1685.3 732.8,1685.3 733.2,1685.3 733.6,1687.2 734.0,1685.8 734.4,1688.1 734.8,1685.2 735.2,1685.2 735.6,1684.8 736.0,1684.6 736.4,1686.8 736.8,1686.3 737.2,1684.8 737.6,1687.1 738.0,1686.5 738.4,1685.4 738.8,1686.1 739.2,1686.2 739.6,1685.3 740.0,1683.7 740.4,1684.8 740.8,1687.2 741.2,1684.8 741.6,1685.8 742.0,1683.5 742.4,1686.3 742.8,1686.6 743.2,1684.5 743.6,1684.4 744.0,1685.0 744.4,1683.8 744.8,1683.6 745.2,1683.2 745.6,1685.5 746.0,1684.7 746.4,1686.6 746.8,1686.5 747.2,1686.1 747.6,1686.4 748.0,1685.9 748.4,1682.4 748.8,1682.8 749.2,1686.4 749.6,1685.9 750.0,1684.8 750.4,1684.7 750.8,1683.9 751.2,1683.9 751.6,1682.6 752.0,1684.3 752.4,1683.1 752.8,1682.4 753.2,1685.6 753.6,1684.3 754.0,1685.5 754.4,1683.0 754.8,1684.2" fill="none" stroke="#9d9da1" stroke-width="1.4" stroke-linejoin="round"/>
<line x1="632.3" y1="1662.1" x2="632.3" y2="1699.0" stroke="#a8a8a8" stroke-width="1.2"/>
<line x1="630.9" y1="1796.5" x2="702.5" y2="1796.5" stroke="#45a0b2" stroke-width="2.5" stroke-dasharray="7 2.7"/>
<polyline points="782.2,1697.0 782.3,1695.9 782.4,1696.8 782.4,1694.7 782.5,1695.3 782.6,1694.6 782.7,1693.4 782.7,1692.3 782.8,1692.8 782.9,1692.4 783.0,1692.7 783.1,1690.5 783.1,1690.0 783.2,1689.8 783.3,1690.6 783.4,1688.6 783.4,1689.1 783.5,1687.0 783.6,1686.6 783.7,1687.7 783.8,1686.7 783.9,1685.1 784.0,1685.6 784.1,1686.3 784.2,1684.3 784.4,1684.2 784.5,1683.4 784.6,1683.1 784.7,1681.4 784.8,1683.0 784.9,1681.7 785.0,1680.6 785.3,1680.0 785.5,1679.3 785.8,1680.7 786.0,1680.0 786.3,1678.4 786.5,1678.5 786.8,1677.9 787.0,1676.5 787.3,1675.6 787.8,1677.1 788.2,1675.3 788.6,1676.1 789.1,1674.3 789.5,1674.1 790.0,1674.1 790.5,1675.3 791.0,1675.0 791.5,1675.9 792.1,1674.9 792.6,1674.4 793.1,1673.0 793.6,1675.3 794.1,1673.9 794.6,1674.7 795.1,1672.4 795.5,1674.3 796.0,1673.3 796.5,1672.4 797.0,1672.8 797.5,1671.7 798.0,1672.9 798.6,1671.7 799.1,1672.8 799.3,1671.9 799.5,1673.8 799.7,1674.1 799.9,1674.8 800.1,1675.9 800.3,1674.7 800.6,1676.2 800.8,1675.9 801.0,1677.7 801.2,1678.0 801.4,1678.3 801.6,1678.4 801.8,1678.0 801.9,1680.2 801.9,1680.8 802.0,1681.3 802.0,1680.2 802.1,1682.0 802.1,1682.1 802.2,1683.1 802.2,1683.5 802.3,1683.1 802.3,1683.4 802.4,1685.0 802.4,1685.1 802.5,1685.4 802.5,1686.7 802.6,1685.1 802.6,1685.5 802.7,1687.2 802.7,1686.8 802.8,1689.2 802.8,1687.8 802.9,1690.3 802.9,1689.1 803.0,1689.4 803.0,1691.5 803.1,1691.9 803.1,1691.7 803.1,1692.7 803.1,1693.0 803.2,1694.6 803.2,1693.9 803.2,1694.5 803.2,1694.8 803.2,1695.2 803.2,1696.4 803.2,1695.4 803.2,1697.4 803.3,1698.5 803.3,1698.6 803.3,1698.5 803.3,1698.6 803.3,1698.4 803.3,1698.9 803.3,1700.5 803.3,1701.9 803.4,1702.4 803.4,1701.1 803.4,1703.1 803.4,1703.7 803.4,1703.4 803.4,1704.9 803.4,1703.6 803.4,1704.5 803.5,1705.5 803.5,1706.6 803.5,1706.3 803.5,1706.5 803.5,1708.4 803.5,1707.7 803.5,1708.3 803.5,1708.3 803.6,1709.4 803.6,1710.5 803.6,1710.1 803.6,1711.4 803.6,1711.5 803.6,1710.7 803.6,1713.7 803.6,1712.4 803.7,1713.6 803.7,1715.2 803.7,1713.7 803.7,1713.9 803.8,1714.7 803.8,1715.1 803.9,1717.4 804.0,1717.1 804.1,1716.4 804.1,1717.5 804.2,1718.6 804.3,1718.2 804.3,1719.1 804.4,1721.2 804.5,1720.5 804.6,1720.5 804.6,1721.9 804.7,1721.2 804.8,1722.7 804.9,1723.6 804.9,1722.6 805.0,1724.3 805.1,1724.2 805.1,1725.9 805.2,1726.1 805.3,1727.3 805.4,1727.1 805.4,1726.5 805.5,1727.0 807.3,1742.3 807.7,1742.9 808.1,1742.6 808.5,1738.3 808.9,1738.4 809.3,1736.9 809.7,1736.9 810.1,1737.7 810.5,1735.6 810.9,1735.6 811.3,1734.8 811.7,1732.0 812.1,1732.7 812.5,1730.9 812.9,1730.5 813.3,1730.0 813.7,1729.9 814.1,1727.0 814.5,1729.1 814.9,1725.6 815.3,1725.5 815.7,1727.1 816.1,1727.0 816.5,1723.7 816.9,1725.5 817.3,1721.1 817.7,1724.3 818.1,1720.5 818.5,1719.2 818.9,1721.6 819.3,1718.5 819.7,1720.4 820.1,1716.7 820.5,1716.6 820.9,1717.0 821.3,1715.3 821.7,1716.4 822.1,1715.3 822.5,1716.4 822.9,1714.9 823.3,1716.3 823.7,1715.3 824.1,1712.0 824.5,1714.6 824.9,1714.0 825.3,1712.2 825.7,1711.5 826.1,1709.6 826.5,1709.7 826.9,1708.9 827.3,1708.3 827.7,1709.6 828.1,1708.0 828.5,1709.4 828.9,1708.2 829.3,1708.8 829.7,1705.3 830.1,1708.1 830.5,1706.3 830.9,1706.4 831.3,1704.3 831.7,1705.9 832.1,1704.3 832.5,1705.2 832.9,1704.3 833.3,1702.1 833.7,1702.4 834.1,1703.9 834.5,1700.5 834.9,1702.8 835.3,1702.1 835.7,1702.4 836.1,1700.5 836.5,1700.8 836.9,1700.5 837.3,1701.3 837.7,1698.2 838.1,1699.7 838.5,1698.3 838.9,1699.4 839.3,1697.8 839.7,1697.3 840.1,1697.1 840.5,1699.6 840.9,1697.1 841.3,1699.0 841.7,1698.1 842.1,1695.9 842.5,1696.8 842.9,1694.3 843.3,1697.9 843.7,1696.4 844.1,1694.0 844.5,1695.4 844.9,1695.1 845.3,1695.6 845.7,1693.8 846.1,1696.2 846.5,1694.7 846.9,1692.2 847.3,1695.1 847.7,1695.2 848.1,1692.5 848.5,1694.0 848.9,1694.5 849.3,1694.3 849.7,1690.7 850.1,1693.8 850.5,1691.1 850.9,1693.2 851.3,1692.6 851.7,1691.5 852.1,1693.1 852.5,1692.5 852.9,1693.1 853.3,1692.8 853.7,1691.0 854.1,1691.5 854.5,1691.1 854.9,1689.8 855.3,1690.0 855.7,1689.9 856.1,1688.5 856.5,1688.6 856.9,1690.9 857.3,1690.7 857.7,1690.0 858.1,1689.8 858.5,1688.9 858.9,1689.0 859.3,1689.3 859.7,1686.3 860.1,1688.0 860.5,1690.1 860.9,1686.8 861.3,1687.7 861.7,1686.0 862.1,1686.6 862.5,1688.9 862.9,1685.4 863.3,1688.5 863.7,1688.4 864.1,1688.6 864.5,1685.9 864.9,1688.6 865.3,1686.1 865.7,1686.4 866.1,1688.4 866.5,1686.5 866.9,1687.0 867.3,1684.5 867.7,1684.0 868.1,1684.9 868.5,1684.2 868.9,1687.1 869.3,1684.6 869.7,1687.5 870.1,1686.2 870.5,1684.1 870.9,1686.2 871.3,1684.4 871.7,1685.2 872.1,1683.2 872.5,1686.3 872.9,1686.0 873.3,1685.1 873.7,1685.5 874.1,1683.9 874.5,1682.9 874.9,1683.7 875.3,1685.3 875.7,1684.5 876.1,1682.7 876.5,1683.0 876.9,1683.9 877.3,1681.9 877.7,1682.0 878.1,1683.6 878.5,1682.2 878.9,1685.3 879.3,1682.1 879.7,1684.6 880.1,1684.7 880.5,1682.6 880.9,1683.5 881.3,1685.4 881.7,1683.7 882.1,1682.7 882.5,1685.1 882.9,1682.0 883.3,1684.9 883.7,1682.1 884.1,1682.5 884.5,1682.0 884.9,1683.4 885.3,1684.3 885.7,1683.5 886.1,1681.3 886.5,1684.6 886.9,1683.4 887.3,1682.5 887.7,1683.9 888.1,1680.7 888.5,1682.7 888.9,1683.5 889.3,1683.4 889.7,1682.9 890.1,1680.3 890.5,1682.0 890.9,1681.1 891.3,1682.4 891.7,1681.5 892.1,1681.7 892.5,1682.0 892.9,1682.2 893.3,1683.4 893.7,1680.8 894.1,1680.7 894.5,1680.3 894.9,1680.0 895.3,1683.0 895.7,1683.3 896.1,1679.9 896.5,1680.9 896.9,1683.1 897.3,1682.9 897.7,1683.4 898.1,1683.4 898.5,1680.5 898.9,1679.4 899.3,1680.2 899.7,1681.2 900.1,1679.1 900.5,1680.1 900.9,1681.0 901.3,1681.8 901.7,1679.6 902.1,1679.4 902.5,1680.3 902.9,1679.2 903.3,1679.3 903.7,1679.2 904.1,1682.1 904.5,1682.4 904.9,1678.9" fill="none" stroke="#579ff9" stroke-width="1.4" stroke-linejoin="round"/>
<line x1="782.2" y1="1664.1" x2="782.2" y2="1698.7" stroke="#579ff9" stroke-width="1.1"/>
<line x1="774.5" y1="1747.2" x2="846.4" y2="1747.2" stroke="#45a0b2" stroke-width="2.5" stroke-dasharray="7 2.7"/>
<polyline points="930.6,1698.0 930.6,1698.3 930.7,1697.9 930.7,1696.9 930.7,1695.4 930.8,1696.3 930.8,1693.9 930.8,1693.3 930.8,1695.1 930.9,1692.7 930.9,1694.0 930.9,1693.1 931.0,1690.7 931.0,1690.3 931.1,1691.3 931.1,1689.4 931.2,1690.2 931.3,1689.7 931.4,1688.1 931.4,1688.2 931.5,1687.0 931.6,1688.1 931.6,1687.0 931.7,1686.6 931.8,1685.9 931.9,1683.9 931.9,1685.5 932.0,1684.7 932.2,1683.5 932.3,1683.3 932.5,1682.5 932.6,1682.7 932.8,1681.6 932.9,1680.5 933.1,1680.6 933.2,1679.3 933.4,1678.3 933.5,1679.1 933.7,1679.6 934.1,1678.8 934.5,1677.2 934.9,1677.6 935.4,1677.5 935.8,1677.2 936.2,1676.5 936.6,1676.3 937.0,1676.5 937.5,1676.9 938.0,1675.8 938.5,1676.4 939.0,1676.0 939.5,1674.4 940.0,1674.6 940.5,1674.6 941.0,1674.6 941.5,1675.1 942.0,1674.7 942.5,1676.7 943.0,1676.1 943.5,1675.3 944.0,1676.3 944.5,1677.0 945.0,1675.1 945.5,1676.3 946.1,1677.2 946.6,1675.6 947.2,1676.9 947.8,1676.7 948.3,1675.4 948.5,1675.5 948.7,1677.7 948.9,1677.2 949.1,1677.6 949.3,1678.4 949.5,1679.6 949.7,1680.5 949.9,1681.1 950.1,1681.2 950.1,1680.2 950.2,1681.2 950.2,1680.7 950.2,1681.7 950.3,1682.6 950.3,1682.7 950.3,1684.0 950.3,1683.6 950.4,1685.4 950.4,1685.3 950.4,1685.4 950.5,1687.0 950.5,1686.6 950.5,1686.3 950.6,1688.9 950.6,1689.2 950.6,1690.0 950.7,1689.0 950.7,1689.4 950.7,1691.0 950.8,1690.1 950.8,1692.8 950.8,1692.4 950.8,1692.7 950.9,1691.9 950.9,1693.0 950.9,1693.8 951.0,1695.8 951.0,1694.1 951.0,1695.8 951.1,1695.0 951.1,1697.8 951.1,1697.7 951.2,1698.4 951.2,1698.7 951.2,1697.7 951.2,1698.4 951.3,1698.4 951.3,1700.2 951.3,1699.5 951.4,1700.3 951.4,1700.7 951.4,1703.2 951.5,1703.3 951.5,1702.5 951.5,1704.8 951.6,1703.2 951.6,1703.6 951.6,1704.8 951.7,1706.4 951.7,1705.0 951.7,1707.3 951.7,1707.2 951.8,1708.4 951.8,1707.7 951.8,1707.4 951.9,1708.1 951.9,1710.2 951.9,1710.1 951.9,1711.3 952.0,1710.3 952.0,1711.0 952.0,1711.3 952.0,1713.5 952.1,1713.6 952.1,1712.7 952.1,1714.7 952.1,1713.4 952.1,1715.0 952.2,1715.0 952.2,1716.8 952.2,1717.2 952.2,1717.6 952.3,1716.8 952.3,1716.9 952.3,1719.0 952.3,1719.6 952.4,1718.3 952.4,1721.0 952.4,1721.6 952.4,1720.7 952.4,1721.6 952.5,1722.5 952.5,1723.7 952.5,1723.5 952.5,1723.6 952.6,1724.8 952.6,1724.6 952.6,1723.9 952.6,1725.7 952.6,1725.9 952.7,1726.2 952.7,1726.8 952.7,1726.9 952.7,1727.6 952.8,1729.2 952.8,1730.1 952.8,1729.5 952.8,1731.0 952.8,1729.6 952.9,1731.1 952.9,1732.2 952.9,1732.8 952.9,1732.3 953.0,1732.2 953.0,1734.8 953.0,1734.4 953.0,1735.0 953.0,1734.7 953.1,1734.6 953.1,1736.3 953.1,1736.4 953.1,1738.1 953.2,1738.0 953.2,1738.8 953.2,1738.8 953.2,1739.8 953.2,1738.6 953.3,1741.4 953.3,1740.8 953.3,1741.4 953.3,1740.8 953.4,1741.0 953.4,1743.1 953.4,1743.7 953.4,1744.0 953.5,1743.5 953.5,1744.6 953.5,1745.8 953.5,1746.0 953.5,1747.2 953.6,1745.5 953.6,1747.8 953.6,1746.3 953.6,1748.4 953.7,1748.7 953.7,1748.0 953.7,1749.4 955.2,1761.4 955.6,1761.8 956.0,1761.7 956.4,1756.8 956.8,1756.8 957.2,1756.8 957.6,1752.9 958.0,1755.1 958.4,1754.2 958.8,1750.6 959.2,1749.0 959.6,1747.7 960.0,1747.1 960.4,1746.9 960.8,1747.1 961.2,1747.1 961.6,1744.6 962.0,1745.3 962.4,1742.2 962.8,1742.3 963.2,1738.7 963.6,1739.5 964.0,1737.0 964.4,1736.6 964.8,1738.7 965.2,1734.9 965.6,1734.9 966.0,1735.1 966.4,1734.3 966.8,1731.4 967.2,1731.0 967.6,1732.7 968.0,1730.8 968.4,1728.8 968.8,1729.7 969.2,1728.5 969.6,1730.5 970.0,1725.8 970.4,1725.7 970.8,1724.6 971.2,1726.0 971.6,1727.1 972.0,1725.7 972.4,1722.3 972.8,1723.5 973.2,1722.1 973.6,1724.1 974.0,1722.4 974.4,1721.4 974.8,1719.4 975.2,1719.6 975.6,1719.5 976.0,1718.3 976.4,1718.6 976.8,1716.1 977.2,1716.9 977.6,1718.8 978.0,1715.9 978.4,1715.8 978.8,1716.4 979.2,1716.2 979.6,1715.4 980.0,1713.5 980.4,1714.4 980.8,1711.8 981.2,1713.1 981.6,1710.2 982.0,1710.5 982.4,1710.0 982.8,1710.4 983.2,1711.6 983.6,1708.2 984.0,1711.4 984.4,1707.7 984.8,1711.0 985.2,1710.6 985.6,1708.8 986.0,1709.4 986.4,1709.5 986.8,1707.1 987.2,1708.5 987.6,1704.7 988.0,1707.5 988.4,1706.6 988.8,1706.8 989.2,1703.9 989.6,1703.3 990.0,1704.8 990.4,1704.9 990.8,1704.9 991.2,1702.5 991.6,1703.9 992.0,1705.3 992.4,1702.0 992.8,1704.1 993.2,1704.4 993.6,1703.0 994.0,1701.7 994.4,1701.4 994.8,1701.3 995.2,1699.6 995.6,1699.2 996.0,1699.8 996.4,1699.1 996.8,1702.0 997.2,1699.5 997.6,1701.4 998.0,1699.9 998.4,1701.1 998.8,1700.8 999.2,1699.9 999.6,1698.5 1000.0,1697.5 1000.4,1698.6 1000.8,1697.4 1001.2,1699.4 1001.6,1695.9 1002.0,1698.2 1002.4,1696.7 1002.8,1696.9 1003.2,1697.2 1003.6,1698.9 1004.0,1698.8 1004.4,1695.9 1004.8,1698.3 1005.2,1698.1 1005.6,1696.2 1006.0,1696.2 1006.4,1694.5 1006.8,1696.8 1007.2,1695.4 1007.6,1696.4 1008.0,1696.9 1008.4,1695.5 1008.8,1695.7 1009.2,1694.9 1009.6,1693.0 1010.0,1694.2 1010.4,1692.5 1010.8,1692.8 1011.2,1696.0 1011.6,1693.4 1012.0,1692.2 1012.4,1693.4 1012.8,1691.7 1013.2,1693.9 1013.6,1692.2 1014.0,1692.0 1014.4,1693.6 1014.8,1694.7 1015.2,1690.8 1015.6,1693.6 1016.0,1693.0 1016.4,1692.5 1016.8,1692.1 1017.2,1690.3 1017.6,1691.6 1018.0,1692.2 1018.4,1691.3 1018.8,1694.0 1019.2,1691.2 1019.6,1693.2 1020.0,1692.9 1020.4,1692.8 1020.8,1691.4 1021.2,1691.4 1021.6,1692.7 1022.0,1689.6 1022.4,1690.0 1022.8,1689.0 1023.2,1690.9 1023.6,1690.7 1024.0,1692.7 1024.4,1692.5 1024.8,1690.3 1025.2,1690.6 1025.6,1688.9 1026.0,1691.5 1026.4,1690.5 1026.8,1688.9 1027.2,1691.8 1027.6,1688.2 1028.0,1688.8 1028.4,1689.9 1028.8,1692.1 1029.2,1688.4 1029.6,1688.9 1030.0,1691.0 1030.4,1689.0 1030.8,1691.5 1031.2,1687.6 1031.6,1688.4 1032.0,1688.7 1032.4,1690.9 1032.8,1687.7 1033.2,1690.1 1033.6,1690.9 1034.0,1691.2 1034.4,1690.5 1034.8,1687.2 1035.2,1689.0 1035.6,1687.8 1036.0,1687.4 1036.4,1687.9 1036.8,1689.9 1037.2,1689.2 1037.6,1687.2 1038.0,1687.8 1038.4,1686.9 1038.8,1690.5 1039.2,1689.7 1039.6,1688.5 1040.0,1690.5 1040.4,1690.5 1040.8,1687.2 1041.2,1687.4 1041.6,1687.1 1042.0,1688.9 1042.4,1688.7 1042.8,1688.3 1043.2,1689.4 1043.6,1688.3 1044.0,1687.4 1044.4,1688.8 1044.8,1690.0 1045.2,1686.2 1045.6,1688.0 1046.0,1686.5 1046.4,1689.0 1046.8,1687.6 1047.2,1689.3 1047.6,1688.6 1048.0,1689.8 1048.4,1688.1 1048.8,1688.2 1049.2,1689.7 1049.6,1689.0 1050.0,1687.0 1050.4,1686.0 1050.8,1689.4 1051.2,1685.8 1051.6,1689.4 1052.0,1689.4" fill="none" stroke="#f9a043" stroke-width="1.4" stroke-linejoin="round"/>
<line x1="930.6" y1="1666.8" x2="930.6" y2="1699.6" stroke="#f9a043" stroke-width="1.1"/>
<line x1="926.8" y1="1765.4" x2="998.9" y2="1765.4" stroke="#45a0b2" stroke-width="2.5" stroke-dasharray="7 2.7"/>
<polyline points="636.7,1852.0 637.2,1852.2 637.8,1852.7 638.4,1852.0 638.9,1852.2 639.5,1851.8 640.0,1850.9 640.5,1850.8 641.0,1852.2 641.5,1851.8 642.0,1851.2 642.5,1852.2 643.0,1851.8 643.5,1851.9 644.0,1853.3 644.5,1852.7 645.0,1852.9 645.5,1852.9 646.1,1852.1 646.6,1852.0 647.1,1851.9 647.6,1851.7 647.7,1853.1 647.8,1853.8 647.9,1853.2 648.0,1854.6 648.1,1854.1 648.2,1854.2 648.3,1856.1 648.4,1856.9 648.5,1856.5 648.6,1858.3 648.6,1858.2 648.7,1858.0 648.8,1859.3 648.9,1860.0 648.9,1859.1 649.0,1861.1 649.1,1860.7 649.2,1860.9 649.2,1861.6 649.3,1862.4 649.4,1862.9 649.5,1862.9 649.6,1863.0 649.6,1864.6 649.7,1865.3 649.8,1865.7 649.9,1865.6 649.9,1867.1 650.0,1865.9 650.1,1866.6 650.2,1866.9 650.3,1868.5 650.3,1868.9 650.4,1868.8 650.5,1869.9 650.6,1869.4 650.6,1870.0 650.7,1872.3 650.8,1872.7 650.9,1871.5 650.9,1873.2 651.0,1873.4 651.1,1874.0 651.1,1875.1 651.2,1875.2 651.2,1876.3 651.3,1876.3 651.3,1877.2 651.4,1876.1 651.4,1878.0 651.5,1877.5 651.5,1879.2 651.6,1879.5 651.6,1880.3 651.7,1880.4 651.7,1880.2 651.8,1880.9 651.8,1881.9 651.9,1881.0 651.9,1882.4 652.0,1883.0 652.0,1883.8 652.1,1883.5 652.1,1884.6 652.2,1885.3 652.2,1885.1 652.3,1886.2 652.3,1887.2 652.4,1886.6 652.4,1887.4 652.5,1887.8 652.5,1889.0 652.6,1888.4 652.6,1888.9 652.7,1889.6 652.7,1890.6 652.8,1890.1 652.8,1892.3 652.9,1891.8 652.9,1892.8 653.0,1892.7 653.0,1892.4 653.1,1893.6 653.1,1894.5 653.2,1894.0 653.2,1896.3 653.3,1896.0 653.3,1896.2 653.4,1895.9 653.4,1896.8 653.5,1897.5 653.5,1898.6 653.6,1898.2 653.6,1899.3 653.7,1899.3 653.7,1900.4 653.7,1901.2 653.8,1901.3 653.8,1902.3 653.9,1902.6 653.9,1902.0 654.0,1903.6 654.0,1903.8 654.1,1904.9 654.1,1905.7 654.1,1905.1 654.2,1906.6 654.2,1905.8 654.3,1907.2 654.3,1906.4 654.4,1908.5 654.4,1908.3 654.4,1908.8 654.5,1909.4 654.5,1909.6 654.6,1909.9 654.6,1911.3 654.7,1911.7 654.7,1911.0 654.8,1912.0 654.8,1913.8 654.8,1913.0 654.9,1913.5 654.9,1914.6 655.0,1914.7 655.0,1916.3 655.1,1916.9 655.1,1915.7 655.2,1916.4 655.2,1916.8 655.2,1917.9 655.3,1918.1 655.3,1919.3 655.4,1920.3 655.4,1919.1 655.5,1919.6 655.5,1920.2 655.6,1921.1 655.6,1921.3 655.6,1922.4 655.7,1922.8 655.7,1924.0 655.8,1925.0 655.8,1925.5 655.9,1924.9 655.9,1925.8 655.9,1925.3 656.0,1926.8 656.0,1927.8 656.1,1928.3 656.1,1927.4 656.2,1927.9 656.2,1929.9 656.3,1930.0 656.3,1930.6 656.4,1929.7 656.5,1931.3 656.6,1930.6 656.6,1932.5 656.7,1933.2 656.8,1932.7 656.9,1932.6 657.0,1934.5 657.1,1935.5 657.1,1935.3 657.2,1935.3 657.3,1935.7 657.4,1937.1 657.5,1937.9 657.6,1937.2 657.6,1937.4 657.7,1939.5 657.8,1938.8 657.9,1939.4 658.0,1939.6 658.1,1940.9 658.2,1941.9 658.2,1941.4 658.3,1942.7 658.4,1942.2 658.5,1942.8 658.6,1944.0 658.7,1944.9 658.7,1944.9 658.8,1945.3 658.9,1946.1 659.0,1946.7 661.3,1950.3 661.7,1951.6 662.1,1949.7 662.5,1948.5 662.9,1946.1 663.3,1946.3 663.7,1944.0 664.1,1940.8 664.5,1942.3 664.9,1939.0 665.3,1939.9 665.7,1935.9 666.1,1935.9 666.5,1936.2 666.9,1934.9 667.3,1933.8 667.7,1932.2 668.1,1930.0 668.5,1931.4 668.9,1930.2 669.3,1928.3 669.7,1927.7 670.1,1927.5 670.5,1925.6 670.9,1924.7 671.3,1923.8 671.7,1923.8 672.1,1922.9 672.5,1920.8 672.9,1921.4 673.3,1919.3 673.7,1919.4 674.1,1917.7 674.5,1918.6 674.9,1918.0 675.3,1916.7 675.7,1914.7 676.1,1913.9 676.5,1913.4 676.9,1913.2 677.3,1910.7 677.7,1911.7 678.1,1912.2 678.5,1908.8 678.9,1910.8 679.3,1909.1 679.7,1909.8 680.1,1908.3 680.5,1907.7 680.9,1907.2 681.3,1905.5 681.7,1903.9 682.1,1905.7 682.5,1905.2 682.9,1904.1 683.3,1902.0 683.7,1902.3 684.1,1901.8 684.5,1900.8 684.9,1900.7 685.3,1900.1 685.7,1901.2 686.1,1899.6 686.5,1900.2 686.9,1899.5 687.3,1896.7 687.7,1898.1 688.1,1896.4 688.5,1896.6 688.9,1896.1 689.3,1896.2 689.7,1894.3 690.1,1895.1 690.5,1893.7 690.9,1894.6 691.3,1893.3 691.7,1893.3 692.1,1894.1 692.5,1891.4 692.9,1890.1 693.3,1892.6 693.7,1891.0 694.1,1891.0 694.5,1891.3 694.9,1891.1 695.3,1889.1 695.7,1890.7 696.1,1888.4 696.5,1889.2 696.9,1889.2 697.3,1887.3 697.7,1887.2 698.1,1886.7 698.5,1886.3 698.9,1886.2 699.3,1887.3 699.7,1884.5 700.1,1887.2 700.5,1886.2 700.9,1885.2 701.3,1885.2 701.7,1883.8 702.1,1885.0 702.5,1885.1 702.9,1883.3 703.3,1883.4 703.7,1882.2 704.1,1882.1 704.5,1883.7 704.9,1882.8 705.3,1882.0 705.7,1882.3 706.1,1880.6 706.5,1879.8 706.9,1880.7 707.3,1881.2 707.7,1879.7 708.1,1880.6 708.5,1879.7 708.9,1879.3 709.3,1880.6 709.7,1879.2 710.1,1880.2 710.5,1880.1 710.9,1878.7 711.3,1877.4 711.7,1879.8 712.1,1878.7 712.5,1878.6 712.9,1878.7 713.3,1878.1 713.7,1879.1 714.1,1876.0 714.5,1878.9 714.9,1877.6 715.3,1876.8 715.7,1878.2 716.1,1878.0 716.5,1876.9 716.9,1874.9 717.3,1876.7 717.7,1875.8 718.1,1876.2 718.5,1876.9 718.9,1874.5 719.3,1876.6 719.7,1874.8 720.1,1874.4 720.5,1873.6 720.9,1873.7 721.3,1874.1 721.7,1874.8 722.1,1876.0 722.5,1873.4 722.9,1873.6 723.3,1873.8 723.7,1874.5 724.1,1873.5 724.5,1874.4 724.9,1872.6 725.3,1872.1 725.7,1873.7 726.1,1874.1 726.5,1872.1 726.9,1871.7 727.3,1873.6 727.7,1871.6 728.1,1874.2 728.5,1873.4 728.9,1871.6 729.3,1872.3 729.7,1871.0 730.1,1871.0 730.5,1871.8 730.9,1873.4 731.3,1873.4 731.7,1872.8 732.1,1872.3 732.5,1872.1 732.9,1871.7 733.3,1872.1 733.7,1871.5 734.1,1871.1 734.5,1872.5 734.9,1870.7 735.3,1870.9 735.7,1871.7 736.1,1872.5 736.5,1870.5 736.9,1870.7 737.3,1870.5 737.7,1869.8 738.1,1870.2 738.5,1871.6 738.9,1869.6 739.3,1870.4 739.7,1869.7 740.1,1870.6 740.5,1871.2 740.9,1869.0 741.3,1870.1 741.7,1869.1 742.1,1870.5 742.5,1870.6 742.9,1869.0 743.3,1869.0 743.7,1869.2 744.1,1869.2 744.5,1871.0 744.9,1870.8 745.3,1870.5 745.7,1869.2 746.1,1869.3 746.5,1868.5 746.9,1869.2 747.3,1870.8 747.7,1868.0 748.1,1868.9 748.5,1868.2 748.9,1870.2 749.3,1868.4 749.7,1869.0 750.1,1867.6 750.5,1869.6 750.9,1868.9 751.3,1869.8 751.7,1869.5 752.1,1869.6 752.5,1868.0 752.9,1867.9 753.3,1869.0 753.7,1867.2 754.1,1870.0 754.5,1869.2 754.9,1868.5 755.3,1868.0 755.7,1867.1 756.1,1868.6 756.5,1869.2 756.9,1867.1" fill="none" stroke="#12a34c" stroke-width="1.3" stroke-linejoin="round"/>
<line x1="642.3" y1="1833.5" x2="642.3" y2="1867.8" stroke="#6cc690" stroke-width="1.2"/>
<line x1="641.4" y1="1954.2" x2="712.6" y2="1954.2" stroke="#45a0b2" stroke-width="2.5" stroke-dasharray="7 2.7"/>
<polyline points="778.4,1852.8 778.9,1851.9 779.4,1852.8 780.0,1852.3 780.5,1852.7 781.0,1851.8 781.5,1853.1 782.1,1853.1 782.6,1852.3 783.2,1852.9 783.7,1853.2 784.0,1853.3 784.4,1854.4 784.7,1854.6 785.0,1855.2 785.3,1854.6 785.6,1855.5 786.0,1856.0 786.3,1856.5 786.4,1855.9 786.5,1857.9 786.6,1857.7 786.7,1857.7 786.8,1859.5 786.9,1859.4 787.0,1860.3 787.1,1860.8 787.2,1861.0 787.3,1862.1 787.4,1861.0 787.5,1862.0 787.6,1862.2 787.7,1863.6 787.8,1863.3 787.9,1863.5 788.0,1864.2 788.1,1864.8 788.2,1865.9 788.3,1866.3 788.4,1866.8 788.5,1866.5 788.6,1867.9 788.7,1867.9 788.8,1868.1 788.9,1868.6 789.0,1869.2 789.1,1870.2 789.2,1870.3 789.3,1871.3 789.4,1871.3 789.5,1872.8 789.6,1873.6 789.7,1873.1 789.8,1873.1 789.9,1875.2 789.9,1874.2 790.0,1875.7 790.1,1876.4 790.1,1876.4 790.2,1877.6 790.2,1876.8 790.3,1878.3 790.4,1879.1 790.4,1879.6 790.5,1880.0 790.6,1879.8 790.6,1880.4 790.7,1881.5 790.7,1881.2 790.8,1881.5 790.9,1881.6 790.9,1882.4 791.0,1882.8 791.1,1884.7 791.1,1884.1 791.2,1884.7 791.2,1886.3 791.3,1886.3 791.4,1886.3 791.4,1886.2 791.5,1887.2 791.6,1887.6 791.6,1889.2 791.7,1888.8 791.7,1890.3 791.8,1889.5 791.9,1889.6 791.9,1891.7 792.0,1890.7 792.1,1892.5 792.1,1892.6 792.2,1892.6 792.3,1894.1 792.3,1893.8 792.4,1895.3 792.4,1895.1 792.5,1896.3 792.6,1896.7 792.6,1896.2 792.7,1897.3 792.8,1897.9 792.8,1898.2 792.9,1897.6 792.9,1899.3 793.0,1899.9 793.1,1899.4 793.1,1899.7 793.2,1900.2 793.3,1901.6 793.3,1901.3 793.4,1903.1 793.4,1902.8 793.5,1904.4 793.6,1904.4 793.6,1904.4 793.7,1904.4 793.8,1905.4 793.8,1906.2 793.9,1907.1 793.9,1907.7 794.0,1907.2 794.1,1907.1 794.1,1908.8 794.2,1909.3 794.2,1909.8 794.3,1910.5 794.3,1911.1 794.4,1911.2 794.4,1912.1 794.5,1911.3 794.5,1913.3 794.5,1913.3 794.6,1912.8 794.6,1913.4 794.7,1914.8 794.7,1914.7 794.7,1916.3 794.8,1915.6 794.8,1916.5 794.9,1917.0 794.9,1918.3 795.0,1917.7 795.0,1919.2 795.0,1919.4 795.1,1919.7 795.1,1920.8 795.2,1921.2 795.2,1921.5 795.2,1921.6 795.3,1921.2 795.3,1922.0 795.4,1923.3 795.4,1922.9 795.5,1924.3 795.5,1924.3 795.5,1924.9 795.6,1926.1 795.6,1926.7 795.7,1927.0 795.7,1927.0 795.8,1927.6 795.8,1928.9 795.8,1929.3 795.9,1929.3 795.9,1928.8 796.0,1930.8 796.0,1929.8 796.0,1930.4 796.1,1931.9 796.1,1931.5 796.2,1933.0 796.2,1933.4 796.3,1933.0 796.3,1934.8 796.3,1935.5 796.4,1935.4 796.4,1936.5 796.5,1936.6 796.5,1936.6 796.5,1937.7 796.6,1938.4 796.6,1938.5 796.7,1937.9 796.7,1938.9 796.8,1940.0 796.8,1939.9 796.8,1940.0 796.9,1941.0 796.9,1941.0 797.0,1942.1 797.0,1941.9 797.0,1943.5 797.1,1943.1 797.1,1944.9 797.2,1943.9 797.2,1945.4 797.3,1945.9 797.3,1945.6 797.3,1946.9 797.4,1947.2 797.4,1947.9 797.5,1947.6 797.5,1948.6 797.6,1949.8 797.6,1949.9 797.6,1949.7 797.7,1950.4 797.7,1951.8 797.8,1950.9 797.8,1952.1 797.8,1952.7 797.9,1953.0 797.9,1952.8 798.0,1953.5 798.0,1955.3 798.1,1955.1 798.1,1955.3 798.1,1956.1 798.2,1955.9 798.2,1956.4 798.3,1958.3 798.3,1958.7 798.3,1958.1 798.4,1958.9 798.4,1958.9 798.5,1959.9 798.5,1960.7 798.6,1961.7 798.6,1961.7 798.6,1962.8 798.7,1963.6 798.8,1963.3 798.8,1962.9 798.9,1963.6 798.9,1965.0 799.0,1964.6 799.0,1966.4 799.1,1965.4 799.1,1965.9 799.1,1968.1 799.2,1967.6 799.2,1968.3 799.3,1968.9 799.4,1968.6 799.4,1969.4 799.5,1970.0 799.5,1971.2 799.6,1971.8 799.6,1972.1 799.6,1971.7 799.7,1972.7 799.8,1974.0 799.8,1973.2 799.9,1974.0 799.9,1975.0 800.0,1976.2 800.0,1974.9 800.1,1976.6 800.1,1976.7 800.1,1977.3 800.2,1978.4 800.2,1977.6 800.3,1979.0 800.4,1979.0 800.4,1980.3 800.5,1980.7 800.5,1980.7 800.6,1980.7 800.6,1982.3 800.6,1982.7 800.7,1982.9 800.8,1983.8 800.8,1984.6 800.9,1983.9 800.9,1985.2 801.0,1985.9 801.0,1985.4 801.1,1987.1 801.1,1986.5 801.1,1988.2 801.2,1988.0 801.2,1989.2 801.3,1989.5 801.4,1989.9 801.4,1989.6 801.5,1990.3 801.5,1991.0 801.6,1991.9 801.6,1991.7 801.6,1993.1 801.7,1992.4 801.8,1993.4 801.8,1993.2 801.9,1993.8 801.9,1994.5 802.0,1994.6 802.0,1996.0 802.1,1996.6 802.1,1996.7 804.8,2010.9 805.2,2011.3 805.6,2009.3 806.0,2007.5 806.4,2002.7 806.8,1999.7 807.2,1994.2 807.6,1991.5 808.0,1991.2 808.4,1986.7 808.8,1985.8 809.2,1982.9 809.6,1981.5 810.0,1980.0 810.4,1977.7 810.8,1976.0 811.2,1974.0 811.6,1970.3 812.0,1970.1 812.4,1967.5 812.8,1964.2 813.2,1962.5 813.6,1961.3 814.0,1960.5 814.4,1956.6 814.8,1957.3 815.2,1955.0 815.6,1953.1 816.0,1951.0 816.4,1949.4 816.8,1947.9 817.2,1947.4 817.6,1945.1 818.0,1944.5 818.4,1943.6 818.8,1939.8 819.2,1938.3 819.6,1939.8 820.0,1936.2 820.4,1936.9 820.8,1934.4 821.2,1932.7 821.6,1930.8 822.0,1930.9 822.4,1930.3 822.8,1927.6 823.2,1926.4 823.6,1926.1 824.0,1926.9 824.4,1925.5 824.8,1923.0 825.2,1922.5 825.6,1921.6 826.0,1921.5 826.4,1919.3 826.8,1918.6 827.2,1918.2 827.6,1916.5 828.0,1916.3 828.4,1916.4 828.8,1914.9 829.2,1912.7 829.6,1912.8 830.0,1912.8 830.4,1911.0 830.8,1910.7 831.2,1910.5 831.6,1909.3 832.0,1908.0 832.4,1909.5 832.8,1906.4 833.2,1908.3 833.6,1905.2 834.0,1906.0 834.4,1905.3 834.8,1904.3 835.2,1904.4 835.6,1904.6 836.0,1902.4 836.4,1901.1 836.8,1901.0 837.2,1902.5 837.6,1901.1 838.0,1901.1 838.4,1899.5 838.8,1898.8 839.2,1899.5 839.6,1898.6 840.0,1899.2 840.4,1896.5 840.8,1896.7 841.2,1897.3 841.6,1897.5 842.0,1895.8 842.4,1896.4 842.8,1893.9 843.2,1895.2 843.6,1893.9 844.0,1894.6 844.4,1893.0 844.8,1892.4 845.2,1892.3 845.6,1893.3 846.0,1892.9 846.4,1893.2 846.8,1891.4 847.2,1890.1 847.6,1892.0 848.0,1890.1 848.4,1891.1 848.8,1890.2 849.2,1889.8 849.6,1888.3 850.0,1888.6 850.4,1889.9 850.8,1888.8 851.2,1889.8 851.6,1889.3 852.0,1888.3 852.4,1889.4 852.8,1886.2 853.2,1887.2 853.6,1887.4 854.0,1885.7 854.4,1888.0 854.8,1885.6 855.2,1886.7 855.6,1885.6 856.0,1885.7 856.4,1885.8 856.8,1885.0 857.2,1884.5 857.6,1885.8 858.0,1885.5 858.4,1883.7 858.8,1886.2 859.2,1883.5 859.6,1883.7 860.0,1883.7 860.4,1883.8 860.8,1884.0 861.2,1885.1 861.6,1882.5 862.0,1883.8 862.4,1883.8 862.8,1882.6 863.2,1882.8 863.6,1882.9 864.0,1884.1 864.4,1883.6 864.8,1882.6 865.2,1881.3 865.6,1882.0 866.0,1883.3 866.4,1882.0 866.8,1881.8 867.2,1882.4 867.6,1880.5 868.0,1882.3 868.4,1882.3 868.8,1880.5 869.2,1881.3 869.6,1882.5 870.0,1880.6 870.4,1881.3 870.8,1880.7 871.2,1881.2 871.6,1880.7 872.0,1880.4 872.4,1882.1 872.8,1881.3 873.2,1882.2 873.6,1880.1 874.0,1880.4 874.4,1880.0 874.8,1881.5 875.2,1879.9 875.6,1880.8 876.0,1879.2 876.4,1880.2 876.8,1879.3 877.2,1881.2 877.6,1879.5 878.0,1881.2 878.4,1880.0 878.8,1879.2 879.2,1879.8 879.6,1880.9 880.0,1880.1 880.4,1880.5 880.8,1879.7 881.2,1879.8 881.6,1878.3 882.0,1880.3 882.4,1879.7 882.8,1879.7 883.2,1878.6 883.6,1879.9 884.0,1879.2 884.4,1878.5 884.8,1880.5 885.2,1879.8 885.6,1879.4 886.0,1879.9 886.4,1879.4 886.8,1878.4 887.2,1880.1 887.6,1879.9 888.0,1879.2 888.4,1878.4 888.8,1878.6 889.2,1877.2 889.6,1879.7 890.0,1879.5 890.4,1878.8 890.8,1878.3 891.2,1879.3 891.6,1877.0 892.0,1878.1 892.4,1877.6 892.8,1878.6 893.2,1877.8 893.6,1878.6 894.0,1879.4 894.4,1877.9 894.8,1877.0 895.2,1876.7 895.6,1879.1 896.0,1878.0 896.4,1877.9 896.8,1876.6 897.2,1876.8" fill="none" stroke="#f59ac6" stroke-width="1.1" stroke-linejoin="round"/>
<line x1="783.7" y1="1833.5" x2="783.7" y2="1876.5" stroke="#f9c0dc" stroke-width="1.2"/>
<line x1="779.3" y1="2014.8" x2="851.0" y2="2014.8" stroke="#45a0b2" stroke-width="2.5" stroke-dasharray="7 2.7"/>
<polyline points="926.4,1851.2 926.9,1849.9 927.5,1851.4 928.0,1849.4 928.5,1849.6 929.0,1850.0 929.5,1850.3 930.0,1849.7 930.5,1850.7 930.7,1851.2 930.9,1852.3 931.1,1851.1 931.3,1852.0 931.5,1852.1 931.7,1852.9 931.9,1853.3 932.1,1853.4 932.3,1855.4 932.5,1854.9 933.0,1855.7 933.5,1855.7 934.0,1855.5 934.5,1853.8 935.1,1855.1 935.6,1855.8 936.2,1855.6 936.3,1856.0 936.5,1856.2 936.6,1857.5 936.7,1857.5 936.9,1857.7 937.0,1858.5 937.1,1859.0 937.1,1858.9 937.2,1860.4 937.2,1861.2 937.3,1861.4 937.3,1860.6 937.4,1861.9 937.4,1863.1 937.5,1862.4 937.5,1863.6 937.6,1864.5 937.6,1864.7 937.7,1864.8 937.7,1864.7 937.8,1866.6 937.9,1866.0 937.9,1867.4 938.0,1867.8 938.0,1868.7 938.1,1868.0 938.1,1870.2 938.2,1870.3 938.2,1871.0 938.3,1870.2 938.3,1871.8 938.4,1871.6 938.4,1872.7 938.5,1873.2 938.5,1873.2 938.6,1874.8 938.6,1874.3 938.7,1874.8 938.7,1875.8 938.8,1875.2 938.8,1877.2 938.8,1876.6 938.8,1878.2 938.9,1877.2 938.9,1877.6 938.9,1879.1 939.0,1878.9 939.0,1879.8 939.0,1879.8 939.0,1881.3 939.1,1881.9 939.1,1882.3 939.1,1881.7 939.1,1882.0 939.2,1883.6 939.2,1883.1 939.2,1884.8 939.3,1885.0 939.3,1886.3 939.3,1886.5 939.3,1886.7 939.4,1887.6 939.4,1887.4 939.4,1887.5 939.5,1887.5 939.5,1889.3 939.5,1889.7 939.5,1890.2 939.6,1890.4 939.6,1890.8 939.6,1892.2 939.7,1891.7 939.7,1891.7 939.7,1893.8 939.7,1893.9 939.8,1894.7 939.8,1895.4 939.8,1894.8 939.9,1894.7 939.9,1895.9 939.9,1896.4 939.9,1896.7 940.0,1898.0 940.0,1897.4 940.0,1899.3 940.0,1898.3 940.1,1899.0 940.1,1900.6 940.1,1899.9 940.2,1901.3 940.2,1900.9 940.2,1901.7 940.2,1902.3 940.3,1902.4 940.3,1904.0 940.3,1904.8 940.4,1905.3 940.4,1904.2 940.5,1904.5 940.5,1905.8 940.6,1906.9 940.6,1907.1 940.7,1908.4 940.8,1909.0 940.8,1908.9 940.8,1908.5 940.9,1909.3 940.9,1909.2 941.0,1910.3 941.0,1911.5 941.1,1911.2 941.1,1911.4 941.2,1912.6 941.2,1913.9 941.3,1913.9 941.4,1913.3 941.4,1914.5 941.4,1914.6 941.5,1916.2 941.5,1916.0 941.6,1916.5 941.6,1917.9 941.7,1917.3 941.8,1918.1 941.8,1919.6 941.9,1918.8 941.9,1919.8 942.0,1920.5 942.0,1920.4 942.1,1921.5 942.1,1921.5 942.2,1922.9 942.2,1922.8 942.3,1923.7 942.3,1923.8 942.4,1924.6 942.4,1924.5 942.5,1924.5 942.5,1925.4 942.6,1925.9 942.6,1925.7 942.7,1927.7 942.7,1927.7 942.8,1928.2 942.8,1929.1 942.9,1928.3 942.9,1929.0 943.0,1930.6 943.0,1929.8 943.1,1931.9 943.1,1931.7 943.2,1933.1 943.2,1933.4 943.3,1933.0 943.3,1933.4 943.4,1934.1 943.4,1935.2 943.5,1935.1 943.5,1936.1 943.6,1937.2 943.6,1937.2 943.7,1937.2 943.7,1938.2 943.8,1938.2 943.8,1938.9 943.9,1939.0 943.9,1940.6 944.0,1941.2 944.0,1940.8 944.1,1941.3 944.1,1940.9 944.2,1942.3 944.2,1943.6 944.3,1942.7 944.3,1944.2 944.4,1943.7 944.5,1945.1 944.5,1944.8 944.6,1945.9 944.7,1946.7 944.7,1945.7 944.8,1947.9 944.9,1947.7 945.0,1947.7 945.0,1948.3 945.1,1949.3 945.2,1950.1 945.2,1949.5 945.3,1949.8 945.4,1950.6 945.4,1951.9 945.5,1951.9 945.6,1953.2 945.7,1953.6 945.7,1953.4 945.8,1954.3 945.9,1953.9 945.9,1955.3 946.0,1955.9 949.3,1961.3 949.7,1960.2 950.1,1960.6 950.5,1957.5 950.9,1958.2 951.3,1954.3 951.7,1952.4 952.1,1949.5 952.5,1946.5 952.9,1946.5 953.3,1944.6 953.7,1942.3 954.1,1941.9 954.5,1940.6 954.9,1939.0 955.3,1936.1 955.7,1937.1 956.1,1935.6 956.5,1932.8 956.9,1933.1 957.3,1932.0 957.7,1928.7 958.1,1927.0 958.5,1926.0 958.9,1925.6 959.3,1923.4 959.7,1922.6 960.1,1923.1 960.5,1919.8 960.9,1920.6 961.3,1919.0 961.7,1918.9 962.1,1916.5 962.5,1916.3 962.9,1914.5 963.3,1912.9 963.7,1914.8 964.1,1912.3 964.5,1911.2 964.9,1912.4 965.3,1909.8 965.7,1909.5 966.1,1907.4 966.5,1907.5 966.9,1908.3 967.3,1907.4 967.7,1906.6 968.1,1906.2 968.5,1903.3 968.9,1902.1 969.3,1901.7 969.7,1902.7 970.1,1901.7 970.5,1900.5 970.9,1901.0 971.3,1898.8 971.7,1899.5 972.1,1898.3 972.5,1896.8 972.9,1898.3 973.3,1895.9 973.7,1897.3 974.1,1896.7 974.5,1895.1 974.9,1894.7 975.3,1893.4 975.7,1892.7 976.1,1894.0 976.5,1892.5 976.9,1892.7 977.3,1891.6 977.7,1890.9 978.1,1890.1 978.5,1891.7 978.9,1890.2 979.3,1888.9 979.7,1890.8 980.1,1888.1 980.5,1888.0 980.9,1887.4 981.3,1888.4 981.7,1888.7 982.1,1886.0 982.5,1888.5 982.9,1887.5 983.3,1887.6 983.7,1885.9 984.1,1885.7 984.5,1884.3 984.9,1884.5 985.3,1886.2 985.7,1884.0 986.1,1885.7 986.5,1885.2 986.9,1885.3 987.3,1882.5 987.7,1883.2 988.1,1884.2 988.5,1882.3 988.9,1881.9 989.3,1880.9 989.7,1882.3 990.1,1882.1 990.5,1880.8 990.9,1880.8 991.3,1881.8 991.7,1880.1 992.1,1881.9 992.5,1881.9 992.9,1880.3 993.3,1879.2 993.7,1880.4 994.1,1879.3 994.5,1878.6 994.9,1880.3 995.3,1879.7 995.7,1878.6 996.1,1878.3 996.5,1879.7 996.9,1880.2 997.3,1878.2 997.7,1878.8 998.1,1877.5 998.5,1878.1 998.9,1878.4 999.3,1877.3 999.7,1878.2 1000.1,1877.8 1000.5,1876.1 1000.9,1876.2 1001.3,1877.0 1001.7,1876.1 1002.1,1877.2 1002.5,1877.3 1002.9,1877.2 1003.3,1878.0 1003.7,1877.0 1004.1,1877.4 1004.5,1875.2 1004.9,1877.5 1005.3,1877.6 1005.7,1876.4 1006.1,1877.1 1006.5,1876.1 1006.9,1875.6 1007.3,1874.7 1007.7,1875.6 1008.1,1876.2 1008.5,1876.4 1008.9,1876.7 1009.3,1875.4 1009.7,1876.7 1010.1,1874.8 1010.5,1873.5 1010.9,1874.8 1011.3,1875.1 1011.7,1875.7 1012.1,1873.9 1012.5,1873.2 1012.9,1875.4 1013.3,1873.6 1013.7,1875.7 1014.1,1874.7 1014.5,1873.2 1014.9,1874.4 1015.3,1875.2 1015.7,1873.3 1016.1,1875.6 1016.5,1872.7 1016.9,1872.9 1017.3,1874.3 1017.7,1874.5 1018.1,1874.2 1018.5,1875.2 1018.9,1872.8 1019.3,1872.3 1019.7,1873.8 1020.1,1873.2 1020.5,1873.3 1020.9,1873.2 1021.3,1874.8 1021.7,1872.8 1022.1,1874.1 1022.5,1873.6 1022.9,1872.7 1023.3,1874.6 1023.7,1872.5 1024.1,1872.6 1024.5,1872.2 1024.9,1873.8 1025.3,1873.8 1025.7,1872.7 1026.1,1871.9 1026.5,1873.3 1026.9,1872.5 1027.3,1873.1 1027.7,1873.4 1028.1,1871.3 1028.5,1871.4 1028.9,1873.9 1029.3,1874.0 1029.7,1871.5 1030.1,1871.9 1030.5,1872.5 1030.9,1873.8 1031.3,1872.1 1031.7,1874.1 1032.1,1871.3 1032.5,1873.9 1032.9,1871.2 1033.3,1872.9 1033.7,1874.1" fill="none" stroke="#1414cc" stroke-width="1.3" stroke-linejoin="round"/>
<line x1="931.1" y1="1844.7" x2="931.1" y2="1861.4" stroke="#1414cc" stroke-width="1.8"/>
<line x1="926.8" y1="1962.5" x2="999.0" y2="1962.5" stroke="#45a0b2" stroke-width="2.5" stroke-dasharray="7 2.7"/>
<path d="M1001.5,1972.3 L1040.6,1972.3 L1040.6,1931.1" fill="none" stroke="#000" stroke-width="3.2"/>
<text transform="translate(1063.5 1953.0) rotate(-90)" font-size="18" text-anchor="middle">30 pA</text>
<text transform="translate(1027.8 1997.9)" font-size="18" text-anchor="middle">40 ms</text>
<text x="1150.0" y="1612.6" font-size="44.5" font-weight="bold">n</text>
<line x1="1289.0" y1="1652.0" x2="1289.0" y2="1918.9" stroke="#000" stroke-width="2.6"/>
<line x1="1282.0" y1="1653.2" x2="1289.0" y2="1653.2" stroke="#000" stroke-width="2.6"/>
<text transform="translate(1276.8 1661.4) scale(1.100 1)" font-size="22.9" text-anchor="end">2.5</text>
<line x1="1282.0" y1="1706.1" x2="1289.0" y2="1706.1" stroke="#000" stroke-width="2.6"/>
<text transform="translate(1276.8 1714.3) scale(1.100 1)" font-size="22.9" text-anchor="end">2.0</text>
<line x1="1282.0" y1="1759.0" x2="1289.0" y2="1759.0" stroke="#000" stroke-width="2.6"/>
<text transform="translate(1276.8 1767.2) scale(1.100 1)" font-size="22.9" text-anchor="end">1.5</text>
<line x1="1282.0" y1="1811.9" x2="1289.0" y2="1811.9" stroke="#000" stroke-width="2.6"/>
<text transform="translate(1276.8 1820.1) scale(1.100 1)" font-size="22.9" text-anchor="end">1.0</text>
<line x1="1282.0" y1="1864.8" x2="1289.0" y2="1864.8" stroke="#000" stroke-width="2.6"/>
<text transform="translate(1276.8 1873.0) scale(1.100 1)" font-size="22.9" text-anchor="end">0.5</text>
<line x1="1282.0" y1="1917.7" x2="1289.0" y2="1917.7" stroke="#000" stroke-width="2.6"/>
<text transform="translate(1276.8 1925.9) scale(1.100 1)" font-size="22.9" text-anchor="end">0.0</text>
<line x1="1280.3" y1="1917.7" x2="1687.0" y2="1917.7" stroke="#000" stroke-width="2.6"/>
<line x1="1337.4" y1="1917.7" x2="1337.4" y2="1925.0" stroke="#000" stroke-width="2.6"/>
<line x1="1436.8" y1="1917.7" x2="1436.8" y2="1925.0" stroke="#000" stroke-width="2.6"/>
<line x1="1536.0" y1="1917.7" x2="1536.0" y2="1925.0" stroke="#000" stroke-width="2.6"/>
<line x1="1635.4" y1="1917.7" x2="1635.4" y2="1925.0" stroke="#000" stroke-width="2.6"/>
<rect x="1310.0" y="1809.4" width="54.8" height="108.3" fill="#a1a0a5"/>
<rect x="1409.5" y="1858.6" width="54.9" height="59.1" fill="#579ff9"/>
<rect x="1508.4" y="1804.1" width="55.2" height="113.6" fill="#00bb00"/>
<rect x="1608.0" y="1721.3" width="54.9" height="196.4" fill="#f797c6"/>
<line x1="1436.8" y1="1858.6" x2="1436.8" y2="1851.6" stroke="#579ff9" stroke-width="1.8"/>
<line x1="1423.5" y1="1851.6" x2="1450.8" y2="1851.6" stroke="#579ff9" stroke-width="1.8"/>
<line x1="1536.0" y1="1804.1" x2="1536.0" y2="1800.6" stroke="#00bb00" stroke-width="1.8"/>
<line x1="1522.0" y1="1800.6" x2="1550.0" y2="1800.6" stroke="#00bb00" stroke-width="1.8"/>
<line x1="1635.4" y1="1721.3" x2="1635.4" y2="1707.3" stroke="#f797c6" stroke-width="1.8"/>
<line x1="1621.7" y1="1707.3" x2="1649.3" y2="1707.3" stroke="#f797c6" stroke-width="1.8"/>
<circle cx="1317.0" cy="1811.1" r="5.2" fill="#fff" stroke="#a1a0a5" stroke-width="2.7"/>
<circle cx="1327.4" cy="1811.1" r="5.2" fill="#fff" stroke="#a1a0a5" stroke-width="2.7"/>
<circle cx="1337.9" cy="1811.1" r="5.2" fill="#fff" stroke="#a1a0a5" stroke-width="2.7"/>
<circle cx="1348.4" cy="1811.1" r="5.2" fill="#fff" stroke="#a1a0a5" stroke-width="2.7"/>
<circle cx="1358.9" cy="1811.1" r="5.2" fill="#fff" stroke="#a1a0a5" stroke-width="2.7"/>
<circle cx="1423.5" cy="1843.6" r="5.2" fill="#fff" stroke="#579ff9" stroke-width="2.7"/>
<circle cx="1436.8" cy="1843.6" r="5.2" fill="#fff" stroke="#579ff9" stroke-width="2.7"/>
<circle cx="1450.8" cy="1859.3" r="5.2" fill="#fff" stroke="#579ff9" stroke-width="2.7"/>
<circle cx="1422.8" cy="1866.0" r="5.2" fill="#fff" stroke="#579ff9" stroke-width="2.7"/>
<circle cx="1450.8" cy="1878.2" r="5.2" fill="#fff" stroke="#579ff9" stroke-width="2.7"/>
<circle cx="1515.4" cy="1799.9" r="5.2" fill="#fff" stroke="#00bb00" stroke-width="2.7"/>
<circle cx="1536.0" cy="1792.6" r="5.2" fill="#fff" stroke="#00bb00" stroke-width="2.7"/>
<circle cx="1529.0" cy="1801.3" r="5.2" fill="#fff" stroke="#00bb00" stroke-width="2.7"/>
<circle cx="1543.4" cy="1811.1" r="5.2" fill="#fff" stroke="#00bb00" stroke-width="2.7"/>
<circle cx="1556.3" cy="1813.2" r="5.2" fill="#fff" stroke="#00bb00" stroke-width="2.7"/>
<circle cx="1621.7" cy="1682.5" r="5.2" fill="#fff" stroke="#f797c6" stroke-width="2.7"/>
<circle cx="1649.3" cy="1694.0" r="5.2" fill="#fff" stroke="#f797c6" stroke-width="2.7"/>
<circle cx="1635.6" cy="1727.2" r="5.2" fill="#fff" stroke="#f797c6" stroke-width="2.7"/>
<circle cx="1621.7" cy="1750.7" r="5.2" fill="#fff" stroke="#f797c6" stroke-width="2.7"/>
<circle cx="1649.3" cy="1753.4" r="5.2" fill="#fff" stroke="#f797c6" stroke-width="2.7"/>
<path d="M1336.9,1669.6 L1336.9,1654.6 L1436.1,1654.6 L1436.1,1718.5" fill="none" stroke="#000" stroke-width="2.6"/>
<path d="M1533.6,1718.5 L1533.6,1654.6 L1633.2,1654.6 L1633.2,1669.6" fill="none" stroke="#000" stroke-width="2.6"/>
<text x="1362.1" y="1651.2" font-size="36.9" font-weight="bold" style="font-family:'Liberation Sans', Arial, sans-serif" letter-spacing="1.89">***</text>
<text x="1552.7" y="1651.2" font-size="36.9" font-weight="bold" style="font-family:'Liberation Sans', Arial, sans-serif" letter-spacing="2.34">****</text>
<text transform="translate(1221.5 1787.5) rotate(-90) scale(1.040 1)" font-size="27.5" text-anchor="middle">Normalized C-eEPSCs</text>
<text transform="translate(1354.0 1945.6) rotate(-45)" font-size="25" text-anchor="end">Control</text>
<text transform="translate(1440.0 1951.6) rotate(-45)" font-size="25" text-anchor="end">NMDA</text>
<text transform="translate(1543.0 1949.1) rotate(-45)" font-size="25" text-anchor="end">cGMP</text>
<text transform="translate(1641.0 1945.6) rotate(-45)" font-size="25" text-anchor="end">cGMP</text>
<text transform="translate(1669.4 1960.4) rotate(-45)" font-size="25" text-anchor="end">+NMDA</text>
<text x="69.0" y="2043.2" font-size="44.5" font-weight="bold">l</text>
<line x1="207.4" y1="2100.2" x2="207.4" y2="2275.7" stroke="#000" stroke-width="2.2"/>
<line x1="201.0" y1="2101.4" x2="207.4" y2="2101.4" stroke="#000" stroke-width="2.2"/>
<text transform="translate(197.8 2109.3) scale(1.060 1)" font-size="22" text-anchor="end">2.0</text>
<line x1="201.0" y1="2144.7" x2="207.4" y2="2144.7" stroke="#000" stroke-width="2.2"/>
<text transform="translate(197.8 2152.6) scale(1.060 1)" font-size="22" text-anchor="end">1.5</text>
<line x1="201.0" y1="2187.9" x2="207.4" y2="2187.9" stroke="#000" stroke-width="2.2"/>
<text transform="translate(197.8 2195.8) scale(1.060 1)" font-size="22" text-anchor="end">1.0</text>
<line x1="201.0" y1="2231.2" x2="207.4" y2="2231.2" stroke="#000" stroke-width="2.2"/>
<text transform="translate(197.8 2239.1) scale(1.060 1)" font-size="22" text-anchor="end">0.5</text>
<line x1="201.0" y1="2274.5" x2="207.4" y2="2274.5" stroke="#000" stroke-width="2.2"/>
<text transform="translate(197.8 2282.4) scale(1.060 1)" font-size="22" text-anchor="end">0.0</text>
<line x1="198.8" y1="2274.5" x2="469.1" y2="2274.5" stroke="#000" stroke-width="2.2"/>
<line x1="246.9" y1="2274.5" x2="246.9" y2="2281.0" stroke="#000" stroke-width="2.2"/>
<line x1="307.0" y1="2274.5" x2="307.0" y2="2281.0" stroke="#000" stroke-width="2.2"/>
<line x1="367.5" y1="2274.5" x2="367.5" y2="2281.0" stroke="#000" stroke-width="2.2"/>
<line x1="427.6" y1="2274.5" x2="427.6" y2="2281.0" stroke="#000" stroke-width="2.2"/>
<rect x="226.9" y="2193.6" width="40.0" height="80.9" fill="#579ff9"/>
<line x1="246.9" y1="2193.6" x2="246.9" y2="2185.8" stroke="#579ff9" stroke-width="1.7"/>
<line x1="236.0" y1="2185.8" x2="256.0" y2="2185.8" stroke="#579ff9" stroke-width="1.7"/>
<rect x="287.1" y="2178.2" width="39.9" height="96.3" fill="#00bb00"/>
<line x1="307.1" y1="2178.2" x2="307.1" y2="2170.0" stroke="#00bb00" stroke-width="1.7"/>
<line x1="296.0" y1="2170.0" x2="318.0" y2="2170.0" stroke="#00bb00" stroke-width="1.7"/>
<rect x="347.5" y="2158.0" width="40.0" height="116.5" fill="#f797c6"/>
<line x1="367.5" y1="2158.0" x2="367.5" y2="2151.5" stroke="#f797c6" stroke-width="1.7"/>
<line x1="357.0" y1="2151.5" x2="378.0" y2="2151.5" stroke="#f797c6" stroke-width="1.7"/>
<rect x="407.4" y="2177.9" width="40.3" height="96.6" fill="#f9a043"/>
<line x1="427.5" y1="2177.9" x2="427.5" y2="2173.0" stroke="#f9a043" stroke-width="1.7"/>
<line x1="417.0" y1="2173.0" x2="438.0" y2="2173.0" stroke="#f9a043" stroke-width="1.7"/>
<circle cx="233.9" cy="2161.4" r="3.2" fill="#fff" stroke="#579ff9" stroke-width="1.5"/>
<circle cx="247.1" cy="2166.2" r="3.2" fill="#fff" stroke="#579ff9" stroke-width="1.5"/>
<circle cx="260.2" cy="2167.6" r="3.2" fill="#fff" stroke="#579ff9" stroke-width="1.5"/>
<circle cx="247.1" cy="2191.3" r="3.2" fill="#fff" stroke="#579ff9" stroke-width="1.5"/>
<circle cx="240.5" cy="2198.0" r="3.2" fill="#fff" stroke="#579ff9" stroke-width="1.5"/>
<circle cx="233.9" cy="2213.0" r="3.2" fill="#fff" stroke="#579ff9" stroke-width="1.5"/>
<circle cx="247.1" cy="2216.5" r="3.2" fill="#fff" stroke="#579ff9" stroke-width="1.5"/>
<circle cx="260.2" cy="2221.0" r="3.2" fill="#fff" stroke="#579ff9" stroke-width="1.5"/>
<circle cx="307.0" cy="2138.5" r="3.2" fill="#fff" stroke="#00bb00" stroke-width="1.5"/>
<circle cx="307.0" cy="2153.3" r="3.2" fill="#fff" stroke="#00bb00" stroke-width="1.5"/>
<circle cx="307.0" cy="2165.0" r="3.2" fill="#fff" stroke="#00bb00" stroke-width="1.5"/>
<circle cx="317.2" cy="2170.6" r="3.2" fill="#fff" stroke="#00bb00" stroke-width="1.5"/>
<circle cx="297.5" cy="2180.0" r="3.2" fill="#fff" stroke="#00bb00" stroke-width="1.5"/>
<circle cx="317.2" cy="2194.0" r="3.2" fill="#fff" stroke="#00bb00" stroke-width="1.5"/>
<circle cx="297.5" cy="2200.0" r="3.2" fill="#fff" stroke="#00bb00" stroke-width="1.5"/>
<circle cx="317.2" cy="2210.5" r="3.2" fill="#fff" stroke="#00bb00" stroke-width="1.5"/>
<circle cx="367.7" cy="2125.3" r="3.2" fill="#fff" stroke="#f797c6" stroke-width="1.5"/>
<circle cx="367.7" cy="2139.5" r="3.2" fill="#fff" stroke="#f797c6" stroke-width="1.5"/>
<circle cx="367.7" cy="2151.5" r="3.2" fill="#fff" stroke="#f797c6" stroke-width="1.5"/>
<circle cx="354.0" cy="2156.6" r="3.2" fill="#fff" stroke="#f797c6" stroke-width="1.5"/>
<circle cx="381.0" cy="2156.6" r="3.2" fill="#fff" stroke="#f797c6" stroke-width="1.5"/>
<circle cx="354.0" cy="2169.6" r="3.2" fill="#fff" stroke="#f797c6" stroke-width="1.5"/>
<circle cx="367.7" cy="2175.0" r="3.2" fill="#fff" stroke="#f797c6" stroke-width="1.5"/>
<circle cx="381.0" cy="2180.6" r="3.2" fill="#fff" stroke="#f797c6" stroke-width="1.5"/>
<circle cx="422.6" cy="2163.2" r="3.2" fill="#fff" stroke="#f9a043" stroke-width="1.5"/>
<circle cx="432.4" cy="2165.2" r="3.2" fill="#fff" stroke="#f9a043" stroke-width="1.5"/>
<circle cx="411.4" cy="2171.2" r="3.2" fill="#fff" stroke="#f9a043" stroke-width="1.5"/>
<circle cx="416.0" cy="2172.2" r="3.2" fill="#fff" stroke="#f9a043" stroke-width="1.5"/>
<circle cx="442.0" cy="2171.2" r="3.2" fill="#fff" stroke="#f9a043" stroke-width="1.5"/>
<circle cx="427.5" cy="2177.8" r="3.2" fill="#fff" stroke="#f9a043" stroke-width="1.5"/>
<circle cx="438.0" cy="2182.5" r="3.2" fill="#fff" stroke="#f9a043" stroke-width="1.5"/>
<circle cx="422.6" cy="2194.6" r="3.2" fill="#fff" stroke="#f9a043" stroke-width="1.5"/>
<circle cx="432.4" cy="2201.0" r="3.2" fill="#fff" stroke="#f9a043" stroke-width="1.5"/>
<path d="M242.0,2136.0 L242.0,2074.2 L367.7,2074.2 L367.7,2083.8" fill="none" stroke="#000" stroke-width="2"/>
<path d="M371.5,2083.8 L371.5,2074.2 L428.2,2074.2 L428.2,2121.6" fill="none" stroke="#000" stroke-width="2"/>
<text x="287.8" y="2076.7" font-size="36.7" font-weight="bold" style="font-family:'Liberation Sans', Arial, sans-serif" letter-spacing="2.24">***</text>
<text x="389.9" y="2077.7" font-size="36.7" font-weight="bold" style="font-family:'Liberation Sans', Arial, sans-serif">*</text>
<text transform="translate(145.5 2179.0) rotate(-90)" font-size="23" text-anchor="middle">PKG-I / β-actin</text>
<text transform="translate(237.4 2301.2) rotate(-45)" font-size="24.5" text-anchor="end">NR1<tspan font-size="16" dy="-6.9">flfl</tspan></text>
<text transform="translate(314.2 2290.1) rotate(-45)" font-size="24.5" text-anchor="end">SNS-NR1<tspan font-size="16" dy="-6.9">-/-</tspan></text>
<text transform="translate(375.0 2301.2) rotate(-45)" font-size="24.5" text-anchor="end">NR1<tspan font-size="16" dy="-6.9">flfl</tspan></text>
<text transform="translate(442.1 2290.1) rotate(-45)" font-size="24.5" text-anchor="end">SNS-NR1<tspan font-size="16" dy="-6.9">-/-</tspan></text>
<line x1="198.8" y1="2380.7" x2="284.5" y2="2380.7" stroke="#000" stroke-width="3"/>
<line x1="334.0" y1="2380.7" x2="420.5" y2="2380.7" stroke="#fe0000" stroke-width="3"/>
<text transform="translate(238.8 2415.3)" font-size="23" text-anchor="middle">Basal</text>
<text transform="translate(377.2 2415.3)" font-size="23" text-anchor="middle" fill="#fe0000">CFA</text>
<text x="556.0" y="2043.7" font-size="44.5" font-weight="bold">o</text>
<text transform="translate(711.4 2079.0)" font-size="22.8" text-anchor="middle">Basal</text>
<text transform="translate(874.4 2079.0)" font-size="22.8" text-anchor="middle">NMDA</text>
<text transform="translate(597.0 2138.0) rotate(-90)" font-size="22.5" text-anchor="middle">PKG-I<tspan font-size="15" dy="-6.5">fl/fl</tspan></text>
<text transform="translate(626.0 2138.0) rotate(-90)" font-size="22.5" text-anchor="middle">CFA 24h</text>
<text transform="translate(588.0 2354.0) rotate(-90)" font-size="22.5" text-anchor="middle">SNS-PKG-I<tspan font-size="15" dy="-6.5">-/-</tspan></text>
<text transform="translate(615.5 2354.0) rotate(-90)" font-size="22.5" text-anchor="middle">CFA 24h</text>
<text transform="translate(708.8 2307.5)" font-size="22.8" text-anchor="middle">Basal</text>
<text transform="translate(854.7 2307.5)" font-size="22.8" text-anchor="middle">NMDA</text>
<text transform="translate(1005.7 2298.4)" font-size="22.8" text-anchor="middle">cGMP</text>
<text transform="translate(1005.7 2323.8)" font-size="22.8" text-anchor="middle">+NMDA</text>
<polyline points="651.2,2109.8 652.0,2111.3 652.8,2112.5 653.6,2108.8 654.4,2112.8 655.2,2112.5 656.0,2108.3 656.8,2111.6 657.6,2112.6 658.4,2107.9 659.2,2109.1 660.0,2111.6 660.8,2110.3 661.6,2112.6 662.4,2109.4 663.2,2109.5 664.0,2107.6 664.8,2108.3 665.6,2112.3 666.4,2108.2 667.2,2112.4 668.0,2111.8 668.0,2110.8 668.0,2109.5 668.1,2108.0 668.1,2109.3 668.1,2114.5 668.1,2115.8 668.1,2116.4 668.1,2112.4 668.2,2117.2 668.2,2114.4 668.2,2114.5 668.2,2118.5 668.2,2118.4 668.2,2118.0 668.3,2115.9 668.3,2115.2 668.3,2116.2 668.3,2117.3 668.3,2117.3 668.3,2120.3 668.4,2119.1 668.4,2119.0 668.4,2123.8 668.4,2121.0 668.4,2119.1 668.4,2119.6 668.5,2123.7 668.5,2120.8 668.5,2124.7 668.5,2121.7 668.5,2125.2 668.5,2126.7 668.6,2126.6 668.6,2125.0 668.6,2129.6 668.6,2131.0 668.6,2130.5 668.6,2131.7 668.7,2132.5 668.7,2129.0 668.7,2130.7 668.7,2130.3 668.7,2133.3 668.8,2129.7 668.8,2130.6 668.8,2132.6 668.8,2133.7 668.8,2137.1 668.8,2133.3 668.9,2131.6 668.9,2134.7 668.9,2138.4 668.9,2133.8 668.9,2137.0 668.9,2138.1 669.0,2140.2 669.0,2137.3 669.0,2139.6 669.0,2142.4 669.0,2143.1 669.0,2140.9 669.1,2139.9 669.1,2142.4 669.1,2143.5 669.1,2143.6 669.1,2144.1 669.1,2142.7 669.2,2145.4 669.2,2143.5 669.2,2143.2 669.2,2142.8 669.2,2146.3 669.2,2144.3 669.3,2145.5 669.3,2146.1 669.3,2147.1 669.3,2147.9 669.3,2152.1 669.3,2149.7 669.4,2150.3 669.4,2149.8 669.4,2151.3 669.4,2153.6 669.4,2152.1 669.4,2152.6 669.5,2152.0 669.5,2151.4 669.5,2152.1 669.5,2150.8 669.6,2151.6 669.6,2149.5 669.6,2151.4 669.6,2152.0 669.7,2148.5 669.7,2152.2 669.7,2149.7 669.7,2150.3 669.8,2148.5 669.8,2150.4 669.8,2149.2 669.8,2145.0 669.9,2147.3 669.9,2144.9 669.9,2147.6 669.9,2144.6 670.0,2143.2 670.0,2141.4 670.0,2147.2 670.1,2141.0 670.1,2141.4 670.1,2145.3 670.1,2139.0 670.2,2140.9 670.2,2140.6 670.2,2141.7 670.2,2141.9 670.3,2142.6 670.3,2137.8 670.3,2135.8 670.3,2136.1 670.4,2134.2 670.4,2135.5 670.4,2137.3 670.4,2138.6 670.5,2132.9 670.5,2133.5 670.5,2137.1 670.6,2134.6 670.6,2132.8 670.6,2130.2 670.7,2129.6 670.7,2130.1 670.7,2132.3 670.8,2128.1 670.8,2130.5 670.8,2132.1 670.9,2126.2 670.9,2127.6 671.0,2127.9 671.0,2128.7 671.0,2129.1 671.1,2128.2 671.1,2126.1 671.1,2124.9 671.2,2126.3 671.2,2124.7 671.2,2127.3 671.3,2124.2 671.3,2124.1 671.3,2124.1 671.4,2122.4 671.4,2121.9 671.5,2122.6 671.6,2121.7 671.7,2123.8 671.8,2118.7 671.9,2119.5 672.0,2122.1 672.1,2120.6 672.2,2118.4 672.3,2116.2 672.4,2114.9 672.5,2115.9 672.6,2115.5 672.7,2115.1 672.8,2113.4 672.9,2114.4 673.0,2114.5 673.3,2110.9 673.6,2114.1 673.9,2114.0 674.2,2110.2 674.5,2110.1 674.8,2108.2 675.1,2110.6 675.4,2112.4 675.7,2111.0 676.0,2112.6 676.3,2113.1 676.7,2109.8 677.0,2110.3 677.3,2113.7 677.6,2116.9 677.9,2115.9 678.0,2114.6 678.0,2113.9 678.1,2113.6 678.1,2117.5 678.2,2118.7 678.2,2116.8 678.3,2115.3 678.3,2117.0 678.4,2120.4 678.5,2121.3 678.5,2119.3 678.6,2123.1 678.6,2120.3 678.7,2118.4 678.7,2120.1 678.8,2125.1 678.8,2124.4 678.9,2120.8 679.0,2122.6 679.0,2123.8 679.1,2124.9 679.1,2122.4 679.2,2128.8 679.2,2126.7 679.3,2125.4 679.4,2124.4 679.4,2128.5 679.5,2131.4 679.5,2130.4 679.6,2131.9 679.6,2132.5 679.7,2131.6 679.7,2128.1 679.8,2130.3 679.8,2132.5 679.9,2131.9 679.9,2131.1 679.9,2130.7 679.9,2136.4 680.0,2135.6 680.0,2133.7 680.0,2135.3 680.0,2138.5 680.1,2134.2 680.1,2137.9 680.1,2135.8 680.1,2140.7 680.2,2140.5 680.2,2142.0 680.2,2138.7 680.2,2140.1 680.3,2139.3 680.3,2140.0 680.3,2144.5 680.3,2145.1 680.4,2145.8 680.4,2145.7 680.4,2143.5 680.4,2145.1 680.5,2147.2 680.5,2144.6 680.5,2148.3 680.5,2148.0 680.6,2145.1 680.6,2146.1 680.6,2148.8 680.6,2145.8 680.7,2146.9 680.7,2147.0 680.7,2147.0 680.7,2152.7 680.8,2153.8 680.8,2153.2 680.8,2151.6 680.8,2153.7 680.9,2153.8 680.9,2152.7 680.9,2153.7 680.9,2151.6 681.0,2152.9 681.0,2154.0 681.0,2154.6 681.0,2157.1 681.1,2154.9 681.1,2155.3 681.1,2160.0 681.1,2159.9 681.2,2161.4 681.2,2160.9 681.2,2157.6 681.2,2160.0 681.3,2162.8 681.3,2163.1 681.3,2159.8 681.3,2162.0 681.4,2163.2 681.4,2159.9 681.4,2161.9 681.4,2165.7 681.5,2165.7 681.5,2164.7 681.5,2166.1 681.5,2166.3 681.6,2165.6 681.6,2164.4 681.6,2169.2 681.6,2169.9 681.7,2168.2 681.7,2170.9 683.0,2201.1 683.4,2202.0 683.8,2197.5 684.2,2192.6 684.6,2187.3 685.0,2177.7 685.4,2180.5 685.8,2174.3 686.2,2173.8 686.6,2171.0 687.0,2164.4 687.4,2165.4 687.8,2160.1 688.2,2162.5 688.6,2158.1 689.0,2156.7 689.4,2154.4 689.8,2156.5 690.2,2154.0 690.6,2150.5 691.0,2152.2 691.4,2147.3 691.8,2150.3 692.2,2147.9 692.6,2148.0 693.0,2146.1 693.4,2147.6 693.8,2144.9 694.2,2142.5 694.6,2142.6 695.0,2141.7 695.4,2139.1 695.8,2138.5 696.2,2141.1 696.6,2140.6 697.0,2141.0 697.4,2138.5 697.8,2136.8 698.2,2135.5 698.6,2137.0 699.0,2136.1 699.4,2137.5 699.8,2135.8 700.2,2132.9 700.6,2131.7 701.0,2129.8 701.4,2134.2 701.8,2131.4 702.2,2130.8 702.6,2128.1 703.0,2130.7 703.4,2132.9 703.8,2128.5 704.2,2131.2 704.6,2130.9 705.0,2129.9 705.4,2129.2 705.8,2126.6 706.2,2129.0 706.6,2128.1 707.0,2130.4 707.4,2127.1 707.8,2125.7 708.2,2129.1 708.6,2126.9 709.0,2124.8 709.4,2126.6 709.8,2123.0 710.2,2123.0 710.6,2127.3 711.0,2124.3 711.4,2126.3 711.8,2122.2 712.2,2123.7 712.6,2121.9 713.0,2125.4 713.4,2123.8 713.8,2122.3 714.2,2122.0 714.6,2120.6 715.0,2120.4 715.4,2123.4 715.8,2120.7 716.2,2119.2 716.6,2120.8 717.0,2121.1 717.4,2124.5 717.8,2120.3 718.2,2120.3 718.6,2123.8 719.0,2122.0 719.4,2120.1 719.8,2119.6 720.2,2118.3 720.6,2117.6 721.0,2119.6 721.4,2120.6 721.8,2116.9 722.2,2119.2 722.6,2117.1 723.0,2119.8 723.4,2117.9 723.8,2119.9 724.2,2120.6 724.6,2118.0 725.0,2117.7 725.4,2115.6 725.8,2116.3 726.2,2118.9 726.6,2120.0 727.0,2115.5 727.4,2120.9 727.8,2120.4 728.2,2116.7 728.6,2117.7 729.0,2118.5 729.4,2116.2 729.8,2116.3 730.2,2118.6 730.6,2116.9 731.0,2116.5 731.4,2117.2 731.8,2114.2 732.2,2116.5 732.6,2115.2 733.0,2114.3 733.4,2116.6 733.8,2117.7 734.2,2116.4 734.6,2116.2 735.0,2117.2 735.4,2115.5 735.8,2119.2 736.2,2114.0 736.6,2112.6 737.0,2116.2 737.4,2117.0 737.8,2114.9 738.2,2114.9 738.6,2114.5 739.0,2113.8 739.4,2117.3 739.8,2117.7 740.2,2113.8 740.6,2115.7 741.0,2114.9 741.4,2112.7 741.8,2116.6 742.2,2115.2 742.6,2118.2 743.0,2117.6 743.4,2117.5 743.8,2113.3 744.2,2112.2 744.6,2116.8 745.0,2112.1 745.4,2115.9 745.8,2112.5 746.2,2115.9 746.6,2111.6 747.0,2111.8 747.4,2116.9 747.8,2114.5 748.2,2114.0 748.6,2117.4 749.0,2116.2 749.4,2112.5 749.8,2115.6 750.2,2113.4 750.6,2113.9 751.0,2112.9 751.4,2112.3 751.8,2112.8 752.2,2112.5 752.6,2111.9 753.0,2116.4 753.4,2113.1 753.8,2114.3 754.2,2115.9 754.6,2115.0 755.0,2111.6 755.4,2116.8 755.8,2116.6 756.2,2116.0 756.6,2112.6 757.0,2115.9 757.4,2114.6 757.8,2110.6 758.2,2112.8 758.6,2114.9 759.0,2113.9 759.4,2116.5 759.8,2115.5 760.2,2115.7 760.6,2116.7 761.0,2112.5 761.4,2116.2 761.8,2110.2 762.2,2115.4 762.6,2110.7 763.0,2113.4 763.4,2113.0 763.8,2110.5 764.2,2114.2 764.6,2115.2 765.0,2111.5 765.4,2111.6 765.8,2115.1 766.2,2113.4 766.6,2110.1 767.0,2112.0 767.4,2116.1 767.8,2111.7 768.2,2111.8 768.6,2112.9 769.0,2115.7 769.4,2115.2 769.8,2112.4 770.2,2114.2 770.6,2110.0 771.0,2110.2 771.4,2112.2 771.8,2114.0 772.2,2110.7 772.6,2110.0 773.0,2115.4 773.4,2111.0 773.8,2110.1 774.2,2110.3 774.6,2110.2 775.0,2111.6 775.4,2113.5 775.8,2114.0 776.2,2111.5 776.6,2113.1 777.0,2111.8 777.4,2113.5 777.8,2110.3 778.2,2113.7 778.6,2109.6 779.0,2115.7 779.4,2111.0 779.8,2113.2 780.2,2110.8 780.6,2112.5 781.0,2111.3 781.4,2113.8 781.8,2114.7 782.2,2115.1 782.6,2116.0 783.0,2112.5 783.4,2113.1 783.8,2111.8 784.2,2111.4 784.6,2112.9 785.0,2115.9 785.4,2109.9 785.8,2114.4 786.2,2111.6 786.6,2113.4" fill="none" stroke="#9e9ea2" stroke-width="1.3" stroke-linejoin="round"/>
<line x1="668.5" y1="2085.4" x2="668.5" y2="2156.9" stroke="#a8a8a8" stroke-width="1.1"/>
<line x1="652.5" y1="2201.7" x2="724.0" y2="2201.7" stroke="#45a0b2" stroke-width="2.5" stroke-dasharray="7 2.7"/>
<polyline points="804.0,2105.1 804.8,2103.6 805.6,2106.5 806.4,2105.1 807.2,2103.8 808.0,2104.8 808.8,2101.8 809.6,2102.4 810.4,2107.8 811.2,2102.3 812.0,2104.4 812.8,2106.2 813.6,2102.0 814.4,2107.9 815.2,2103.2 816.0,2108.2 816.8,2104.7 817.6,2105.7 818.4,2105.8 819.2,2102.4 820.0,2105.1 820.8,2106.7 820.8,2107.5 820.9,2107.7 820.9,2107.8 820.9,2104.7 820.9,2107.0 821.0,2108.2 821.0,2105.6 821.0,2110.9 821.0,2107.0 821.1,2110.6 821.1,2109.1 821.1,2108.9 821.1,2114.7 821.2,2113.0 821.2,2114.2 821.2,2113.9 821.2,2114.1 821.3,2116.6 821.3,2111.8 821.3,2114.4 821.3,2113.8 821.4,2116.8 821.4,2116.0 821.4,2120.0 821.4,2116.0 821.5,2116.7 821.5,2121.5 821.5,2120.7 821.5,2119.3 821.6,2119.4 821.6,2122.3 821.6,2118.9 821.6,2123.2 821.7,2120.5 821.7,2124.8 821.7,2120.5 821.7,2126.5 821.8,2126.7 821.8,2121.7 821.8,2123.0 821.8,2128.5 821.9,2128.4 821.9,2125.4 821.9,2129.3 822.0,2128.3 822.0,2126.7 822.0,2130.1 822.0,2128.8 822.1,2127.5 822.1,2132.7 822.1,2132.3 822.1,2129.7 822.2,2131.4 822.2,2133.6 822.2,2132.0 822.2,2131.8 822.3,2134.1 822.3,2137.4 822.3,2132.2 822.3,2133.8 822.4,2135.8 822.4,2139.6 822.4,2140.2 822.4,2134.2 822.5,2138.9 822.5,2136.0 822.5,2137.0 822.5,2137.0 822.6,2139.9 822.6,2143.7 822.6,2144.0 822.6,2140.6 822.7,2144.6 822.7,2143.7 822.7,2140.2 822.7,2146.1 822.8,2142.5 822.8,2147.6 822.8,2142.6 822.8,2148.1 822.9,2146.1 822.9,2146.6 822.9,2143.9 823.0,2145.4 823.0,2146.7 823.0,2144.8 823.1,2147.1 823.1,2143.7 823.2,2145.6 823.2,2140.0 823.2,2143.5 823.3,2142.1 823.3,2143.4 823.4,2139.3 823.4,2139.6 823.4,2141.4 823.5,2137.3 823.5,2137.5 823.5,2140.1 823.6,2138.3 823.6,2136.8 823.6,2133.1 823.7,2137.6 823.7,2134.8 823.8,2133.1 823.8,2133.5 823.8,2131.4 823.9,2135.5 823.9,2134.7 824.0,2135.3 824.0,2132.9 824.0,2129.0 824.1,2130.2 824.1,2133.5 824.1,2126.4 824.2,2128.2 824.2,2126.4 824.2,2126.0 824.3,2126.2 824.3,2128.0 824.4,2123.8 824.4,2128.6 824.4,2125.2 824.5,2123.0 824.5,2122.0 824.6,2124.3 824.6,2122.6 824.6,2123.1 824.7,2120.0 824.7,2121.1 824.8,2121.6 824.9,2118.4 825.0,2120.6 825.1,2122.3 825.2,2120.2 825.3,2116.7 825.4,2119.5 825.5,2115.3 825.6,2115.2 825.7,2113.9 825.8,2116.8 825.9,2114.0 826.0,2114.1 826.1,2112.6 826.2,2117.2 826.3,2111.8 826.4,2114.8 826.5,2115.1 826.6,2112.3 826.8,2113.6 826.9,2112.4 827.1,2116.1 827.2,2115.7 827.4,2112.2 827.5,2116.8 827.7,2113.6 827.9,2116.3 828.0,2114.8 828.2,2117.2 828.3,2118.8 828.5,2119.8 828.6,2117.6 828.6,2116.4 828.7,2119.5 828.8,2123.0 828.9,2121.1 828.9,2122.1 829.0,2123.5 829.1,2123.2 829.2,2125.7 829.2,2126.2 829.3,2125.3 829.4,2126.3 829.5,2122.4 829.5,2123.7 829.6,2127.1 829.7,2126.7 829.8,2129.1 829.8,2129.0 829.9,2126.6 830.0,2126.0 830.0,2129.7 830.1,2126.6 830.2,2129.6 830.3,2128.7 830.3,2130.0 830.4,2132.2 830.5,2132.5 830.6,2132.9 830.6,2129.7 830.7,2135.7 830.8,2135.0 830.9,2136.8 830.9,2135.4 831.0,2136.1 831.1,2138.2 831.2,2137.7 831.2,2137.5 831.3,2134.1 831.3,2134.5 831.4,2139.5 831.4,2140.9 831.4,2138.3 831.5,2137.7 831.5,2139.7 831.5,2142.8 831.6,2142.8 831.6,2139.2 831.6,2140.1 831.7,2140.7 831.7,2144.7 831.8,2141.9 831.8,2146.6 831.8,2144.0 831.9,2143.1 831.9,2145.0 831.9,2143.7 832.0,2149.1 832.0,2143.9 832.0,2147.0 832.1,2147.3 832.1,2145.5 832.1,2147.2 832.2,2152.8 832.2,2152.4 832.2,2150.0 832.3,2153.5 832.3,2154.3 832.3,2154.4 832.4,2154.1 832.4,2153.5 832.5,2153.6 832.5,2155.5 832.5,2155.2 832.6,2158.2 832.6,2153.4 832.6,2158.7 832.7,2158.2 832.7,2156.7 832.7,2159.8 832.8,2156.6 832.8,2157.8 832.8,2159.6 832.9,2162.6 832.9,2158.3 832.9,2162.8 833.0,2162.1 833.0,2164.3 833.0,2160.7 833.1,2163.6 833.1,2165.6 833.2,2166.1 833.2,2165.3 833.2,2166.8 833.3,2165.9 833.3,2165.9 833.3,2164.0 833.4,2166.7 833.4,2170.2 833.4,2170.5 833.5,2165.0 833.5,2167.2 833.5,2167.3 833.6,2171.8 833.6,2167.9 833.6,2172.3 833.7,2169.0 833.7,2170.5 833.7,2175.1 833.8,2170.0 833.8,2173.6 833.9,2172.0 833.9,2175.7 833.9,2171.7 834.0,2176.2 834.0,2173.9 834.0,2179.0 834.1,2175.4 834.1,2178.1 834.1,2174.4 834.2,2180.9 834.2,2179.4 834.2,2181.7 834.2,2181.1 834.3,2177.1 834.3,2182.1 834.3,2180.2 834.3,2179.5 834.3,2184.6 834.4,2183.6 834.4,2182.0 834.4,2180.7 834.4,2185.0 834.4,2181.6 834.4,2183.3 834.5,2182.5 834.5,2183.9 834.5,2188.2 834.5,2185.5 834.5,2190.7 834.6,2186.6 834.6,2190.5 834.6,2190.6 834.6,2190.5 834.6,2190.7 834.7,2188.1 834.7,2193.2 834.7,2194.3 834.7,2192.2 834.7,2190.5 834.8,2190.3 834.8,2191.9 834.8,2197.1 834.8,2193.3 834.8,2193.6 834.9,2195.7 834.9,2193.0 834.9,2198.4 834.9,2198.9 834.9,2196.3 834.9,2194.9 835.0,2201.2 835.0,2201.1 835.0,2201.3 835.0,2198.1 835.0,2203.5 835.1,2202.0 835.1,2198.5 835.1,2205.2 835.1,2203.9 835.1,2201.0 835.2,2206.1 835.2,2204.7 835.2,2205.5 835.2,2201.9 835.2,2203.7 835.3,2208.0 835.3,2203.4 835.3,2205.0 835.3,2204.7 835.3,2208.6 835.3,2206.2 835.4,2210.9 835.4,2209.2 835.4,2211.9 835.4,2213.3 835.4,2214.2 835.5,2209.5 835.5,2211.2 835.5,2214.5 835.5,2212.0 835.5,2216.5 835.6,2213.0 835.6,2215.4 835.6,2213.5 835.6,2217.1 835.6,2214.7 835.7,2216.1 835.7,2218.6 835.7,2219.7 835.7,2215.7 835.7,2216.4 835.8,2217.2 835.8,2221.4 835.8,2221.2 835.8,2222.0 835.8,2223.1 835.8,2219.8 835.9,2222.1 835.9,2219.3 835.9,2222.1 835.9,2224.3 835.9,2222.5 836.0,2226.5 836.0,2223.2 836.0,2225.2 837.0,2235.9 837.4,2235.4 837.8,2227.5 838.2,2222.7 838.6,2212.4 839.0,2205.4 839.4,2201.5 839.8,2201.1 840.2,2198.6 840.6,2194.2 841.0,2192.2 841.4,2188.0 841.8,2186.0 842.2,2183.8 842.6,2179.8 843.0,2177.1 843.4,2172.5 843.8,2171.1 844.2,2168.2 844.6,2166.6 845.0,2166.8 845.4,2164.6 845.8,2164.9 846.2,2165.2 846.6,2160.2 847.0,2163.0 847.4,2161.4 847.8,2156.0 848.2,2157.5 848.6,2153.9 849.0,2152.0 849.4,2152.1 849.8,2151.0 850.2,2148.8 850.6,2148.1 851.0,2152.4 851.4,2152.0 851.8,2151.2 852.2,2145.2 852.6,2144.2 853.0,2149.0 853.4,2145.1 853.8,2144.3 854.2,2146.0 854.6,2144.2 855.0,2142.3 855.4,2140.5 855.8,2139.7 856.2,2143.1 856.6,2143.8 857.0,2137.6 857.4,2138.3 857.8,2139.8 858.2,2137.6 858.6,2138.6 859.0,2138.2 859.4,2136.2 859.8,2134.7 860.2,2136.3 860.6,2138.5 861.0,2133.6 861.4,2135.8 861.8,2137.2 862.2,2135.3 862.6,2133.4 863.0,2136.9 863.4,2135.5 863.8,2136.6 864.2,2131.7 864.6,2132.5 865.0,2132.0 865.4,2134.2 865.8,2132.5 866.2,2131.7 866.6,2131.1 867.0,2133.3 867.4,2129.5 867.8,2127.7 868.2,2127.7 868.6,2127.9 869.0,2126.7 869.4,2132.2 869.8,2129.2 870.2,2130.5 870.6,2128.0 871.0,2128.2 871.4,2126.0 871.8,2130.2 872.2,2126.8 872.6,2126.5 873.0,2128.5 873.4,2129.1 873.8,2129.8 874.2,2126.1 874.6,2125.6 875.0,2128.0 875.4,2125.2 875.8,2123.5 876.2,2125.1 876.6,2123.8 877.0,2123.3 877.4,2126.5 877.8,2123.6 878.2,2125.2 878.6,2122.9 879.0,2121.5 879.4,2125.8 879.8,2125.6 880.2,2125.0 880.6,2124.2 881.0,2121.2 881.4,2123.2 881.8,2125.2 882.2,2124.8 882.6,2123.3 883.0,2123.5 883.4,2120.3 883.8,2119.4 884.2,2124.5 884.6,2118.9 885.0,2120.4 885.4,2121.2 885.8,2123.1 886.2,2122.9 886.6,2123.9 887.0,2124.3 887.4,2119.8 887.8,2119.5 888.2,2118.6 888.6,2119.9 889.0,2118.3 889.4,2123.8 889.8,2121.2 890.2,2120.6 890.6,2117.6 891.0,2123.2 891.4,2118.7 891.8,2122.0 892.2,2118.2 892.6,2118.6 893.0,2117.6 893.4,2120.2 893.8,2118.4 894.2,2120.2 894.6,2121.1 895.0,2117.8 895.4,2117.1 895.8,2119.6 896.2,2118.8 896.6,2119.0 897.0,2118.4 897.4,2117.0 897.8,2116.7 898.2,2120.6 898.6,2119.9 899.0,2120.2 899.4,2119.8 899.8,2118.9 900.2,2116.8 900.6,2121.5 901.0,2118.9 901.4,2118.4 901.8,2117.0 902.2,2117.7 902.6,2121.7 903.0,2117.8 903.4,2120.4 903.8,2115.9 904.2,2118.9 904.6,2116.7 905.0,2116.4 905.4,2116.9 905.8,2117.4 906.2,2119.0 906.6,2117.4 907.0,2120.4 907.4,2115.7 907.8,2120.3 908.2,2117.5 908.6,2119.8 909.0,2117.1 909.4,2116.2 909.8,2120.3 910.2,2118.6 910.6,2119.1 911.0,2117.8 911.4,2119.0 911.8,2120.6 912.2,2119.1 912.6,2120.6 913.0,2116.5 913.4,2116.1 913.8,2119.9 914.2,2119.6 914.6,2119.9 915.0,2116.9 915.4,2116.7 915.8,2120.2 916.2,2115.3 916.6,2115.0 917.0,2115.0 917.4,2115.9 917.8,2116.6 918.2,2116.4 918.6,2116.9 919.0,2114.0 919.4,2116.0 919.8,2117.1 920.2,2114.1 920.6,2116.9 921.0,2119.7 921.4,2118.0 921.8,2119.9 922.2,2119.3 922.6,2116.9 923.0,2113.7 923.4,2114.0 923.8,2117.4 924.2,2119.1 924.6,2115.7 925.0,2114.4 925.4,2118.5 925.8,2117.0 926.2,2116.6 926.6,2114.3 927.0,2117.1 927.4,2117.2 927.8,2118.1 928.2,2119.3 928.6,2113.9 929.0,2118.8 929.4,2115.5 929.8,2116.1 930.2,2115.6 930.6,2118.6 931.0,2116.2 931.4,2113.8 931.8,2116.4 932.2,2114.2 932.6,2113.4 933.0,2113.6 933.4,2115.7 933.8,2116.2 934.2,2113.2 934.6,2114.1 935.0,2119.1" fill="none" stroke="#579ff9" stroke-width="1.4" stroke-linejoin="round"/>
<line x1="822.2" y1="2079.7" x2="822.2" y2="2167.2" stroke="#579ff9" stroke-width="1.6"/>
<line x1="800.3" y1="2237.2" x2="871.8" y2="2237.2" stroke="#45a0b2" stroke-width="2.5" stroke-dasharray="7 2.7"/>
<polyline points="655.5,2333.1 656.1,2333.3 656.7,2335.4 657.3,2333.3 657.9,2335.3 658.5,2334.0 659.1,2332.6 659.7,2330.9 660.3,2331.4 660.9,2334.5 661.5,2333.9 662.1,2332.1 662.7,2331.5 663.3,2333.8 663.9,2335.2 664.5,2331.9 665.1,2335.5 665.7,2333.3 666.3,2331.7 666.9,2331.6 667.0,2334.6 667.1,2336.1 667.3,2333.1 667.4,2333.8 667.5,2333.8 667.6,2334.6 667.8,2335.2 667.9,2336.6 668.0,2336.2 668.1,2338.8 668.3,2337.2 668.4,2337.8 668.5,2339.1 668.6,2338.3 668.8,2338.3 668.9,2338.9 669.0,2339.0 669.0,2342.7 669.1,2340.2 669.1,2342.8 669.1,2345.3 669.2,2344.5 669.2,2343.5 669.2,2344.4 669.3,2345.1 669.3,2345.1 669.3,2344.3 669.4,2345.3 669.4,2345.7 669.4,2346.5 669.5,2347.6 669.5,2347.0 669.6,2350.0 669.6,2348.5 669.6,2350.5 669.7,2351.9 669.7,2351.4 669.7,2353.1 669.8,2353.8 669.8,2352.7 669.8,2352.1 669.9,2351.7 669.9,2355.4 669.9,2354.3 670.0,2354.4 670.0,2354.0 670.0,2354.9 670.1,2358.8 670.1,2357.3 670.1,2359.6 670.2,2360.1 670.2,2357.8 670.2,2358.2 670.3,2361.8 670.3,2359.2 670.3,2361.4 670.4,2363.6 670.4,2361.8 670.5,2362.1 670.5,2365.2 670.5,2365.2 670.6,2366.0 670.6,2365.5 670.6,2363.7 670.7,2363.3 670.7,2363.7 670.7,2368.5 670.8,2367.2 670.8,2369.3 670.8,2370.2 670.9,2367.2 670.9,2371.3 670.9,2368.4 670.9,2368.5 671.0,2369.4 671.0,2373.4 671.0,2373.6 671.0,2371.3 671.0,2372.4 671.1,2374.6 671.1,2375.0 671.1,2376.0 671.1,2373.9 671.1,2373.8 671.2,2375.6 671.2,2378.2 671.2,2377.1 671.2,2378.9 671.3,2376.1 671.3,2378.1 671.3,2380.6 671.3,2379.4 671.3,2381.0 671.4,2381.6 671.4,2380.3 671.4,2382.0 671.4,2382.5 671.4,2381.8 671.5,2382.7 671.5,2384.6 671.5,2385.5 671.5,2386.5 671.5,2384.0 671.6,2386.0 671.6,2385.9 671.6,2387.9 671.6,2385.4 671.6,2387.0 671.7,2386.5 671.7,2389.6 671.7,2389.7 671.7,2386.8 671.8,2387.8 671.8,2388.5 671.8,2391.1 671.8,2392.5 671.8,2391.0 671.9,2390.2 671.9,2393.1 671.9,2393.8 671.9,2393.4 671.9,2393.1 672.0,2394.0 672.0,2394.0 672.0,2397.3 672.0,2395.7 672.0,2397.8 672.1,2397.5 672.1,2396.5 672.1,2397.2 672.1,2399.6 672.1,2401.0 672.2,2401.8 672.2,2398.6 672.2,2399.7 672.2,2399.4 672.2,2400.3 672.3,2401.8 672.3,2403.9 672.3,2405.3 672.3,2404.3 672.4,2402.6 672.4,2404.3 672.4,2403.6 672.4,2404.8 672.4,2406.7 672.5,2406.9 672.5,2405.8 672.5,2406.8 672.5,2410.3 672.5,2409.5 672.6,2409.9 672.6,2409.0 672.6,2409.4 672.6,2412.2 672.7,2409.1 672.7,2412.6 672.8,2414.6 672.8,2413.6 672.9,2411.2 672.9,2411.7 672.9,2415.8 673.0,2413.4 673.0,2415.0 673.1,2416.7 673.1,2417.3 673.2,2415.9 673.2,2418.3 673.2,2419.9 673.3,2418.3 673.3,2418.4 673.4,2420.3 673.4,2421.7 673.5,2421.3 673.5,2423.0 673.5,2422.8 673.6,2424.1 673.6,2421.3 673.7,2423.8 673.7,2422.1 673.8,2422.1 673.8,2423.7 673.9,2427.1 673.9,2424.5 673.9,2425.1 674.0,2428.5 674.0,2429.3 674.1,2428.7 674.1,2427.3 674.2,2430.0 674.2,2426.9 674.2,2427.1 674.3,2427.9 674.3,2429.7 674.4,2429.8 674.4,2433.2 674.5,2431.7 674.5,2434.2 675.9,2443.5 676.3,2443.0 676.7,2441.3 677.1,2439.1 677.5,2435.0 677.9,2433.5 678.3,2431.8 678.7,2429.2 679.1,2426.8 679.5,2420.7 679.9,2420.4 680.3,2420.3 680.7,2415.1 681.1,2412.8 681.5,2411.6 681.9,2409.2 682.3,2410.7 682.7,2408.8 683.1,2408.5 683.5,2402.4 683.9,2404.0 684.3,2402.9 684.7,2398.4 685.1,2396.5 685.5,2399.4 685.9,2397.1 686.3,2392.3 686.7,2391.6 687.1,2392.6 687.5,2389.0 687.9,2389.0 688.3,2386.5 688.7,2385.0 689.1,2385.8 689.5,2385.0 689.9,2385.4 690.3,2380.3 690.7,2381.0 691.1,2378.6 691.5,2380.0 691.9,2377.2 692.3,2377.1 692.7,2379.3 693.1,2376.8 693.5,2376.1 693.9,2375.0 694.3,2372.2 694.7,2373.8 695.1,2374.4 695.5,2369.4 695.9,2372.3 696.3,2369.2 696.7,2367.8 697.1,2369.3 697.5,2369.6 697.9,2365.7 698.3,2365.2 698.7,2366.1 699.1,2364.1 699.5,2365.0 699.9,2366.7 700.3,2361.5 700.7,2362.9 701.1,2361.3 701.5,2360.7 701.9,2362.2 702.3,2363.4 702.7,2360.7 703.1,2360.7 703.5,2360.9 703.9,2361.2 704.3,2361.3 704.7,2357.9 705.1,2356.7 705.5,2359.9 705.9,2358.0 706.3,2359.0 706.7,2355.1 707.1,2357.8 707.5,2354.3 707.9,2354.0 708.3,2353.6 708.7,2354.4 709.1,2354.4 709.5,2355.3 709.9,2356.3 710.3,2353.6 710.7,2354.0 711.1,2352.9 711.5,2352.5 711.9,2351.7 712.3,2350.2 712.7,2351.2 713.1,2353.2 713.5,2353.3 713.9,2352.6 714.3,2351.2 714.7,2350.8 715.1,2349.5 715.5,2349.6 715.9,2353.0 716.3,2350.8 716.7,2349.8 717.1,2350.2 717.5,2349.8 717.9,2348.7 718.3,2349.1 718.7,2349.0 719.1,2351.1 719.5,2350.9 719.9,2347.9 720.3,2348.5 720.7,2347.2 721.1,2350.6 721.5,2346.6 721.9,2348.1 722.3,2345.7 722.7,2347.7 723.1,2347.6 723.5,2345.3 723.9,2345.9 724.3,2347.4 724.7,2347.2 725.1,2346.3 725.5,2345.0 725.9,2346.1 726.3,2346.2 726.7,2344.9 727.1,2347.2 727.5,2345.3 727.9,2346.7 728.3,2347.4 728.7,2344.0 729.1,2346.2 729.5,2346.8 729.9,2348.0 730.3,2346.9 730.7,2347.5 731.1,2346.6 731.5,2344.5 731.9,2347.2 732.3,2346.9 732.7,2345.5 733.1,2347.6 733.5,2343.3 733.9,2347.3 734.3,2344.6 734.7,2345.5 735.1,2346.6 735.5,2343.6 735.9,2345.1 736.3,2342.7 736.7,2342.8 737.1,2347.1 737.5,2343.5 737.9,2344.5 738.3,2343.0 738.7,2346.8 739.1,2344.7 739.5,2346.4 739.9,2343.5 740.3,2344.4 740.7,2343.3 741.1,2344.9 741.5,2345.5 741.9,2344.8 742.3,2344.8 742.7,2343.4 743.1,2346.5 743.5,2342.0 743.9,2342.6 744.3,2345.0 744.7,2346.5 745.1,2345.8 745.5,2342.9 745.9,2346.2 746.3,2343.9 746.7,2344.4 747.1,2344.7 747.5,2344.6 747.9,2345.8 748.3,2345.9 748.7,2343.0 749.1,2345.8 749.5,2343.0 749.9,2344.7 750.3,2342.2 750.7,2344.5 751.1,2342.8 751.5,2346.1 751.9,2344.5 752.3,2343.2 752.7,2345.9 753.1,2341.8 753.5,2344.9 753.9,2344.4 754.3,2341.3 754.7,2343.4 755.1,2341.8 755.5,2346.0 755.9,2341.7 756.3,2344.2 756.7,2343.8 757.1,2341.7 757.5,2345.6 757.9,2343.9 758.3,2344.1 758.7,2342.3 759.1,2341.8 759.5,2342.6 759.9,2341.2 760.3,2342.0" fill="none" stroke="#3a3a3a" stroke-width="1.3" stroke-linejoin="round"/>
<line x1="665.7" y1="2313.8" x2="665.7" y2="2392.5" stroke="#909090" stroke-width="1.2"/>
<line x1="645.0" y1="2446.3" x2="716.7" y2="2446.3" stroke="#45a0b2" stroke-width="2.5" stroke-dasharray="7 2.7"/>
<polyline points="800.3,2335.9 800.9,2335.9 801.5,2335.4 802.1,2337.1 802.7,2334.2 803.3,2334.5 803.9,2336.0 804.5,2336.8 805.1,2335.0 805.7,2334.5 806.3,2334.1 806.9,2335.2 807.5,2335.3 808.1,2337.3 808.7,2334.7 808.7,2335.6 808.8,2338.1 808.8,2336.0 808.9,2335.7 808.9,2340.7 809.0,2340.9 809.0,2338.5 809.1,2338.9 809.1,2340.2 809.2,2339.5 809.2,2342.8 809.3,2343.7 809.3,2343.4 809.4,2342.4 809.4,2345.0 809.5,2346.0 809.5,2342.9 809.6,2345.7 809.6,2343.8 809.7,2348.2 809.8,2347.8 809.8,2346.5 809.8,2348.6 809.9,2346.9 809.9,2346.3 809.9,2349.0 810.0,2347.4 810.0,2349.7 810.1,2352.1 810.1,2351.3 810.1,2350.3 810.2,2350.5 810.2,2352.7 810.2,2352.9 810.3,2355.3 810.3,2352.3 810.4,2354.2 810.4,2354.6 810.4,2354.8 810.5,2354.4 810.5,2355.8 810.5,2357.1 810.6,2355.9 810.6,2357.0 810.7,2358.5 810.7,2361.0 810.7,2359.3 810.8,2359.1 810.8,2358.1 810.9,2360.9 810.9,2360.6 810.9,2360.0 811.0,2362.2 811.0,2363.4 811.0,2362.6 811.1,2365.0 811.1,2365.0 811.1,2362.8 811.2,2363.2 811.2,2366.0 811.3,2366.9 811.3,2367.1 811.3,2366.0 811.4,2367.1 811.4,2369.4 811.4,2368.3 811.5,2369.5 811.5,2368.5 811.6,2371.0 811.6,2370.7 811.6,2368.9 811.7,2373.1 811.7,2373.8 811.8,2375.2 811.8,2375.4 811.8,2374.8 811.9,2374.2 811.9,2373.7 811.9,2376.3 812.0,2375.4 812.0,2375.5 812.0,2375.0 812.1,2377.8 812.1,2378.8 812.2,2379.6 812.2,2377.1 812.2,2377.9 812.3,2380.5 812.3,2378.5 812.4,2382.7 812.4,2383.4 812.4,2382.4 812.5,2381.2 812.5,2383.1 812.5,2384.6 812.6,2383.1 812.6,2385.0 812.6,2385.3 812.7,2387.3 812.7,2387.2 812.7,2387.1 812.8,2387.1 812.8,2389.2 812.8,2388.3 812.9,2389.3 812.9,2387.9 812.9,2387.5 813.0,2390.1 813.0,2389.0 813.0,2393.1 813.1,2390.0 813.1,2393.8 813.1,2391.6 813.2,2391.4 813.2,2393.8 813.3,2393.1 813.3,2396.8 813.3,2395.5 813.4,2393.5 813.4,2395.0 813.4,2394.6 813.5,2396.9 813.5,2397.6 813.5,2397.1 813.6,2399.3 813.6,2398.7 813.6,2401.0 813.7,2400.8 813.7,2399.3 813.7,2402.6 813.8,2399.2 813.8,2400.7 813.8,2400.2 813.9,2405.2 813.9,2403.7 813.9,2405.6 814.0,2406.9 814.0,2403.1 814.0,2407.4 814.1,2403.7 814.1,2407.5 814.1,2408.4 814.2,2407.0 814.2,2409.9 814.2,2409.8 814.3,2409.0 814.3,2408.5 814.3,2408.4 814.4,2408.5 814.4,2411.3 814.4,2411.7 814.5,2410.6 814.5,2412.7 814.5,2411.1 814.6,2412.6 814.6,2414.9 814.7,2412.9 814.7,2415.2 814.7,2413.9 814.8,2418.0 814.8,2415.2 814.8,2419.2 814.9,2419.6 814.9,2420.4 814.9,2417.6 815.0,2420.0 815.0,2417.6 815.0,2422.4 815.1,2421.6 815.1,2418.9 815.1,2419.9 815.2,2420.3 815.2,2422.0 815.2,2425.3 815.3,2425.1 815.3,2423.4 818.0,2442.2 818.4,2443.3 818.8,2438.3 819.2,2439.0 819.6,2435.6 820.0,2430.8 820.4,2430.9 820.8,2427.0 821.2,2426.5 821.6,2422.8 822.0,2420.7 822.4,2416.4 822.8,2416.2 823.2,2416.4 823.6,2413.0 824.0,2411.7 824.4,2409.1 824.8,2407.0 825.2,2403.7 825.6,2403.2 826.0,2401.5 826.4,2399.5 826.8,2397.9 827.2,2399.8 827.6,2399.6 828.0,2396.8 828.4,2396.1 828.8,2391.9 829.2,2393.7 829.6,2390.2 830.0,2391.3 830.4,2387.2 830.8,2386.3 831.2,2386.3 831.6,2383.8 832.0,2382.9 832.4,2384.1 832.8,2383.4 833.2,2383.4 833.6,2380.8 834.0,2378.5 834.4,2378.1 834.8,2377.8 835.2,2377.0 835.6,2377.7 836.0,2375.2 836.4,2376.3 836.8,2373.2 837.2,2372.3 837.6,2369.5 838.0,2370.2 838.4,2370.3 838.8,2367.3 839.2,2368.7 839.6,2366.5 840.0,2366.6 840.4,2368.9 840.8,2368.5 841.2,2364.0 841.6,2365.7 842.0,2364.7 842.4,2362.1 842.8,2362.7 843.2,2363.3 843.6,2362.3 844.0,2362.5 844.4,2359.6 844.8,2361.7 845.2,2361.2 845.6,2358.8 846.0,2360.1 846.4,2361.5 846.8,2360.9 847.2,2359.1 847.6,2358.3 848.0,2359.0 848.4,2357.2 848.8,2358.0 849.2,2356.1 849.6,2356.6 850.0,2357.1 850.4,2356.1 850.8,2355.8 851.2,2354.5 851.6,2354.0 852.0,2355.2 852.4,2353.9 852.8,2353.5 853.2,2353.0 853.6,2352.3 854.0,2353.6 854.4,2354.6 854.8,2351.0 855.2,2353.0 855.6,2352.2 856.0,2352.4 856.4,2352.3 856.8,2350.8 857.2,2348.8 857.6,2350.2 858.0,2350.8 858.4,2351.1 858.8,2352.3 859.2,2350.8 859.6,2350.6 860.0,2349.0 860.4,2351.0 860.8,2347.6 861.2,2351.0 861.6,2349.0 862.0,2348.7 862.4,2349.6 862.8,2348.8 863.2,2350.8 863.6,2346.4 864.0,2346.0 864.4,2348.4 864.8,2346.5 865.2,2346.4 865.6,2350.0 866.0,2347.6 866.4,2346.3 866.8,2346.6 867.2,2345.8 867.6,2345.8 868.0,2345.1 868.4,2349.1 868.8,2347.8 869.2,2345.9 869.6,2344.6 870.0,2348.6 870.4,2348.1 870.8,2344.2 871.2,2347.9 871.6,2346.2 872.0,2348.2 872.4,2345.5 872.8,2345.4 873.2,2343.3 873.6,2346.0 874.0,2344.3 874.4,2347.3 874.8,2344.0 875.2,2347.1 875.6,2344.4 876.0,2346.6 876.4,2346.1 876.8,2347.1 877.2,2345.3 877.6,2344.2 878.0,2343.7 878.4,2343.5 878.8,2342.8 879.2,2343.7 879.6,2343.7 880.0,2346.1 880.4,2342.2 880.8,2344.5 881.2,2344.5 881.6,2342.7 882.0,2345.3 882.4,2342.9 882.8,2345.4 883.2,2342.6 883.6,2346.0 884.0,2343.2 884.4,2342.1 884.8,2342.4 885.2,2342.6 885.6,2342.2 886.0,2343.0 886.4,2346.1 886.8,2343.3 887.2,2343.3 887.6,2345.0 888.0,2341.7 888.4,2341.7 888.8,2345.5 889.2,2342.8 889.6,2342.1 890.0,2342.1 890.4,2344.7 890.8,2345.8 891.2,2343.0 891.6,2344.5 892.0,2343.3 892.4,2342.0 892.8,2342.5 893.2,2342.6 893.6,2342.2 894.0,2344.8 894.4,2341.4 894.8,2342.8 895.2,2344.4 895.6,2341.0 896.0,2345.5 896.4,2343.8 896.8,2344.0 897.2,2341.7 897.6,2341.8 898.0,2344.8 898.4,2345.4 898.8,2340.8 899.2,2344.6 899.6,2341.7 900.0,2341.1 900.4,2343.5 900.8,2341.1 901.2,2344.7 901.6,2344.7 902.0,2342.0 902.4,2341.3 902.8,2343.1 903.2,2344.2 903.6,2340.8 904.0,2343.9 904.4,2341.1 904.8,2342.4 905.2,2341.3 905.6,2340.9 906.0,2343.1 906.4,2341.9 906.8,2344.9 907.2,2344.8 907.6,2344.0 908.0,2342.9 908.4,2343.6 908.8,2342.0 909.2,2342.7 909.6,2343.1 910.0,2342.4 910.4,2342.5 910.8,2344.5" fill="none" stroke="#f59ac6" stroke-width="1.2" stroke-linejoin="round"/>
<line x1="807.0" y1="2319.3" x2="807.0" y2="2382.8" stroke="#f59ac6" stroke-width="1.0"/>
<line x1="796.0" y1="2445.7" x2="867.7" y2="2445.7" stroke="#45a0b2" stroke-width="2.5" stroke-dasharray="7 2.7"/>
<polyline points="948.6,2335.9 949.2,2337.7 949.8,2336.7 950.4,2337.2 951.0,2335.2 951.6,2334.4 952.2,2334.9 952.8,2335.9 953.4,2336.9 954.0,2336.7 954.6,2337.4 955.2,2336.9 955.8,2335.2 956.4,2334.3 956.9,2338.6" fill="none" stroke="#579ff9" stroke-width="1.1" stroke-linejoin="round"/>
<line x1="955.3" y1="2318.0" x2="955.3" y2="2378.7" stroke="#579ff9" stroke-width="1.1"/>
<polyline points="956.9,2338.6 957.2,2339.0 957.5,2339.2 957.8,2340.7 958.2,2341.3 958.5,2341.0 958.8,2341.9 958.8,2342.4 958.9,2342.4 958.9,2342.8 958.9,2344.3 958.9,2344.5 959.0,2344.6 959.0,2345.9 959.0,2344.7 959.0,2346.5 959.1,2346.5 959.1,2346.6 959.1,2346.7 959.1,2348.1 959.2,2349.2 959.2,2348.3 959.2,2350.2 959.2,2350.9 959.3,2349.8 959.3,2351.0 959.3,2351.4 959.3,2351.6 959.4,2351.7 959.4,2352.5 959.4,2354.3 959.4,2354.6 959.5,2355.4 959.5,2354.9 959.5,2355.4 959.5,2355.1 959.6,2356.3 959.6,2357.1 959.6,2358.4 959.6,2357.1 959.7,2358.8 959.7,2358.1 959.7,2360.4 959.7,2359.4 959.8,2360.9 959.8,2361.2 959.8,2360.9 959.8,2361.9 959.9,2362.3 959.9,2362.3 959.9,2363.3 959.9,2363.1 960.0,2364.9 960.0,2365.9 960.0,2365.6 960.0,2365.8 960.1,2366.5 960.1,2366.3 960.1,2368.0 960.1,2368.4 960.2,2367.7 960.2,2368.8 960.2,2368.8 960.3,2370.4 960.3,2369.5 960.3,2371.8 960.3,2370.7 960.4,2372.7 960.4,2371.9 960.4,2373.1 960.4,2374.0 960.5,2374.9 960.5,2375.3 960.5,2374.4 960.5,2376.0 960.6,2375.9 960.6,2375.9 960.6,2377.0 960.7,2378.5 960.7,2377.1 960.7,2379.0 960.7,2379.2 960.8,2380.4 960.8,2380.1 960.8,2380.1 960.8,2381.8 960.9,2380.8 960.9,2382.5 960.9,2382.2 961.0,2382.2 961.0,2383.0 961.0,2384.8 961.0,2384.0 961.1,2386.0 961.1,2385.0 961.1,2387.0 961.1,2385.8 961.2,2387.5 961.2,2387.7 961.2,2388.4 961.2,2389.5 961.3,2388.6 961.3,2390.7 961.3,2390.3 961.4,2391.3 961.4,2390.7 961.4,2392.7 961.4,2392.7 961.5,2392.7 961.5,2392.7 961.5,2394.5 961.5,2394.4 961.6,2395.7 961.6,2396.0 961.6,2396.3 961.6,2396.7 961.7,2396.1 961.7,2397.9 961.7,2398.2 961.8,2397.5 961.8,2397.9 961.8,2398.5 961.8,2399.2 961.9,2400.8 961.9,2401.3 961.9,2401.7 961.9,2401.6 962.0,2403.2 962.0,2402.1 962.0,2402.8 962.1,2403.7 962.1,2403.9 962.1,2405.3 962.1,2406.0 962.2,2406.3 962.2,2406.0 962.2,2407.0 962.2,2407.0 962.3,2408.0 962.3,2408.4 962.3,2408.2 962.3,2410.1 962.4,2410.5 962.4,2411.0 962.4,2410.1 962.5,2410.9 962.5,2412.4 962.6,2413.0 962.6,2413.1 962.7,2414.3 962.7,2413.8 962.7,2413.9 962.8,2414.9 962.8,2415.0 962.9,2415.7 962.9,2417.0 963.0,2416.6 963.0,2417.9 963.0,2418.1 963.1,2417.5 963.1,2419.0 963.2,2420.2 963.2,2420.2 963.3,2421.1 963.3,2421.2 963.3,2422.4 963.4,2421.0 963.4,2422.3 963.5,2422.4 963.5,2424.0 963.6,2423.5 963.6,2424.8 963.7,2425.3 963.7,2424.5 963.7,2426.2 963.8,2426.1 963.8,2426.5 963.9,2427.8 963.9,2428.2 964.0,2427.9 964.0,2429.4 964.0,2428.6 964.1,2429.1 964.1,2431.3 964.2,2431.8 964.2,2432.4 964.3,2433.0 964.3,2433.0 966.3,2446.3 966.7,2446.2 967.1,2444.9 967.5,2443.1 967.9,2442.5 968.3,2439.5 968.7,2433.1 969.1,2429.3 969.5,2428.9 969.9,2426.4 970.3,2426.3 970.7,2425.0 971.1,2421.7 971.5,2417.3 971.9,2417.8 972.3,2414.1 972.7,2414.4 973.1,2414.1 973.5,2411.8 973.9,2409.3 974.3,2406.3 974.7,2408.5 975.1,2406.7 975.5,2403.5 975.9,2400.0 976.3,2401.7 976.7,2399.0 977.1,2397.7 977.5,2396.4 977.9,2394.6 978.3,2392.8 978.7,2394.0 979.1,2392.3 979.5,2390.7 979.9,2391.2 980.3,2388.9 980.7,2386.2 981.1,2385.7 981.5,2386.1 981.9,2385.7 982.3,2384.6 982.7,2384.2 983.1,2381.4 983.5,2382.5 983.9,2380.7 984.3,2378.3 984.7,2376.9 985.1,2378.5 985.5,2378.7 985.9,2378.5 986.3,2377.1 986.7,2376.4 987.1,2374.5 987.5,2372.2 987.9,2371.7 988.3,2373.8 988.7,2370.3 989.1,2370.7 989.5,2370.4 989.9,2367.2 990.3,2367.1 990.7,2366.9 991.1,2369.2 991.5,2368.6 991.9,2364.7 992.3,2364.5 992.7,2368.0 993.1,2363.5 993.5,2366.1 993.9,2364.6 994.3,2365.5 994.7,2364.4 995.1,2360.9 995.5,2363.7 995.9,2363.0 996.3,2359.3 996.7,2363.2 997.1,2359.7 997.5,2360.2 997.9,2360.1 998.3,2359.8 998.7,2359.5 999.1,2356.8 999.5,2360.2 999.9,2358.3 1000.3,2355.9 1000.7,2357.5 1001.1,2355.7 1001.5,2356.6 1001.9,2357.7 1002.3,2357.5 1002.7,2354.4 1003.1,2354.7 1003.5,2357.7 1003.9,2355.8 1004.3,2353.4 1004.7,2355.2 1005.1,2353.2 1005.5,2352.2 1005.9,2354.7 1006.3,2351.9 1006.7,2351.8 1007.1,2354.1 1007.5,2355.3 1007.9,2350.8 1008.3,2353.8 1008.7,2350.7 1009.1,2350.1 1009.5,2349.7 1009.9,2349.6 1010.3,2352.8 1010.7,2353.5 1011.1,2349.0 1011.5,2349.5 1011.9,2348.8 1012.3,2350.4 1012.7,2349.8 1013.1,2349.0 1013.5,2351.9 1013.9,2348.3 1014.3,2350.7 1014.7,2348.2 1015.1,2350.5 1015.5,2347.9 1015.9,2348.1 1016.3,2351.7 1016.7,2348.2 1017.1,2348.9 1017.5,2349.8 1017.9,2351.3 1018.3,2349.0 1018.7,2346.8 1019.1,2349.4 1019.5,2349.4 1019.9,2348.8 1020.3,2347.7 1020.7,2349.7 1021.1,2346.0 1021.5,2348.2 1021.9,2348.1 1022.3,2349.8 1022.7,2349.0 1023.1,2346.4 1023.5,2347.0 1023.9,2347.9 1024.3,2346.8 1024.7,2345.2 1025.1,2349.6 1025.5,2346.9 1025.9,2345.3 1026.3,2345.3 1026.7,2344.6 1027.1,2348.8 1027.5,2345.1 1027.9,2347.0 1028.3,2348.8 1028.7,2347.9 1029.1,2347.0 1029.5,2345.5 1029.9,2347.3 1030.3,2347.8 1030.7,2344.9 1031.1,2345.0 1031.5,2345.8 1031.9,2346.6 1032.3,2348.0 1032.7,2346.5 1033.1,2344.9 1033.5,2347.0 1033.9,2344.2 1034.3,2344.0 1034.7,2343.5 1035.1,2346.2 1035.5,2346.1 1035.9,2345.5 1036.3,2345.9 1036.7,2344.1 1037.1,2344.2 1037.5,2346.0 1037.9,2345.1 1038.3,2345.5 1038.7,2347.4 1039.1,2345.3 1039.5,2346.6 1039.9,2343.2 1040.3,2345.3 1040.7,2343.1 1041.1,2343.8 1041.5,2343.7 1041.9,2344.6 1042.3,2343.5 1042.7,2347.2 1043.1,2344.2 1043.5,2344.2 1043.9,2343.0 1044.3,2344.4 1044.7,2346.4 1045.1,2345.2 1045.5,2346.9 1045.9,2345.5 1046.3,2345.6 1046.7,2344.6 1047.1,2346.5 1047.5,2344.6 1047.9,2343.1 1048.3,2343.5 1048.7,2346.2 1049.1,2342.7 1049.5,2343.2 1049.9,2345.4 1050.3,2345.6 1050.7,2344.5 1051.1,2345.4 1051.5,2344.3 1051.9,2345.1 1052.3,2342.4 1052.7,2344.2 1053.1,2346.9 1053.5,2345.0 1053.9,2343.8 1054.3,2345.2 1054.7,2346.9 1055.1,2344.4 1055.5,2344.1 1055.9,2346.1 1056.3,2346.2 1056.7,2343.2 1057.1,2345.3 1057.5,2343.5 1057.9,2343.8 1058.3,2345.9 1058.7,2343.8 1059.1,2346.4 1059.5,2344.4 1059.9,2346.2 1060.3,2342.6 1060.7,2343.9 1061.1,2342.1 1061.5,2346.1 1061.9,2346.2 1062.3,2344.3 1062.7,2344.2 1063.1,2346.6 1063.5,2343.8 1063.9,2343.4" fill="none" stroke="#1aa552" stroke-width="1.2" stroke-linejoin="round"/>
<line x1="950.5" y1="2450.4" x2="1022.3" y2="2450.4" stroke="#45a0b2" stroke-width="2.5" stroke-dasharray="7 2.7"/>
<path d="M1036.8,2408.6 L1095.8,2408.6 L1095.8,2367.5" fill="none" stroke="#000" stroke-width="2.8"/>
<text transform="translate(1119.0 2388.0) rotate(-90)" font-size="21" text-anchor="middle">50 pA</text>
<text transform="translate(1076.8 2434.0)" font-size="21" text-anchor="middle">40 ms</text>
<text x="1150.0" y="2045.0" font-size="44.5" font-weight="bold">p</text>
<line x1="1289.0" y1="2047.0" x2="1289.0" y2="2308.7" stroke="#000" stroke-width="2.6"/>
<line x1="1282.0" y1="2048.2" x2="1289.0" y2="2048.2" stroke="#000" stroke-width="2.6"/>
<text transform="translate(1276.8 2056.4) scale(1.100 1)" font-size="22.9" text-anchor="end">2.5</text>
<line x1="1282.0" y1="2100.1" x2="1289.0" y2="2100.1" stroke="#000" stroke-width="2.6"/>
<text transform="translate(1276.8 2108.3) scale(1.100 1)" font-size="22.9" text-anchor="end">2.0</text>
<line x1="1282.0" y1="2151.9" x2="1289.0" y2="2151.9" stroke="#000" stroke-width="2.6"/>
<text transform="translate(1276.8 2160.1) scale(1.100 1)" font-size="22.9" text-anchor="end">1.5</text>
<line x1="1282.0" y1="2203.8" x2="1289.0" y2="2203.8" stroke="#000" stroke-width="2.6"/>
<text transform="translate(1276.8 2212.0) scale(1.100 1)" font-size="22.9" text-anchor="end">1.0</text>
<line x1="1282.0" y1="2255.6" x2="1289.0" y2="2255.6" stroke="#000" stroke-width="2.6"/>
<text transform="translate(1276.8 2263.8) scale(1.100 1)" font-size="22.9" text-anchor="end">0.5</text>
<line x1="1282.0" y1="2307.5" x2="1289.0" y2="2307.5" stroke="#000" stroke-width="2.6"/>
<text transform="translate(1276.8 2315.7) scale(1.100 1)" font-size="22.9" text-anchor="end">0.0</text>
<line x1="1280.3" y1="2307.5" x2="1678.6" y2="2307.5" stroke="#000" stroke-width="2.6"/>
<line x1="1327.4" y1="2307.5" x2="1327.4" y2="2315.0" stroke="#000" stroke-width="2.6"/>
<line x1="1405.2" y1="2307.5" x2="1405.2" y2="2315.0" stroke="#000" stroke-width="2.6"/>
<line x1="1483.0" y1="2307.5" x2="1483.0" y2="2315.0" stroke="#000" stroke-width="2.6"/>
<line x1="1561.4" y1="2307.5" x2="1561.4" y2="2315.0" stroke="#000" stroke-width="2.6"/>
<line x1="1638.6" y1="2307.5" x2="1638.6" y2="2315.0" stroke="#000" stroke-width="2.6"/>
<rect x="1305.8" y="2200.2" width="43.3" height="107.3" fill="#a1a0a5"/>
<rect x="1383.3" y="2157.2" width="43.7" height="150.3" fill="#579ff9"/>
<rect x="1461.3" y="2200.2" width="43.3" height="107.3" fill="#333333"/>
<rect x="1539.5" y="2211.4" width="43.7" height="96.1" fill="#f797c6"/>
<rect x="1616.8" y="2213.9" width="43.6" height="93.6" fill="#00bb00"/>
<line x1="1405.2" y1="2157.2" x2="1405.2" y2="2137.0" stroke="#579ff9" stroke-width="1.8"/>
<line x1="1393.8" y1="2137.0" x2="1415.8" y2="2137.0" stroke="#579ff9" stroke-width="1.8"/>
<circle cx="1312.0" cy="2204.1" r="4.8" fill="#fff" stroke="#a1a0a5" stroke-width="2.5"/>
<circle cx="1319.7" cy="2204.1" r="4.8" fill="#fff" stroke="#a1a0a5" stroke-width="2.5"/>
<circle cx="1327.3" cy="2204.1" r="4.8" fill="#fff" stroke="#a1a0a5" stroke-width="2.5"/>
<circle cx="1334.8" cy="2204.1" r="4.8" fill="#fff" stroke="#a1a0a5" stroke-width="2.5"/>
<circle cx="1342.5" cy="2204.1" r="4.8" fill="#fff" stroke="#a1a0a5" stroke-width="2.5"/>
<circle cx="1467.5" cy="2204.1" r="4.8" fill="#fff" stroke="#333333" stroke-width="2.5"/>
<circle cx="1475.2" cy="2204.1" r="4.8" fill="#fff" stroke="#333333" stroke-width="2.5"/>
<circle cx="1482.8" cy="2204.1" r="4.8" fill="#fff" stroke="#333333" stroke-width="2.5"/>
<circle cx="1490.3" cy="2204.1" r="4.8" fill="#fff" stroke="#333333" stroke-width="2.5"/>
<circle cx="1498.0" cy="2204.1" r="4.8" fill="#fff" stroke="#333333" stroke-width="2.5"/>
<circle cx="1405.0" cy="2079.7" r="4.8" fill="#fff" stroke="#579ff9" stroke-width="2.5"/>
<circle cx="1405.0" cy="2157.2" r="4.8" fill="#fff" stroke="#579ff9" stroke-width="2.5"/>
<circle cx="1390.3" cy="2173.7" r="4.8" fill="#fff" stroke="#579ff9" stroke-width="2.5"/>
<circle cx="1405.0" cy="2185.9" r="4.8" fill="#fff" stroke="#579ff9" stroke-width="2.5"/>
<circle cx="1419.3" cy="2189.4" r="4.8" fill="#fff" stroke="#579ff9" stroke-width="2.5"/>
<circle cx="1553.5" cy="2196.4" r="4.8" fill="#fff" stroke="#f797c6" stroke-width="2.5"/>
<circle cx="1567.5" cy="2202.7" r="4.8" fill="#fff" stroke="#f797c6" stroke-width="2.5"/>
<circle cx="1546.5" cy="2211.4" r="4.8" fill="#fff" stroke="#f797c6" stroke-width="2.5"/>
<circle cx="1560.8" cy="2220.8" r="4.8" fill="#fff" stroke="#f797c6" stroke-width="2.5"/>
<circle cx="1574.5" cy="2223.6" r="4.8" fill="#fff" stroke="#f797c6" stroke-width="2.5"/>
<circle cx="1631.4" cy="2206.9" r="4.8" fill="#fff" stroke="#00bb00" stroke-width="2.5"/>
<circle cx="1644.7" cy="2207.9" r="4.8" fill="#fff" stroke="#00bb00" stroke-width="2.5"/>
<circle cx="1623.7" cy="2213.9" r="4.8" fill="#fff" stroke="#00bb00" stroke-width="2.5"/>
<circle cx="1638.4" cy="2217.3" r="4.8" fill="#fff" stroke="#00bb00" stroke-width="2.5"/>
<circle cx="1652.4" cy="2223.6" r="4.8" fill="#fff" stroke="#00bb00" stroke-width="2.5"/>
<path d="M1323.9,2109.0 L1323.9,2046.1 L1404.3,2046.1 L1404.3,2061.2" fill="none" stroke="#000" stroke-width="2.6"/>
<text x="1355.2" y="2045.4" font-size="37.7" font-weight="bold" style="font-family:'Liberation Sans', Arial, sans-serif">*</text>
<text transform="translate(1221.5 2174.7) rotate(-90) scale(1.040 1)" font-size="27.5" text-anchor="middle">Normalized C-eEPSCs</text>
<text transform="translate(1339.9 2339.0) rotate(-45)" font-size="24.8" text-anchor="end">Control</text>
<text transform="translate(1416.3 2330.2) rotate(-45)" font-size="24.8" text-anchor="end">NMDA</text>
<text transform="translate(1496.7 2330.2) rotate(-45)" font-size="24.8" text-anchor="end">Control</text>
<text transform="translate(1574.6 2330.2) rotate(-45)" font-size="24.8" text-anchor="end">NMDA</text>
<text transform="translate(1641.2 2329.2) rotate(-45)" font-size="24.8" text-anchor="end">cGMP</text>
<text transform="translate(1668.4 2342.2) rotate(-45)" font-size="24.8" text-anchor="end">+NMDA</text>
<line x1="1561.4" y1="2211.4" x2="1561.4" y2="2206.9" stroke="#f797c6" stroke-width="1.8"/>
<line x1="1550.0" y1="2206.9" x2="1572.8" y2="2206.9" stroke="#f797c6" stroke-width="1.8"/>
<line x1="1638.6" y1="2213.9" x2="1638.6" y2="2210.5" stroke="#00bb00" stroke-width="1.8"/>
<line x1="1627.0" y1="2210.5" x2="1650.0" y2="2210.5" stroke="#00bb00" stroke-width="1.8"/>
<line x1="1303.0" y1="2401.1" x2="1419.3" y2="2401.1" stroke="#000" stroke-width="3"/>
<line x1="1468.2" y1="2401.1" x2="1646.5" y2="2401.1" stroke="#000" stroke-width="3"/>
<text transform="translate(1359.4 2430.5)" font-size="23" text-anchor="middle">PKG-I<tspan font-size="16" dy="-6.9">fl/fl</tspan></text>
<text transform="translate(1363.4 2457.7)" font-size="23" text-anchor="middle">CFA 24h</text>
<text transform="translate(1557.5 2429.0)" font-size="23" text-anchor="middle">SNS-PKG-I<tspan font-size="16" dy="-6.9">-/-</tspan></text>
<text transform="translate(1556.6 2457.7)" font-size="23" text-anchor="middle">CFA 24h</text>
</svg></body></html>
